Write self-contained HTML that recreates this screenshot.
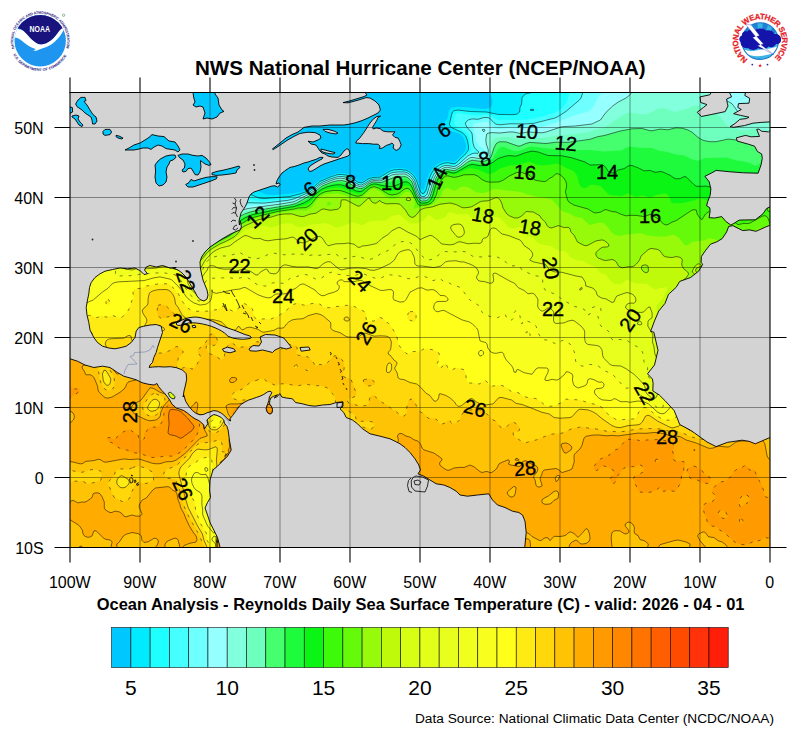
<!DOCTYPE html>
<html><head><meta charset="utf-8"><title>SST</title>
<style>html,body{margin:0;padding:0;background:#fff}svg{display:block}text{font-family:"Liberation Sans",sans-serif;fill:#000}</style></head><body>
<svg width="800" height="737" viewBox="0 0 800 737">
<rect width="800" height="737" fill="#fff"/>
<defs><clipPath id="mc"><rect x="70" y="92" width="700" height="456"/></clipPath></defs>
<g clip-path="url(#mc)">
<rect x="66" y="88" width="712" height="466" fill="#00c8ff"/>
<path d="M68.0 88.0L116.3 88.0L117.2 92.0L118.0 92.9L120.0 93.6L134.0 92.6L136.0 91.1L137.6 88.0L173.8 88.0L176.0 91.0L176.5 94.0L176.0 95.2L174.0 95.5L170.0 91.8L166.0 92.4L162.0 92.2L160.1 94.0L159.6 100.0L158.0 102.6L156.0 103.2L152.9 102.0L150.1 98.0L148.0 96.4L146.0 96.4L142.0 97.6L138.0 97.1L136.3 100.0L136.2 104.0L138.0 105.7L140.2 106.0L140.8 108.0L140.6 114.0L142.0 119.7L146.0 123.8L148.0 124.3L150.0 123.8L151.8 122.0L152.8 120.0L155.2 112.0L158.0 108.8L160.0 107.6L166.0 108.4L170.0 108.2L172.0 109.4L175.5 114.0L176.0 116.0L178.0 117.4L182.0 115.8L190.0 108.2L192.0 107.1L194.0 107.0L196.4 108.0L195.5 112.0L198.0 115.9L198.7 116.0L196.0 121.0L190.8 124.0L190.5 126.0L194.0 128.2L196.0 128.2L202.0 125.8L204.0 122.2L203.5 120.0L200.2 116.0L205.4 110.0L205.4 108.0L204.0 106.2L200.1 104.0L202.0 102.6L206.0 103.3L208.0 102.0L212.9 94.0L214.9 88.0L226.0 88.0L226.8 92.0L230.0 96.2L232.0 99.9L232.4 108.0L230.2 112.0L230.5 114.0L232.0 115.0L236.0 112.9L238.0 113.1L240.0 115.2L242.0 120.0L242.6 124.0L245.1 128.0L248.0 131.1L249.3 134.0L250.1 136.0L250.0 138.5L245.3 142.0L243.6 144.0L242.0 147.9L240.0 148.8L236.0 149.6L226.0 147.5L218.0 148.9L217.1 150.0L216.9 152.0L219.5 162.0L218.0 167.3L216.0 168.2L210.0 169.2L208.5 170.0L207.1 172.0L209.0 174.0L212.0 175.9L216.0 176.8L222.9 180.0L238.0 182.6L244.0 184.9L250.0 186.2L255.9 190.0L264.0 193.8L268.0 194.7L274.0 195.0L292.0 193.7L302.0 191.7L310.0 188.2L318.0 181.2L322.0 178.9L338.0 173.0L344.0 173.1L348.0 174.3L352.0 176.3L358.0 180.6L360.0 181.5L362.0 181.4L370.0 176.9L380.0 175.7L388.0 170.4L392.0 168.5L400.0 167.8L404.0 168.2L408.0 169.4L413.9 174.0L416.9 178.0L422.0 190.2L422.8 190.0L424.0 189.3L426.7 180.0L429.1 174.0L432.0 169.0L434.7 166.0L438.0 163.5L444.0 161.3L448.0 160.9L454.0 161.8L458.0 158.7L464.0 152.4L465.6 150.0L466.1 146.0L465.1 142.0L463.7 138.0L462.0 135.7L459.8 134.0L454.4 132.0L450.0 130.8L444.0 130.9L443.3 130.0L443.0 128.0L443.7 124.0L447.5 118.0L448.2 116.0L448.5 112.0L450.0 108.9L452.0 107.6L456.0 107.0L468.0 107.2L472.0 108.1L484.0 109.1L489.5 108.0L491.8 106.0L492.4 104.0L492.4 100.0L490.5 94.0L488.0 92.3L484.0 91.8L482.0 90.7L480.9 88.0L776.0 88.0L776.0 552.0L66.0 552.0L66.0 88.0ZM161.1 120.0L158.5 122.0L157.4 124.0L158.0 126.0L159.5 128.0L162.0 129.5L166.0 129.3L168.0 130.2L170.0 133.1L174.0 134.4L176.6 138.0L179.2 140.0L180.2 142.0L178.0 143.0L176.0 142.5L168.0 136.9L166.0 137.3L164.0 139.0L162.1 142.0L160.6 146.0L158.0 146.9L156.0 146.8L150.0 143.8L144.0 143.2L143.8 144.0L146.0 148.0L150.0 151.5L153.9 158.0L158.0 162.2L160.1 164.0L164.0 165.3L172.0 165.3L174.0 163.8L176.5 160.0L176.7 154.0L178.0 152.6L184.0 152.4L186.0 154.0L186.7 160.0L188.8 164.0L187.2 166.0L187.0 168.0L189.7 170.0L192.0 170.5L194.8 172.0L199.2 172.0L200.0 171.5L201.3 170.0L205.0 162.0L202.9 160.0L198.0 158.1L197.3 156.0L197.5 154.0L199.4 150.0L198.6 144.0L199.8 142.0L203.1 140.0L205.2 138.0L204.7 134.0L202.0 132.4L200.0 133.3L198.0 137.1L196.9 138.0L196.0 138.5L194.0 138.4L192.0 137.6L190.6 136.0L189.4 130.0L189.2 128.0L189.8 126.0L189.2 124.0L186.0 122.1L184.0 121.9L180.0 123.8L176.0 129.8L174.0 129.5L172.0 127.8L168.0 126.8L165.9 122.0L164.0 119.9L162.0 119.5ZM232.3 122.0L234.0 124.5L236.0 125.1L237.1 124.0L236.7 122.0L234.0 120.5ZM186.0 97.8L188.0 97.1L190.0 97.3L190.8 98.0L190.0 102.0L188.0 103.2L186.0 102.2L184.4 100.0L185.5 98.0ZM236.0 163.5L242.0 162.5L244.9 166.0L245.5 168.0L245.0 170.0L240.0 173.2L238.0 173.6L236.0 172.0L234.1 168.0L233.6 166.0L234.9 164.0Z" fill="#00ebff" fill-rule="evenodd"/>
<path d="M68.0 88.0L100.4 88.0L136.0 141.5L148.0 154.0L154.0 161.8L164.0 170.2L171.9 174.0L182.0 176.4L192.0 180.1L214.0 185.6L220.0 188.1L229.2 190.0L240.0 190.6L259.1 198.0L264.0 198.6L290.0 196.5L300.0 193.9L306.0 191.8L310.0 189.7L320.0 181.4L330.0 177.1L338.0 174.5L342.0 174.4L346.0 175.1L350.0 176.7L358.0 182.3L362.0 182.9L370.0 178.3L374.0 177.4L380.0 177.2L390.0 171.0L394.0 169.9L400.0 169.4L406.0 170.2L408.0 171.0L412.0 174.0L416.4 180.0L420.0 190.9L422.0 193.4L424.0 193.3L426.1 190.0L428.7 180.0L431.2 174.0L433.7 170.0L436.0 167.5L440.0 164.6L444.0 163.2L448.0 162.7L454.0 163.9L456.0 163.0L466.0 153.4L468.4 150.0L468.5 146.0L467.3 140.0L465.8 136.0L462.0 132.4L452.4 128.0L450.0 126.0L449.4 124.0L451.8 114.0L452.5 112.0L454.0 110.7L458.0 110.0L470.0 111.5L486.3 112.0L498.0 114.4L512.0 114.7L516.0 114.3L517.2 114.0L519.6 112.0L520.0 107.4L521.6 104.0L522.0 97.9L523.1 96.0L525.6 94.0L536.0 91.4L544.0 90.8L551.0 88.0L776.0 88.0L776.0 552.0L66.0 552.0L66.0 88.0ZM529.9 110.0L532.0 110.6L534.1 110.0L532.0 109.1L530.0 109.9Z" fill="#1effff" fill-rule="evenodd"/>
<path d="M68.0 88.0L99.4 88.0L136.0 142.9L147.0 154.0L151.2 160.0L156.0 164.9L164.0 172.1L170.0 175.8L180.4 180.0L196.0 184.5L218.8 192.0L226.0 193.5L230.0 194.9L238.0 196.3L244.0 198.2L262.0 201.3L288.0 198.7L296.0 196.8L310.0 190.8L314.0 188.1L320.0 182.6L322.0 181.5L334.0 176.7L338.0 175.6L342.0 175.5L348.0 177.0L358.0 183.3L360.0 184.1L362.0 184.1L370.0 179.2L374.0 178.3L380.0 178.3L390.0 172.4L392.0 171.5L396.0 170.8L402.0 170.7L406.0 171.3L410.6 174.0L415.4 180.0L420.0 193.3L422.0 195.1L424.0 195.2L425.6 194.0L426.7 192.0L431.7 176.0L436.0 169.5L440.0 166.2L444.0 164.5L448.0 164.2L454.0 165.3L456.0 164.6L470.0 152.0L471.1 150.0L469.7 138.0L468.2 134.0L464.0 130.7L456.0 126.4L454.4 124.0L454.0 119.0L454.8 116.0L456.0 113.9L460.0 113.0L468.0 114.5L478.0 115.4L486.0 114.5L490.0 115.5L498.0 119.9L500.0 120.3L526.0 119.8L536.0 118.3L554.0 112.7L558.0 111.0L562.0 108.2L565.6 104.0L567.6 100.0L569.4 94.0L569.7 88.0L776.0 88.0L776.0 552.0L66.0 552.0L66.0 88.0Z" fill="#46ffff" fill-rule="evenodd"/>
<path d="M68.0 88.0L98.6 88.0L134.0 141.5L146.0 154.0L152.0 161.9L162.0 171.6L165.3 174.0L171.9 178.0L182.0 182.3L194.0 185.6L220.0 194.5L226.0 196.1L236.0 202.1L240.0 203.5L246.0 202.7L264.0 203.1L288.0 200.3L294.0 198.9L309.6 192.0L322.0 182.4L330.0 179.1L338.0 176.6L342.0 176.5L346.0 177.2L350.0 179.0L358.0 184.3L360.0 185.0L362.0 184.9L370.0 180.1L374.0 179.1L380.0 179.1L382.0 178.5L392.0 172.7L398.0 171.9L404.0 171.9L406.0 172.4L408.0 173.2L411.5 176.0L414.5 180.0L418.0 191.1L420.0 195.0L422.0 196.6L424.0 196.6L426.0 195.5L427.0 194.0L432.0 178.0L434.0 174.0L438.0 169.1L442.0 166.4L446.0 165.3L454.0 166.5L455.8 166.0L458.8 164.0L468.0 155.8L472.0 153.7L474.0 153.2L478.0 153.3L479.0 152.0L476.0 149.5L474.0 146.6L472.8 142.0L472.2 134.0L465.2 124.0L466.0 122.0L468.1 120.0L472.0 118.9L478.0 119.3L484.0 117.5L488.0 117.6L490.0 118.5L494.0 122.8L496.0 124.2L500.0 124.8L510.0 123.8L526.0 123.9L534.0 123.3L554.9 118.0L558.0 116.6L566.0 111.4L579.4 100.0L581.0 98.0L584.2 88.0L776.0 88.0L776.0 552.0L66.0 552.0L66.0 88.0Z" fill="#6effff" fill-rule="evenodd"/>
<path d="M68.0 88.0L97.9 88.0L134.0 142.4L145.4 154.0L151.4 162.0L162.0 172.5L170.0 178.0L180.0 183.0L186.0 185.3L208.1 192.0L224.0 198.0L226.3 200.0L227.3 204.0L234.0 207.9L236.0 208.4L238.0 208.3L246.0 206.1L264.0 204.8L286.0 202.0L294.0 200.3L310.0 192.7L322.0 183.3L336.0 177.9L340.0 177.3L345.4 178.0L350.1 180.0L358.0 185.2L362.0 185.7L370.0 180.8L374.0 179.8L380.0 180.0L382.0 179.4L390.0 174.7L394.0 173.2L404.0 172.9L407.6 174.0L410.0 175.7L412.2 178.0L414.6 182.0L417.5 192.0L419.7 196.0L422.0 197.8L424.0 197.9L426.0 197.0L428.0 194.5L433.1 178.0L436.0 172.9L440.0 168.8L442.0 167.6L446.0 166.4L448.0 166.3L454.0 167.6L456.0 167.0L460.4 164.0L466.0 158.9L470.0 156.3L472.0 155.8L478.0 156.8L482.0 156.7L484.0 155.9L485.3 154.0L485.5 152.0L484.6 150.0L478.0 144.6L476.5 142.0L475.2 134.0L472.7 126.0L474.0 123.7L486.0 121.3L488.0 122.1L491.1 126.0L493.8 128.0L500.0 129.0L512.0 127.6L520.0 128.3L536.0 127.7L542.0 126.9L556.0 122.8L574.0 115.5L582.0 113.0L587.4 112.0L590.0 110.6L593.9 106.0L597.5 98.0L602.2 92.0L604.0 88.0L776.0 88.0L776.0 552.0L66.0 552.0L66.0 88.0Z" fill="#96ffff" fill-rule="evenodd"/>
<path d="M68.0 88.0L97.5 88.0L133.2 142.0L146.6 156.0L150.0 161.1L162.0 173.2L170.0 178.8L194.0 191.5L200.0 194.2L208.0 196.3L216.9 200.0L219.1 202.0L220.0 208.8L221.9 210.0L226.0 211.0L232.0 213.4L236.0 212.8L242.0 210.1L248.0 208.5L294.0 201.7L310.0 193.6L314.0 190.9L322.0 184.1L332.0 180.1L340.0 178.2L344.0 178.6L348.0 179.9L356.0 185.2L360.0 186.7L362.0 186.6L370.0 181.6L374.0 180.5L380.0 180.8L382.0 180.3L392.0 174.9L396.0 174.2L404.0 173.9L406.0 174.3L410.0 176.8L412.7 180.0L414.5 184.0L416.8 192.0L420.0 197.7L422.0 198.9L426.0 198.4L428.0 196.5L429.2 194.0L434.1 178.0L436.3 174.0L440.0 170.0L443.5 168.0L446.0 167.3L454.0 168.6L456.0 168.1L460.0 165.6L466.5 160.0L470.0 157.8L472.0 157.3L480.0 158.7L482.0 158.6L484.4 158.0L487.0 156.0L488.0 154.1L488.3 150.0L486.3 144.0L485.8 140.0L486.7 134.0L488.0 133.2L492.0 132.6L500.0 133.0L510.0 131.9L514.0 132.1L520.0 133.4L528.0 132.0L542.0 132.8L546.0 132.0L562.0 126.7L575.4 126.0L591.8 124.0L600.4 120.0L606.0 112.3L612.7 106.0L618.3 102.0L626.0 98.0L630.0 94.8L634.4 88.0L720.4 88.0L719.7 94.0L720.0 96.2L722.0 98.1L732.0 103.7L738.0 111.8L740.0 112.7L742.0 112.7L746.0 111.1L754.0 104.9L762.6 96.0L768.0 88.0L776.0 88.0L776.0 552.0L66.0 552.0L66.0 88.0ZM482.0 129.9L484.0 129.1L485.0 130.0L484.0 131.9L482.0 130.0Z" fill="#82ffdc" fill-rule="evenodd"/>
<path d="M68.0 88.0L97.0 88.0L132.7 142.0L146.0 156.0L150.0 161.7L162.0 174.0L168.0 178.3L174.0 181.6L184.0 188.2L192.0 194.6L202.0 199.6L214.2 204.0L215.8 206.0L215.3 208.0L213.0 212.0L213.0 214.0L214.0 214.9L218.8 216.0L224.0 218.3L228.0 219.3L232.7 218.0L242.0 212.8L248.0 210.7L254.0 209.3L288.0 204.2L296.0 202.2L312.0 193.3L320.0 186.4L324.0 184.0L338.0 179.4L344.0 179.6L346.0 180.2L350.0 182.1L356.0 186.2L360.0 187.6L362.0 187.5L370.0 182.3L372.0 181.6L382.0 181.3L394.0 175.7L404.0 175.1L406.0 175.5L410.0 178.0L412.0 180.4L413.7 184.0L416.9 194.0L420.0 198.9L421.9 200.0L426.0 199.6L428.2 198.0L429.4 196.0L435.1 178.0L439.2 172.0L442.0 169.8L446.0 168.3L454.0 169.6L456.0 169.1L461.0 166.0L470.0 159.2L474.0 158.9L482.0 160.1L486.0 159.1L488.0 157.7L490.1 154.0L491.3 144.0L492.0 142.0L494.0 138.9L496.0 137.8L506.0 136.8L512.0 137.4L518.0 139.4L520.0 139.5L530.0 137.2L544.0 138.1L556.0 135.7L564.0 135.3L588.0 132.2L604.0 127.4L616.0 120.0L622.0 115.4L628.0 112.8L632.0 112.7L642.0 114.4L646.0 114.3L650.0 113.1L658.0 108.6L662.0 107.9L666.0 108.5L672.0 111.3L676.0 111.7L688.0 108.4L694.0 105.8L696.0 105.5L698.4 106.0L702.0 109.2L704.0 109.7L708.0 108.2L710.0 108.1L712.0 109.3L718.0 115.0L728.0 126.1L732.0 128.1L740.0 130.2L748.4 130.0L756.0 128.8L758.0 128.9L759.9 130.0L761.9 136.0L763.9 138.0L776.0 141.9L776.0 552.0L66.0 552.0L66.0 88.0Z" fill="#6effbe" fill-rule="evenodd"/>
<path d="M68.0 88.0L96.6 88.0L132.2 142.0L145.5 156.0L149.7 162.0L162.0 174.6L168.0 179.1L173.2 182.0L184.0 189.7L191.5 196.0L209.2 206.0L210.4 208.0L210.5 210.0L207.8 218.0L208.0 218.7L224.0 225.0L228.5 224.0L240.0 216.4L244.6 214.0L250.0 212.1L256.0 210.6L290.0 205.0L296.0 203.5L312.0 194.4L322.0 186.0L332.0 182.1L338.0 180.7L342.0 180.6L346.0 181.6L356.0 187.4L360.0 188.6L364.0 187.5L368.6 184.0L372.0 182.4L373.9 182.0L380.0 182.6L382.0 182.3L392.6 178.0L404.0 176.6L406.0 176.9L408.3 178.0L412.0 182.0L416.2 194.0L420.0 200.2L422.0 201.1L426.0 200.7L428.0 199.7L430.0 197.0L436.0 178.3L438.0 174.9L440.6 172.0L443.7 170.0L446.0 169.3L454.0 170.7L456.0 170.1L462.0 166.5L467.8 162.0L472.0 160.2L482.0 161.6L487.7 160.0L490.2 158.0L491.4 156.0L494.0 148.0L496.0 143.9L498.0 142.4L500.0 141.7L506.0 141.9L518.0 146.1L520.1 146.0L526.0 143.4L530.0 142.4L546.0 143.5L556.0 142.2L568.0 142.4L590.0 139.3L598.0 136.6L604.0 135.6L620.0 131.1L632.0 128.8L642.0 128.5L650.0 130.7L652.0 130.8L660.0 129.1L668.0 129.8L676.0 127.8L682.0 128.2L688.0 130.0L692.0 132.2L698.0 137.4L702.4 140.0L706.0 141.0L710.0 141.7L716.0 141.7L728.0 139.1L740.0 140.4L748.0 140.0L752.0 141.4L756.0 144.7L758.0 144.9L762.0 142.6L764.0 142.4L772.0 145.1L776.0 145.6L776.0 552.0L66.0 552.0L66.0 88.0Z" fill="#46ff6e" fill-rule="evenodd"/>
<path d="M68.0 88.0L96.1 88.0L132.0 142.3L145.0 156.0L149.2 162.0L164.0 176.9L184.0 191.0L190.0 196.3L196.3 200.0L207.1 208.0L208.3 210.0L208.4 212.0L206.2 216.0L202.0 220.0L200.8 222.0L201.5 224.0L208.0 225.4L220.0 230.1L222.0 230.2L226.0 228.9L232.0 225.1L242.0 217.4L252.0 213.2L296.0 204.7L310.0 197.3L320.0 188.8L324.0 186.3L330.2 184.0L338.0 182.3L342.0 182.4L346.0 183.5L356.0 188.9L360.0 189.8L362.0 189.6L364.0 188.6L370.1 184.0L372.0 183.3L374.0 182.9L382.0 183.7L402.0 179.1L406.0 178.8L410.0 181.3L412.0 184.3L415.5 194.0L418.0 198.9L420.0 201.4L422.0 202.1L426.0 201.8L428.0 201.0L430.6 198.0L436.3 180.0L438.4 176.0L442.0 172.1L446.0 170.4L448.0 170.4L452.0 171.6L456.0 171.2L468.0 163.6L472.0 161.9L480.0 163.3L486.0 162.8L491.0 160.0L492.9 158.0L498.0 149.4L500.0 147.6L502.0 146.9L504.0 147.1L514.0 150.9L516.0 151.2L520.0 150.6L528.0 147.2L532.0 146.6L548.0 148.6L556.0 149.1L568.0 148.7L578.0 150.2L590.0 149.9L604.0 151.4L620.0 150.6L622.3 150.0L626.0 147.7L630.0 146.5L641.4 148.0L650.0 147.8L652.0 148.0L660.0 151.1L666.0 151.8L676.0 154.5L684.0 155.6L692.0 159.3L698.0 160.7L700.0 160.3L704.0 158.3L706.0 158.0L726.0 157.5L738.0 160.8L744.0 161.5L750.0 163.0L754.0 165.3L756.0 165.5L758.0 164.9L760.0 163.3L762.0 159.1L764.0 157.0L768.0 155.5L776.0 154.0L776.0 552.0L66.0 552.0L66.0 88.0Z" fill="#1efa3c" fill-rule="evenodd"/>
<path d="M68.0 88.0L95.7 88.0L131.3 142.0L144.0 155.4L150.0 163.4L160.0 173.9L166.0 179.4L183.6 192.0L190.0 197.6L196.0 201.3L204.7 208.0L206.5 210.0L206.8 212.0L206.0 214.0L194.6 224.0L192.8 226.0L191.9 228.0L194.0 228.8L200.0 229.5L212.0 233.1L216.0 234.8L220.0 234.6L226.0 232.1L232.0 228.0L241.2 220.0L246.0 217.3L252.0 214.8L278.0 209.2L294.0 206.5L304.0 202.9L310.0 199.4L318.0 192.0L322.0 189.0L328.0 186.5L334.0 185.1L342.0 185.0L348.0 187.0L356.0 191.0L360.0 191.6L362.0 191.1L370.0 185.2L373.3 184.0L376.0 184.0L382.0 185.5L390.0 186.6L392.0 186.5L396.0 185.4L403.9 182.0L406.0 181.8L408.0 182.3L410.2 184.0L417.7 200.0L419.3 202.0L422.0 203.2L426.0 202.8L428.4 202.0L430.7 200.0L432.6 196.0L436.0 183.9L438.0 178.8L440.0 175.6L444.0 172.2L448.0 171.6L452.0 172.8L456.0 172.5L468.0 165.6L472.0 164.3L480.0 165.7L486.0 165.6L492.0 162.9L498.0 158.6L505.9 156.0L510.0 155.6L516.0 156.2L526.0 152.5L532.0 151.1L538.2 152.0L548.0 155.5L562.0 155.8L572.0 157.8L584.9 162.0L590.0 165.0L602.0 164.7L604.4 166.0L608.0 171.2L609.1 172.0L615.4 174.0L615.1 176.0L616.0 176.7L616.7 176.0L615.7 172.0L617.9 170.0L624.0 168.7L628.0 166.1L630.0 165.4L632.0 165.5L638.6 168.0L644.0 170.9L650.0 170.4L656.0 172.3L660.0 171.5L662.0 171.7L670.0 175.2L674.0 178.1L676.0 178.8L680.0 178.7L684.0 176.7L686.0 176.7L694.0 184.7L696.0 186.1L698.0 186.4L706.0 186.1L714.0 187.8L716.0 187.5L720.0 185.6L730.0 183.7L744.0 182.7L747.6 184.0L750.0 187.6L754.0 187.3L758.0 185.4L760.0 185.5L762.1 188.0L766.0 189.3L776.0 187.1L776.0 552.0L66.0 552.0L66.0 88.0Z" fill="#0af514" fill-rule="evenodd"/>
<path d="M68.0 88.0L95.2 88.0L132.0 143.6L144.1 156.0L150.0 163.9L166.0 180.6L176.0 188.5L182.0 192.3L190.0 199.2L194.6 202.0L204.4 210.0L205.0 212.0L204.1 214.0L188.7 226.0L185.4 230.0L185.0 232.0L188.0 233.1L198.0 233.9L204.0 237.0L212.0 239.7L214.0 239.9L218.0 239.0L228.0 233.9L234.0 229.3L240.0 222.7L246.0 219.1L252.0 216.4L260.0 214.2L280.0 209.9L294.0 207.6L306.0 204.7L310.0 202.2L316.0 195.6L320.2 192.0L324.0 189.9L328.0 188.7L336.0 187.5L342.0 187.9L354.0 192.8L358.0 193.8L362.0 192.9L370.0 186.4L374.0 185.1L378.0 185.9L388.0 190.3L392.0 190.9L398.0 189.4L404.0 185.7L408.0 185.4L410.0 186.7L412.0 189.8L418.0 202.3L420.0 203.9L426.0 203.9L430.0 202.4L432.1 200.0L434.6 194.0L437.9 182.0L439.9 178.0L444.0 173.8L448.0 173.2L454.0 174.6L458.0 173.3L464.0 169.9L470.0 167.9L478.0 169.5L486.0 173.2L490.0 173.8L494.0 172.7L500.0 168.5L510.0 165.5L520.0 164.4L528.0 161.7L530.0 161.7L536.0 164.6L542.0 165.6L550.0 164.8L556.0 163.4L560.0 164.6L566.2 168.0L571.5 170.0L574.4 172.0L577.3 176.0L578.6 182.0L580.0 185.3L582.0 187.4L584.0 188.0L586.0 187.9L588.5 186.0L592.0 184.6L598.0 185.4L600.3 186.0L602.0 187.2L608.2 194.0L610.0 195.0L620.0 196.1L622.1 196.0L628.0 193.3L634.0 196.6L636.0 196.9L642.0 195.6L644.0 195.7L648.0 197.2L650.0 197.4L652.0 197.0L656.0 195.0L664.0 193.5L666.0 193.6L668.8 196.0L669.9 198.0L670.9 202.0L672.0 203.0L682.0 203.3L694.0 200.5L700.0 198.0L708.0 200.4L716.0 199.0L720.0 199.3L724.7 200.0L730.0 202.2L738.0 208.9L740.0 209.7L742.0 209.5L746.0 208.1L752.0 207.8L754.0 207.2L760.3 202.0L761.5 200.0L762.2 194.0L764.0 192.5L776.0 189.4L776.0 552.0L66.0 552.0L66.0 88.0Z" fill="#3cfa0a" fill-rule="evenodd"/>
<path d="M68.0 88.0L94.7 88.0L131.8 144.0L143.5 156.0L148.0 162.3L157.4 172.0L165.7 182.0L174.0 197.2L175.5 198.0L176.0 198.9L176.8 196.0L178.0 194.4L180.0 194.4L182.6 196.0L188.0 201.1L196.0 206.2L200.5 210.0L201.8 212.0L200.0 214.3L188.0 221.8L182.0 227.7L179.8 234.0L180.0 237.0L182.0 237.9L190.0 238.0L194.0 238.8L202.0 243.4L208.0 245.3L212.0 244.4L230.0 235.4L234.3 232.0L240.9 224.0L246.0 220.9L254.0 217.2L278.0 211.4L297.9 208.0L306.0 207.6L308.0 206.7L312.0 203.4L318.0 195.7L324.0 192.0L334.0 190.4L340.0 190.5L354.0 195.5L358.0 196.3L362.0 195.1L370.0 187.9L374.0 186.6L378.6 188.0L388.0 194.0L392.0 195.0L397.3 194.0L404.0 189.3L408.0 188.4L410.0 189.6L412.0 192.5L418.0 204.5L420.0 205.3L426.0 205.0L430.0 203.8L432.0 202.4L433.8 200.0L436.6 194.0L438.0 187.4L440.0 182.4L444.0 177.0L446.0 175.9L448.0 175.9L452.0 177.2L456.0 177.2L466.0 174.6L468.0 175.0L474.0 174.6L478.0 176.2L484.0 180.8L488.0 182.0L492.0 182.2L500.0 181.6L503.4 180.0L509.3 176.0L518.0 172.1L520.0 172.0L528.0 174.5L530.0 175.6L534.0 179.6L536.0 180.4L544.0 181.6L546.0 181.2L550.0 178.0L552.0 177.3L555.6 174.0L558.0 173.8L562.0 176.2L565.3 180.0L566.7 186.0L565.4 192.0L567.5 200.0L568.9 202.0L574.0 205.1L586.0 208.2L590.0 210.0L594.0 212.7L596.0 212.9L601.0 212.0L604.0 210.0L606.0 209.6L612.0 211.6L616.0 211.9L620.3 214.0L626.0 215.9L630.0 215.3L636.0 215.4L644.0 216.6L650.0 214.5L652.0 215.0L659.7 220.0L663.4 224.0L666.0 224.9L668.0 224.5L672.0 222.1L676.0 220.7L690.0 211.3L692.0 210.1L694.0 209.7L696.3 210.0L697.1 214.0L700.0 218.2L702.0 219.7L705.5 214.0L708.0 212.1L712.0 211.2L716.0 211.2L719.1 212.0L724.0 215.4L728.0 216.4L730.0 217.6L734.0 222.0L738.0 224.6L744.0 223.4L748.0 223.6L750.0 223.0L762.0 216.4L764.0 215.7L766.1 216.0L767.9 218.0L770.0 223.8L771.6 226.0L774.0 228.0L776.0 228.8L776.0 552.0L66.0 552.0L66.0 88.0ZM772.0 193.7L776.0 192.9L776.0 212.6L768.0 211.1L767.4 210.0L767.2 208.0L768.1 202.0L768.0 196.0L770.8 194.0Z" fill="#64fa0a" fill-rule="evenodd"/>
<path d="M68.0 88.0L94.3 88.0L95.1 90.0L110.0 111.6L131.2 144.0L144.0 157.2L148.0 163.0L156.8 172.0L162.9 180.0L164.9 184.0L169.1 196.0L171.9 206.0L177.0 220.0L179.0 228.0L178.7 232.0L177.2 236.0L172.0 242.0L174.0 242.7L186.0 243.0L190.1 244.0L197.4 250.0L198.4 252.0L198.8 256.0L200.0 256.5L202.0 255.4L204.6 252.0L208.0 249.2L216.7 244.0L232.5 236.0L236.8 232.0L239.3 228.0L242.0 225.2L248.0 221.8L256.0 218.3L282.5 212.0L298.0 210.2L306.0 210.5L310.0 208.8L312.0 207.2L318.0 198.5L320.0 196.6L326.4 194.0L338.0 193.2L356.0 198.9L360.0 198.6L364.0 196.0L370.0 189.9L374.0 188.4L378.0 190.0L388.1 198.0L392.0 199.1L396.0 198.7L398.0 197.8L406.0 191.8L408.8 192.0L410.0 192.7L412.0 195.3L414.0 199.0L414.7 202.0L414.7 204.0L413.6 208.0L414.0 208.5L416.0 208.5L418.0 207.6L428.0 205.8L432.8 204.0L441.0 196.0L443.1 190.0L446.0 188.2L448.0 188.2L454.0 190.5L456.0 190.3L460.0 187.4L464.0 186.3L469.7 188.0L476.0 192.3L482.0 193.1L486.0 192.5L492.0 189.7L496.0 188.9L504.0 190.2L518.0 191.4L524.0 193.1L526.0 194.2L530.0 194.8L536.0 196.7L540.0 197.0L552.0 199.6L562.0 211.1L568.0 213.1L576.0 217.1L582.0 218.1L588.0 223.8L590.0 224.9L598.0 222.7L602.0 222.8L604.0 223.5L606.7 226.0L612.0 232.8L613.3 234.0L616.0 235.1L620.2 236.0L624.0 234.7L634.0 234.1L640.0 233.0L648.0 235.4L656.0 236.4L666.0 236.4L672.0 234.7L674.0 234.8L679.4 238.0L684.0 244.4L686.0 245.5L688.0 245.1L692.0 242.1L694.0 241.4L702.0 240.8L710.0 238.2L716.0 239.7L722.0 242.4L726.0 245.5L728.0 246.4L730.0 246.4L740.0 240.0L748.0 232.8L755.8 230.0L760.0 227.5L762.0 227.8L762.9 230.0L763.7 238.0L767.2 246.0L768.5 252.0L768.5 256.0L770.3 266.0L769.1 282.0L769.5 284.0L772.0 288.3L773.5 290.0L776.0 291.6L776.0 552.0L66.0 552.0L66.0 88.0ZM327.8 202.0L326.7 204.0L328.0 205.6L330.0 205.6L331.1 204.0L330.1 202.0L328.0 201.8Z" fill="#96fa0a" fill-rule="evenodd"/>
<path d="M68.0 88.0L93.7 88.0L98.5 96.0L112.0 115.3L130.7 144.0L142.3 156.0L148.3 164.0L158.0 174.3L160.7 178.0L162.7 182.0L175.4 220.0L177.7 230.0L177.5 232.0L176.0 235.4L165.5 244.0L164.1 246.0L164.2 248.0L168.0 248.3L178.0 247.3L182.7 248.0L187.8 252.0L189.3 254.0L191.0 258.0L196.0 260.5L198.0 260.9L200.0 260.5L202.0 258.9L208.0 251.7L212.0 248.6L219.8 244.0L234.0 237.0L238.0 233.3L241.7 228.0L244.0 226.3L258.0 219.9L270.0 217.4L278.0 214.9L284.0 214.0L292.0 213.9L302.0 216.7L310.0 214.1L316.0 213.2L322.0 209.2L324.0 209.0L330.0 210.3L338.0 209.2L339.5 208.0L340.7 206.0L340.9 202.0L341.4 200.0L342.0 199.8L346.0 199.9L358.0 206.2L360.0 205.8L368.0 198.4L370.0 198.3L370.3 200.0L372.0 202.0L374.0 203.1L376.0 203.2L380.0 200.4L381.2 202.0L386.0 203.8L396.0 203.6L400.0 204.3L405.4 210.0L409.1 216.0L412.0 217.5L414.0 216.8L416.0 215.3L420.0 210.2L422.0 209.1L425.3 208.0L432.0 207.0L440.0 204.2L450.0 203.0L456.0 204.5L462.0 207.5L464.0 207.8L470.0 207.2L472.0 206.6L480.0 201.8L488.0 200.8L494.5 198.0L498.0 197.8L500.2 200.0L502.0 204.0L503.0 208.0L506.0 212.9L509.8 216.0L514.0 217.8L517.6 218.0L520.0 216.9L521.7 216.0L526.0 211.5L533.3 212.0L540.0 215.9L541.0 218.0L545.3 222.0L547.3 226.0L550.0 227.8L552.0 227.8L558.0 225.7L564.0 227.6L568.0 227.3L569.5 228.0L570.8 232.0L574.0 235.0L577.5 242.0L584.0 245.4L586.0 245.8L588.0 245.2L596.0 240.9L602.0 239.9L604.0 240.4L608.5 244.0L608.9 246.0L608.0 246.8L602.0 247.3L600.0 248.8L596.3 252.0L595.8 254.0L596.3 256.0L598.1 258.0L604.0 260.3L606.0 260.5L612.0 259.5L614.0 260.1L616.4 262.0L618.4 266.0L622.0 267.9L628.0 266.8L632.0 266.7L634.0 266.0L636.4 264.0L639.6 260.0L641.0 256.0L648.0 249.8L650.0 248.7L652.0 248.5L658.0 249.5L660.0 250.9L663.7 256.0L666.0 256.9L672.0 257.6L676.0 256.6L680.0 257.3L681.1 258.0L682.4 260.0L681.7 264.0L682.1 266.0L684.0 269.1L687.7 272.0L688.7 274.0L686.0 278.0L683.2 280.0L682.5 282.0L684.0 285.4L686.0 286.1L690.0 285.2L692.0 285.4L695.2 280.0L695.7 276.0L694.7 274.0L692.2 272.0L695.1 266.0L698.0 263.8L700.0 264.0L701.7 266.0L696.6 268.0L695.5 270.0L696.2 272.0L698.0 273.6L700.0 273.3L701.8 272.0L702.8 270.0L702.5 268.0L704.0 266.4L706.0 265.7L707.4 264.0L703.2 260.0L705.5 258.0L708.0 257.4L710.0 257.6L712.0 259.3L714.0 259.9L718.0 259.6L724.0 261.5L730.0 261.5L738.0 257.3L746.0 254.9L752.0 254.7L754.0 253.7L756.0 251.4L758.2 250.0L760.0 249.5L762.0 249.8L764.0 252.0L766.5 264.0L767.0 284.0L770.4 294.0L772.0 296.6L776.0 296.8L776.0 552.0L66.0 552.0L66.0 88.0ZM641.6 266.0L641.3 268.0L642.0 269.8L644.0 272.1L646.0 272.8L648.0 272.0L648.5 270.0L648.0 266.0L646.0 264.9L642.0 265.6ZM773.8 306.0L774.0 307.2L775.1 306.0L774.0 304.9ZM408.0 197.6L410.0 198.0L410.7 200.0L410.0 200.6L406.1 200.0L406.9 198.0Z" fill="#befa0a" fill-rule="evenodd"/>
<path d="M68.0 88.0L93.0 88.0L97.9 96.0L112.0 116.0L130.0 143.9L142.0 156.5L148.0 164.5L156.0 172.8L160.0 178.5L174.2 220.0L176.5 230.0L175.6 234.0L174.0 235.8L165.2 242.0L158.6 248.0L157.1 250.0L157.4 252.0L160.0 252.5L174.2 252.0L178.0 252.8L179.8 254.0L181.3 256.0L183.2 260.0L194.5 264.0L198.0 266.2L200.0 264.6L208.0 254.0L212.0 250.4L219.3 246.0L228.0 242.4L234.0 239.1L238.0 236.2L244.0 230.0L250.0 228.2L256.0 227.6L262.0 226.1L266.0 226.1L270.0 227.5L272.0 227.4L276.0 226.4L280.0 224.5L288.0 223.0L292.0 223.8L296.0 226.3L300.0 227.5L304.0 226.9L312.0 224.2L318.0 224.1L324.0 223.1L330.0 224.5L336.0 227.6L338.0 227.6L352.0 222.5L354.0 222.3L360.0 224.7L362.0 224.9L364.0 224.7L368.0 222.1L370.0 221.4L378.0 220.6L384.0 220.8L386.0 220.3L392.0 215.9L398.0 214.5L400.0 215.1L402.0 216.5L408.0 222.1L410.0 223.2L416.0 223.4L418.0 223.0L424.0 219.8L428.0 215.1L430.0 215.6L436.0 219.8L438.0 219.6L444.0 218.0L446.0 216.2L448.0 212.9L450.0 211.9L454.0 213.5L458.0 214.3L468.0 214.2L472.0 217.4L478.0 219.8L480.0 220.0L488.0 217.0L494.0 216.5L498.0 217.3L500.0 218.3L504.1 222.0L507.1 226.0L510.0 228.1L514.0 228.5L518.0 227.1L522.0 227.7L524.0 229.9L526.0 235.2L532.0 237.8L538.0 242.9L542.0 244.5L551.1 246.0L556.0 249.4L560.0 251.0L566.0 251.5L570.0 257.0L578.0 260.8L582.0 260.6L584.0 261.3L587.8 264.0L593.3 266.0L596.3 268.0L600.0 272.4L606.0 274.9L611.6 282.0L614.0 283.7L616.0 284.3L620.0 284.2L622.0 283.4L626.0 280.3L628.1 280.0L634.0 283.1L636.0 283.6L646.0 283.7L648.0 284.6L654.0 289.2L656.0 289.5L660.0 288.0L664.0 287.4L666.0 287.3L667.2 288.0L666.8 290.0L663.3 298.0L657.8 304.0L656.7 306.0L656.6 310.0L660.0 321.2L662.0 320.6L664.4 316.0L666.1 314.0L672.0 311.3L673.3 312.0L676.0 316.4L678.0 316.6L680.0 315.7L690.0 307.9L694.0 302.0L703.1 294.0L706.0 292.6L712.0 291.2L714.2 290.0L720.0 282.7L726.6 278.0L728.0 276.4L728.5 274.0L730.0 271.9L740.0 271.7L749.0 270.0L752.7 268.0L758.0 263.4L760.0 263.1L762.0 264.0L763.0 266.0L764.0 271.8L764.4 282.0L766.6 296.0L768.5 302.0L769.9 316.0L770.1 328.0L771.4 342.0L772.0 342.6L776.0 342.4L776.0 552.0L66.0 552.0L66.0 88.0Z" fill="#d7ff14" fill-rule="evenodd"/>
<path d="M68.0 88.0L92.3 88.0L92.9 90.0L108.0 111.2L129.1 144.0L142.0 157.5L146.6 164.0L156.1 174.0L158.6 178.0L172.8 220.0L175.2 230.0L175.0 232.0L174.0 234.2L165.5 240.0L150.9 252.0L149.4 254.0L150.0 256.0L158.0 256.8L168.0 256.2L172.0 256.7L178.1 262.0L188.7 266.0L194.0 270.1L196.0 270.9L198.0 270.9L200.0 269.6L206.0 259.2L210.0 254.6L214.0 251.4L220.7 248.0L230.0 245.7L244.0 235.8L247.7 236.0L254.0 238.7L260.0 238.4L264.0 240.2L268.0 240.8L286.0 238.8L292.0 237.1L294.0 237.5L299.0 242.0L302.0 242.8L306.0 242.1L316.0 237.1L318.0 236.4L320.0 236.5L322.3 238.0L326.0 243.7L328.0 245.8L336.0 243.8L348.0 243.0L354.0 244.2L358.0 247.3L360.0 247.3L362.2 246.0L368.0 245.4L376.0 243.6L382.0 238.3L388.0 234.5L392.0 230.7L398.0 227.6L400.0 227.5L407.6 232.0L416.0 236.0L420.0 239.8L430.0 235.4L432.0 235.7L437.9 240.0L440.0 242.6L442.0 244.0L450.0 244.9L454.0 244.2L458.0 242.0L460.0 241.7L468.0 243.8L474.0 243.2L480.0 243.4L482.1 242.0L482.1 240.0L483.8 238.0L486.0 237.8L488.0 236.1L490.0 229.9L492.0 228.0L494.0 228.0L496.0 228.6L502.0 234.0L508.0 235.4L520.0 240.0L521.9 242.0L524.0 245.5L530.0 249.6L531.9 252.0L532.7 254.0L532.7 256.0L530.0 259.5L530.0 260.3L533.9 262.0L546.0 264.9L548.0 268.0L550.1 270.0L554.0 271.8L562.0 272.3L576.0 276.0L582.0 277.0L585.3 282.0L585.8 286.0L592.0 287.8L594.0 288.9L596.4 292.0L596.6 294.0L598.0 296.0L601.5 298.0L606.0 298.9L612.0 302.5L614.0 301.9L616.8 296.0L626.0 292.7L628.0 292.7L632.0 294.0L634.0 295.5L635.6 298.0L635.9 300.0L635.5 302.0L634.0 303.2L630.0 303.1L627.3 304.0L625.8 306.0L625.6 308.0L628.0 309.8L636.0 312.3L642.0 312.4L644.0 311.7L648.0 307.3L650.0 307.1L652.0 312.8L652.2 316.0L651.9 318.0L648.9 320.0L648.0 321.5L647.8 326.0L652.6 334.0L652.4 342.0L653.8 346.0L654.9 354.0L656.0 356.8L658.0 356.7L666.0 350.7L676.3 338.0L680.0 331.9L682.0 330.7L686.0 330.0L686.7 328.0L685.9 324.0L686.3 322.0L687.2 320.0L689.0 318.0L692.0 316.4L702.0 313.0L706.0 309.8L712.0 306.7L714.3 304.0L722.0 301.8L724.1 300.0L728.0 293.6L732.0 290.1L734.0 289.5L736.9 290.0L748.0 294.2L760.0 292.8L762.0 294.3L766.1 306.0L768.0 317.7L769.5 342.0L771.0 344.0L772.0 344.3L776.0 343.5L776.0 552.0L66.0 552.0L66.0 88.0ZM580.5 288.0L580.0 288.5L580.0 290.2L582.0 288.9L582.5 288.0L582.0 287.5ZM638.2 322.0L637.2 324.0L638.0 324.5L640.0 325.0L642.0 324.1L640.0 320.8ZM452.0 225.4L454.0 224.5L458.0 224.0L460.0 224.2L462.0 225.4L463.5 228.0L464.4 232.0L464.0 234.3L462.0 236.2L460.0 237.1L458.0 237.2L456.0 235.7L451.5 230.0L450.6 228.0L451.2 226.0Z" fill="#e1ff19" fill-rule="evenodd"/>
<path d="M68.0 88.0L90.8 88.0L92.7 92.0L104.0 106.8L110.3 116.0L124.9 140.0L129.2 146.0L142.0 159.2L146.6 166.0L154.0 173.7L158.0 180.0L162.9 196.0L166.0 203.4L167.7 212.0L171.6 222.0L173.1 230.0L172.9 232.0L171.1 234.0L164.0 238.4L160.3 242.0L148.0 251.0L138.4 260.0L138.0 262.2L140.0 262.5L154.0 261.0L164.0 260.7L168.0 261.2L172.1 264.0L184.0 268.0L194.0 275.9L196.0 276.3L200.0 273.9L202.6 270.0L206.0 262.6L208.0 260.3L212.0 257.4L218.0 256.0L227.1 256.0L234.0 254.3L238.0 252.5L240.0 252.6L246.0 256.4L254.0 258.9L258.0 258.5L270.0 253.6L274.0 253.2L284.0 254.8L302.0 254.1L308.0 255.6L312.0 255.0L316.0 255.5L328.0 254.6L334.0 253.6L336.0 254.2L342.0 258.5L344.0 258.9L356.0 256.2L370.0 259.3L374.0 258.3L380.0 254.2L390.0 249.4L396.0 243.6L400.0 242.0L404.0 241.4L408.0 242.0L412.0 243.9L414.3 246.0L418.0 251.4L422.0 255.9L426.0 259.5L428.0 260.0L434.0 258.6L442.0 252.4L446.0 251.5L451.3 252.0L464.0 251.5L468.0 252.5L472.1 256.0L474.0 256.6L482.0 257.0L488.0 256.1L496.0 256.5L504.0 260.0L508.0 264.7L512.0 265.9L518.0 265.6L520.0 266.9L522.0 269.9L524.0 271.5L528.0 272.8L532.0 275.2L540.0 276.5L542.0 277.4L542.8 280.0L542.7 286.0L545.2 290.0L548.0 291.9L552.0 292.9L558.5 296.0L562.3 300.0L570.0 303.8L572.7 306.0L580.8 308.0L584.0 309.4L584.9 310.0L586.0 314.3L588.0 314.9L590.1 314.0L590.5 310.0L592.0 307.8L596.0 306.7L600.0 307.5L600.6 308.0L601.0 310.0L600.8 312.0L600.0 314.3L597.9 316.0L599.7 324.0L600.9 326.0L607.1 330.0L609.0 332.0L611.0 338.0L612.8 340.0L614.0 340.6L618.0 339.4L626.0 340.0L628.0 341.0L632.0 344.3L640.0 348.4L642.4 352.0L643.9 356.0L643.9 362.0L647.3 366.0L647.7 368.0L647.1 372.0L648.0 375.8L650.0 379.0L652.0 379.9L654.0 379.3L658.4 376.0L660.0 374.0L664.4 364.0L666.0 362.7L672.0 360.2L674.3 358.0L676.9 354.0L682.0 351.1L687.7 346.0L693.8 342.0L694.7 340.0L694.3 336.0L695.8 334.0L700.0 333.1L701.8 332.0L704.0 329.5L706.0 328.4L710.0 327.6L718.0 322.2L730.0 319.1L734.5 314.0L744.0 307.6L748.0 307.6L754.0 309.8L758.0 308.8L760.0 309.4L762.0 311.4L765.3 318.0L766.0 320.9L768.1 342.0L768.8 344.0L770.0 344.8L772.0 345.1L776.0 344.4L776.0 552.0L66.0 552.0L66.0 88.0Z" fill="#e8ff1e" fill-rule="evenodd"/>
<path d="M68.0 88.0L77.2 88.0L76.2 92.0L79.4 96.0L80.1 98.0L79.1 100.0L74.0 102.9L72.5 104.0L72.0 105.1L71.7 108.0L72.4 116.0L71.4 118.0L70.0 118.9L66.0 119.8L66.0 88.0ZM84.0 101.9L86.0 101.2L92.0 103.8L98.0 103.7L102.0 106.9L110.0 118.2L111.3 124.0L110.1 128.0L110.8 132.0L110.8 140.0L106.0 144.5L104.0 150.7L102.0 152.3L98.0 152.1L92.0 154.7L90.0 154.0L92.0 153.2L92.4 152.0L92.9 144.0L93.7 142.0L96.0 139.3L100.4 136.0L100.8 132.0L99.3 128.0L96.0 123.6L90.0 122.4L86.0 120.3L83.2 118.0L82.2 116.0L82.4 114.0L83.5 112.0L85.6 110.0L86.2 108.0L84.0 104.7L83.9 102.0ZM105.4 128.0L106.0 128.6L109.6 128.0L106.0 127.5ZM80.0 129.2L82.0 128.2L84.0 128.4L86.2 130.0L86.3 132.0L84.4 138.0L82.0 140.5L80.0 141.3L78.0 140.2L73.8 136.0L72.9 134.0L74.0 131.8L76.0 131.5L78.8 130.0ZM84.0 145.7L86.0 147.5L87.0 150.0L86.8 152.0L86.0 152.3L84.0 151.6L82.2 150.0L81.6 148.0L82.0 146.6L82.8 146.0ZM130.0 157.5L131.2 158.0L132.8 168.0L132.8 170.0L132.0 171.8L126.0 173.6L123.3 176.0L122.2 178.0L122.0 184.1L120.6 186.0L112.6 190.0L106.5 202.0L104.0 203.8L102.0 202.0L100.4 198.0L102.4 192.0L101.5 188.0L102.5 180.0L104.7 176.0L104.9 174.0L104.0 171.8L101.1 168.0L102.0 166.0L108.0 167.5L114.0 171.5L118.0 171.6L120.8 170.0L122.0 168.6L126.0 160.5L128.9 158.0ZM86.0 165.7L87.0 166.0L88.1 168.0L88.0 168.9L86.0 171.3L85.7 166.0ZM66.6 186.0L68.0 186.4L70.0 188.0L71.2 190.0L72.0 196.6L73.9 200.0L78.0 201.8L81.0 204.0L82.9 206.0L84.8 210.0L87.5 212.0L90.0 215.1L95.4 218.0L96.9 220.0L101.4 224.0L103.8 228.0L105.8 234.0L108.0 235.2L112.0 234.9L118.8 240.0L119.4 242.0L118.4 248.0L116.2 250.0L112.0 251.7L111.8 254.0L113.9 258.0L118.0 260.9L123.2 268.0L126.0 269.2L132.2 270.0L138.0 268.1L146.0 268.8L156.0 268.1L164.0 266.5L178.4 270.0L182.0 271.8L186.4 276.0L188.1 284.0L192.0 290.3L196.0 294.3L198.0 294.4L198.2 294.0L199.1 290.0L199.3 284.0L200.4 280.0L207.3 270.0L208.0 267.6L210.0 265.6L214.1 266.0L218.0 268.1L224.0 269.2L230.0 269.0L236.0 271.0L242.0 269.5L244.0 269.5L250.0 271.0L256.0 275.0L258.0 274.8L260.5 272.0L266.0 268.9L267.8 270.0L268.5 272.0L270.0 273.2L274.0 273.9L276.0 273.5L278.0 272.0L280.1 268.0L282.0 266.0L284.0 265.0L286.0 264.9L292.0 266.4L298.0 267.0L308.0 266.9L316.0 268.6L318.4 268.0L322.9 264.0L326.0 262.2L328.0 261.7L330.6 262.0L337.7 268.0L340.0 269.5L342.0 269.9L348.0 268.4L358.0 267.9L366.0 268.6L369.9 270.0L374.0 270.4L380.0 268.5L390.0 263.7L394.4 260.0L397.7 254.0L399.7 252.0L404.0 250.4L408.0 249.7L410.0 250.1L412.0 252.3L414.5 258.0L414.9 264.0L417.6 266.0L422.0 266.0L434.0 267.6L441.0 266.0L445.3 262.0L448.0 261.2L456.0 260.7L460.0 261.8L464.0 262.0L470.0 264.1L473.9 266.0L476.5 268.0L478.6 272.0L478.2 274.0L476.8 276.0L476.5 278.0L478.0 280.2L480.0 281.2L484.0 281.5L490.0 283.3L492.0 282.9L493.2 282.0L493.7 280.0L492.9 274.0L494.0 273.1L496.0 273.3L514.0 283.0L515.5 284.0L516.6 286.0L518.9 288.0L524.0 290.4L528.0 293.8L532.0 293.1L534.3 294.0L537.3 298.0L538.0 300.0L537.6 306.0L540.0 310.0L542.0 311.2L544.0 310.6L548.0 307.9L549.5 308.0L552.0 309.7L553.7 312.0L553.5 320.0L554.0 322.4L556.0 323.5L564.0 322.9L568.0 321.1L572.0 320.2L574.0 320.7L581.0 326.0L584.2 330.0L584.7 332.0L584.6 338.0L585.3 342.0L586.0 343.1L588.0 344.5L596.0 345.4L598.6 346.0L600.0 346.9L602.0 349.9L602.8 356.0L603.6 358.0L610.0 364.4L614.0 365.7L620.8 366.0L626.0 368.7L634.0 374.3L640.0 380.2L644.8 386.0L645.9 392.0L647.0 394.0L652.0 398.3L654.0 398.9L655.6 398.0L658.9 392.0L662.0 388.2L668.7 378.0L671.4 376.0L674.0 375.1L676.0 375.0L680.0 376.3L682.0 376.2L686.9 370.0L691.0 362.0L692.8 360.0L696.0 358.1L701.9 356.0L705.7 354.0L708.0 352.1L711.9 344.0L713.0 340.0L717.4 336.0L720.0 334.9L722.0 334.9L732.0 336.1L738.0 334.6L742.4 330.0L748.0 327.4L756.0 325.5L760.0 326.4L762.1 328.0L764.0 331.2L766.7 344.0L768.0 345.3L769.8 346.0L772.0 346.0L776.0 345.0L776.0 552.0L66.0 552.0L66.0 185.9ZM124.0 186.6L126.0 186.5L130.4 188.0L131.6 190.0L131.4 192.0L132.0 194.6L133.0 196.0L136.0 197.5L138.0 199.2L139.2 202.0L139.3 204.0L138.0 208.7L136.0 211.2L134.0 212.5L130.0 210.0L120.0 209.0L118.2 210.0L119.5 216.0L122.0 219.9L122.0 222.1L120.0 220.6L118.7 218.0L116.0 217.0L112.0 216.5L110.0 215.1L107.3 212.0L106.6 210.0L108.0 208.4L109.7 208.0L118.0 208.8L118.2 208.0L117.3 206.0L114.5 202.0L115.1 200.0L118.0 197.2L119.2 194.0L122.7 188.0ZM98.0 212.1L100.3 214.0L100.0 216.5L98.0 216.7L96.8 216.0L96.4 214.0ZM136.0 231.6L138.1 234.0L136.9 236.0L136.0 236.5L134.2 236.0L134.3 234.0L135.7 232.0ZM126.0 251.9L128.0 250.7L136.0 250.1L138.0 251.0L138.2 252.0L132.4 258.0L130.0 259.3L128.0 259.1L126.0 256.7L125.1 254.0L125.8 252.0Z" fill="#f0ff1e" fill-rule="evenodd"/>
<path d="M67.1 200.0L73.5 208.0L77.2 216.0L84.0 221.2L88.3 226.0L89.1 228.0L90.4 236.0L98.0 244.6L102.8 256.0L106.0 259.0L108.2 264.0L115.2 270.0L115.7 272.0L115.2 274.0L115.9 276.0L132.0 275.6L142.0 273.8L160.0 272.8L164.0 272.9L174.0 274.4L176.7 276.0L180.0 279.2L185.3 288.0L192.0 296.8L196.0 299.7L202.0 301.6L204.0 301.3L205.9 300.0L206.2 298.0L204.0 289.4L204.2 284.0L206.0 281.1L208.0 279.4L212.0 278.3L228.0 277.3L234.0 278.6L246.0 277.2L250.0 279.0L258.0 285.0L264.0 286.0L268.0 285.4L272.0 283.1L274.0 282.7L284.0 283.4L287.0 282.0L288.2 280.0L290.0 278.4L294.0 277.8L302.0 274.8L306.0 274.6L308.0 275.2L316.0 279.2L320.0 278.9L330.0 272.5L332.0 272.2L338.0 274.3L348.0 275.6L354.0 275.8L360.0 273.8L362.0 273.7L364.0 274.0L374.3 278.0L378.0 278.5L382.0 277.7L386.0 275.2L390.0 274.8L400.0 276.1L406.0 278.3L412.0 279.0L418.0 276.9L424.0 276.5L428.0 277.7L432.0 280.6L434.0 280.5L438.0 278.4L440.0 278.7L444.0 281.6L448.0 282.3L454.0 285.8L458.0 286.6L461.2 288.0L468.0 298.0L469.9 300.0L479.6 306.0L480.8 308.0L481.8 312.0L483.7 314.0L486.0 315.1L492.0 317.2L498.0 317.7L502.0 314.8L504.0 314.3L506.0 315.6L506.3 318.0L509.5 320.0L511.2 320.0L512.0 319.8L513.6 318.0L513.6 314.0L514.4 312.0L516.0 310.6L518.0 312.0L520.0 316.0L520.3 318.0L519.4 320.0L520.0 322.4L522.0 324.0L522.5 322.0L524.0 320.2L528.0 321.3L534.0 324.0L536.0 326.0L538.7 334.0L542.0 339.5L548.0 340.2L556.0 344.0L558.0 343.5L562.0 340.5L564.0 340.5L570.0 344.0L571.6 346.0L574.3 352.0L575.4 356.0L575.4 360.0L576.0 362.1L578.0 364.4L582.0 366.1L584.0 366.2L590.0 364.4L598.2 366.0L604.0 370.5L612.3 374.0L624.0 386.9L626.0 388.3L632.0 387.4L636.0 389.2L638.0 391.1L641.4 396.0L647.9 400.0L658.0 408.1L660.0 408.8L662.0 408.2L663.3 406.0L663.9 398.0L665.1 394.0L668.0 389.1L670.0 387.0L672.0 385.8L676.0 385.3L684.0 387.7L686.0 387.8L690.0 386.3L696.0 385.4L698.9 382.0L700.8 376.0L702.0 374.5L708.0 370.6L719.0 360.0L719.6 358.0L719.6 354.0L720.4 352.0L722.0 349.9L724.0 348.6L726.0 349.5L732.0 354.3L736.0 354.9L740.0 354.6L741.2 354.0L742.9 352.0L743.9 348.0L747.7 340.0L752.0 338.7L758.0 338.9L760.0 340.3L764.0 346.3L766.0 347.5L776.0 345.7L776.0 552.0L66.0 552.0L66.0 233.2L72.0 231.1L73.8 228.0L74.2 226.0L73.9 222.0L73.0 220.0L66.0 215.4L66.0 198.7ZM80.1 234.0L80.1 236.0L82.0 237.4L84.0 237.5L85.4 236.0L84.3 234.0L82.0 233.5ZM85.6 248.0L82.0 250.7L80.0 251.2L76.0 250.5L74.0 252.1L73.4 254.0L85.9 268.0L88.0 268.4L89.5 268.0L94.0 264.9L96.0 264.1L98.0 264.2L100.0 262.8L100.6 260.0L100.0 258.0L96.0 252.4L94.0 250.9L91.6 250.0L89.9 248.0L88.0 246.8L86.0 247.7ZM526.1 332.0L526.0 334.0L527.6 336.0L530.0 336.0L530.2 334.0L528.0 331.9Z" fill="#f8ff1e" fill-rule="evenodd"/>
<path d="M154.0 277.8L160.0 276.9L170.0 279.1L171.9 280.0L178.0 286.1L189.4 300.0L194.0 303.0L200.0 305.1L206.0 304.2L209.5 302.0L211.4 298.0L212.0 289.7L212.3 292.0L216.0 293.4L234.0 289.7L240.0 289.0L244.0 287.4L246.0 287.8L258.0 294.8L268.0 297.9L272.0 296.8L276.0 294.0L284.0 293.9L288.0 293.1L292.1 290.0L296.0 288.1L300.0 284.7L302.0 284.0L304.0 284.1L315.0 290.0L320.0 294.8L324.0 295.7L328.0 293.9L334.6 292.0L338.0 290.2L339.2 288.0L339.3 286.0L337.3 284.0L337.2 282.0L340.0 279.9L342.4 280.0L344.0 281.6L346.0 281.7L354.0 281.6L360.0 280.3L362.0 280.7L370.0 285.5L380.0 290.2L382.0 290.5L390.0 289.5L392.0 289.9L393.6 292.0L393.0 298.0L394.0 300.0L400.0 302.1L404.0 301.7L406.0 299.7L410.0 292.2L418.0 288.1L422.0 287.8L426.0 289.8L428.0 290.1L432.0 289.6L434.0 289.9L437.0 292.0L440.0 295.4L444.0 295.6L446.0 296.4L447.5 298.0L448.2 300.0L446.0 301.4L438.0 301.5L436.0 302.1L434.4 304.0L433.8 306.0L433.7 308.0L434.5 310.0L436.0 311.3L438.0 311.8L442.0 310.5L444.0 310.4L462.0 319.9L469.4 322.0L472.4 324.0L476.6 328.0L477.9 330.0L480.0 340.9L486.0 342.7L487.0 344.0L487.8 348.0L490.8 352.0L494.0 353.2L496.0 353.3L502.0 352.1L503.8 354.0L504.0 356.0L506.3 360.0L511.8 366.0L513.0 368.0L514.0 372.1L516.0 372.3L516.6 370.0L518.0 369.4L524.0 372.7L532.0 374.3L536.0 368.9L538.0 367.8L546.8 368.0L548.0 368.9L548.4 370.0L548.1 372.0L545.2 378.0L544.9 380.0L546.0 380.6L552.0 379.3L555.9 380.0L558.0 379.8L562.9 376.0L564.9 374.0L566.0 371.9L568.0 371.8L572.1 374.0L572.9 376.0L572.4 380.0L573.4 384.0L574.5 386.0L578.0 388.0L586.0 385.0L586.9 384.0L588.0 379.6L590.0 378.6L594.0 379.7L598.0 381.9L602.0 381.9L604.1 384.0L603.9 386.0L602.4 388.0L596.0 388.8L594.8 390.0L594.3 392.0L595.0 394.0L596.7 396.0L598.8 398.0L602.0 399.9L610.0 400.5L612.0 400.1L614.0 398.6L616.0 399.1L620.0 401.4L622.0 401.8L626.0 401.6L630.0 402.3L638.0 401.0L644.0 401.8L648.6 404.0L657.4 412.0L660.0 413.4L662.0 413.8L664.0 413.5L666.0 412.1L672.0 405.5L677.4 402.0L681.4 398.0L684.0 396.7L688.0 397.0L692.0 398.8L700.0 398.4L702.0 397.7L703.7 396.0L706.0 390.1L707.8 388.0L712.0 385.1L718.0 382.7L720.0 381.1L726.0 371.5L728.0 369.2L736.0 367.8L744.0 369.4L748.0 369.1L753.1 366.0L756.0 360.2L758.0 359.2L760.0 360.3L762.1 366.0L763.2 372.0L764.0 373.9L766.0 375.1L768.0 370.9L768.9 362.0L768.7 358.0L766.8 352.0L767.2 350.0L769.2 348.0L776.0 346.3L776.0 552.0L66.0 552.0L66.0 324.5L66.6 324.0L66.0 322.3L66.0 306.4L72.0 304.7L82.0 307.7L84.0 307.4L86.0 304.0L88.0 302.1L93.2 300.0L102.5 292.0L108.3 288.0L112.0 283.9L114.0 282.8L118.0 281.9L144.0 280.6L153.2 278.0ZM478.8 352.0L478.5 354.0L480.0 356.1L482.0 355.5L483.5 354.0L483.6 352.0L482.0 350.4L480.0 350.6ZM204.9 468.0L204.9 470.0L206.0 471.7L208.0 470.1L207.2 468.0L206.0 467.5ZM193.5 474.0L191.8 478.0L191.6 482.0L194.0 487.6L196.0 490.0L200.0 492.3L202.0 496.0L201.8 504.0L202.7 510.0L202.6 514.0L203.2 516.0L207.6 526.0L214.0 533.4L215.5 530.0L215.5 526.0L213.5 520.0L212.9 516.0L210.6 488.0L208.0 478.2L206.0 474.3L202.0 474.6L200.0 474.1L198.0 472.7L196.0 472.4L194.0 473.4ZM212.3 538.0L212.0 540.2L215.6 544.0L216.0 549.9L216.0 536.8L214.0 536.0ZM68.0 279.8L74.0 280.0L78.0 283.0L82.9 290.0L83.7 292.0L83.8 294.0L82.0 297.5L80.0 298.3L76.0 297.0L72.0 300.0L66.0 299.6L66.0 279.7Z" fill="#ffff19" fill-rule="evenodd"/>
<path d="M158.0 283.9L168.0 283.8L170.0 284.8L178.6 294.0L181.3 300.0L187.5 308.0L192.0 310.7L194.0 311.3L208.0 311.1L218.0 309.4L222.0 306.4L224.0 306.2L234.0 311.6L236.0 311.1L242.0 304.0L244.0 303.5L251.6 308.0L252.9 310.0L253.7 316.0L256.0 318.9L258.0 319.7L264.0 318.8L270.0 319.2L272.0 318.6L278.0 316.0L286.0 310.8L290.9 306.0L294.0 304.2L298.0 303.1L300.0 303.3L304.0 305.2L312.0 303.5L318.0 303.6L320.0 304.2L324.0 307.2L326.0 307.8L332.0 307.5L336.0 306.4L342.0 306.5L348.0 305.1L354.0 306.3L365.1 312.0L366.0 314.0L366.0 318.3L366.6 320.0L368.0 321.3L374.0 321.0L375.9 320.0L378.0 317.9L380.0 317.6L382.0 318.1L384.8 320.0L386.0 322.4L388.0 322.8L390.0 324.9L396.0 334.2L397.3 338.0L398.0 342.4L400.0 346.8L406.0 353.3L408.0 354.0L412.0 351.5L418.0 351.6L420.0 351.2L424.0 348.8L426.0 348.7L432.0 349.6L438.0 351.9L439.3 354.0L438.8 360.0L437.0 364.0L437.6 366.0L440.0 367.2L442.0 367.1L443.0 366.0L444.0 363.4L446.0 363.5L447.8 368.0L450.0 370.1L452.0 369.8L456.0 368.0L458.0 367.8L464.0 369.8L465.6 372.0L466.4 380.0L468.0 382.3L470.0 383.2L474.0 382.8L478.0 383.9L480.0 383.8L484.0 380.2L486.0 380.8L490.0 385.7L492.0 386.2L498.0 385.2L502.0 385.5L506.0 387.2L512.0 391.7L518.0 392.6L523.2 396.0L526.0 397.1L536.0 398.5L540.0 400.9L544.0 404.4L548.0 406.2L550.0 406.4L554.0 405.7L562.0 402.5L564.4 400.0L566.0 399.1L580.1 400.0L590.0 403.3L598.0 404.9L602.7 408.0L608.0 414.4L616.0 419.5L618.0 419.9L634.0 418.9L636.0 417.4L640.0 410.0L642.0 408.2L644.0 407.5L646.0 407.6L648.0 408.5L656.0 415.3L662.0 418.8L666.0 420.3L670.1 420.0L682.0 414.1L686.7 416.0L693.7 416.0L698.0 413.9L702.0 409.7L704.0 408.6L706.0 407.9L710.0 407.9L712.0 407.1L715.3 402.0L718.0 395.8L720.0 394.0L726.0 392.8L734.0 385.3L736.0 385.1L738.0 385.8L741.5 390.0L744.0 390.3L745.9 388.0L747.4 384.0L750.0 382.0L756.0 382.1L760.0 381.5L762.0 382.5L766.0 386.6L768.0 384.7L770.0 369.4L770.4 360.0L768.8 354.0L768.8 350.0L771.8 348.0L776.0 347.0L776.0 552.0L216.4 552.0L216.0 489.3L212.4 476.0L212.9 468.0L212.0 461.2L210.6 458.0L208.0 457.3L204.0 457.7L200.0 459.1L196.2 462.0L192.0 464.2L188.0 467.5L186.6 470.0L185.7 480.0L186.6 484.0L188.5 488.0L190.2 494.0L194.5 502.0L196.0 512.0L200.8 524.0L206.6 534.0L206.8 540.0L212.0 548.0L213.5 552.0L66.0 552.0L66.0 330.6L70.0 329.3L76.0 322.4L88.0 315.6L92.0 315.7L96.0 317.7L98.0 317.4L100.0 315.9L102.0 315.7L106.0 317.1L108.0 316.9L112.0 315.2L118.0 317.5L120.0 317.9L122.0 317.3L128.0 310.7L129.6 308.0L132.0 300.2L133.9 298.0L132.9 292.0L134.0 290.0L136.0 288.8L142.0 288.1L146.6 286.0L157.6 284.0ZM214.1 414.0L215.7 416.0L214.0 418.7L210.9 422.0L210.6 424.0L212.0 426.6L214.0 427.4L216.0 427.1L217.9 426.0L219.7 424.0L221.8 418.0L220.0 415.7L218.0 415.7L216.0 413.7ZM108.0 299.1L109.0 300.0L109.6 302.0L109.4 304.0L108.0 305.0L106.0 303.2L106.0 301.4L106.7 300.0ZM410.0 311.7L414.0 311.5L415.7 312.0L416.0 320.1L414.0 321.6L409.4 320.0L407.5 318.0L407.8 314.0L409.3 312.0Z" fill="#ffeb14" fill-rule="evenodd"/>
<path d="M158.0 289.7L166.0 289.5L168.1 290.0L171.0 292.0L174.6 298.0L175.5 304.0L178.0 307.2L182.0 314.6L184.0 316.8L186.0 318.0L194.0 320.3L208.0 319.2L214.0 319.8L220.0 321.3L222.0 322.3L228.0 328.4L232.0 330.3L234.0 330.4L236.0 329.7L238.0 326.4L240.0 327.2L242.0 329.9L244.0 329.3L246.0 327.9L250.0 327.1L258.0 329.3L262.0 331.9L264.0 332.2L274.0 330.3L278.0 328.0L282.0 328.2L284.0 327.5L286.5 324.0L292.0 320.0L302.0 318.8L304.0 318.2L308.0 315.7L316.0 313.5L320.0 314.3L323.2 316.0L330.3 322.0L330.9 324.0L330.7 328.0L332.3 330.0L340.0 332.6L346.0 336.4L348.0 337.0L358.0 337.4L362.3 334.0L364.0 333.2L366.0 333.2L374.0 336.2L380.0 335.8L386.0 336.1L388.0 336.7L390.0 338.3L391.4 342.0L390.9 348.0L390.0 350.4L388.4 352.0L388.2 354.0L390.0 355.0L393.9 360.0L396.7 362.0L397.0 364.0L394.6 368.0L395.3 370.0L396.9 372.0L398.2 378.0L400.0 379.1L404.0 379.6L410.0 382.5L416.7 384.0L420.0 386.6L426.0 393.2L430.0 395.6L434.0 401.0L436.0 401.2L437.5 400.0L438.6 398.0L439.2 394.0L440.0 393.6L446.0 395.5L450.2 398.0L454.6 402.0L456.0 404.4L458.0 406.4L461.0 406.0L470.0 398.8L472.0 398.5L476.6 402.0L480.0 403.8L486.0 404.9L492.5 404.0L494.0 403.1L498.0 398.3L500.0 397.4L502.0 397.5L511.7 400.0L516.0 403.4L522.0 404.4L542.0 412.3L549.3 414.0L554.0 417.5L560.0 418.2L570.0 417.6L572.0 416.7L578.1 410.0L580.0 409.2L588.0 409.9L596.0 413.6L609.3 424.0L612.8 426.0L618.0 427.7L622.0 427.3L628.0 425.6L638.0 424.8L640.0 424.2L642.3 422.0L645.6 416.0L648.0 415.2L650.0 415.9L658.0 421.3L670.0 427.3L674.0 427.6L678.8 426.0L680.0 424.9L682.0 424.6L689.3 430.0L694.0 430.8L700.0 424.7L704.0 421.9L708.0 419.9L712.0 418.7L716.0 416.5L734.0 414.1L740.0 411.6L744.0 411.7L748.0 410.5L750.0 408.5L751.3 406.0L752.7 400.0L756.0 395.7L758.0 396.0L758.9 400.0L762.7 408.0L763.2 414.0L764.2 418.0L766.0 422.5L768.0 424.9L770.0 422.8L771.5 416.0L771.4 414.0L769.2 408.0L768.7 400.0L771.6 362.0L771.4 358.0L769.6 352.0L770.1 350.0L776.0 347.7L776.0 552.0L300.2 552.0L302.4 548.0L304.5 540.0L306.2 536.0L307.4 530.0L308.7 526.0L312.0 520.1L312.1 518.0L312.0 517.1L310.0 517.4L309.0 520.0L308.0 521.0L305.7 520.0L306.3 518.0L309.4 516.0L308.8 512.0L307.3 510.0L302.0 507.6L300.0 507.8L298.0 508.9L294.3 512.0L293.9 514.0L294.0 518.4L296.0 521.3L298.0 522.9L300.9 528.0L301.0 530.0L299.7 534.0L299.9 538.0L297.6 546.0L298.0 550.7L299.5 552.0L216.8 552.0L216.1 468.0L216.9 466.0L216.4 460.0L217.3 450.0L217.1 448.0L216.0 446.7L208.0 449.7L198.0 449.1L196.0 450.0L192.0 454.1L189.7 458.0L181.7 466.0L180.2 468.0L178.9 472.0L178.9 474.0L182.0 486.1L183.5 490.0L184.7 496.0L188.0 507.1L197.6 526.0L202.4 534.0L204.0 540.4L206.5 546.0L208.3 552.0L66.0 552.0L66.0 352.2L102.0 352.4L104.0 355.0L106.0 354.5L108.0 356.3L110.0 356.2L112.0 358.2L114.0 358.2L116.0 360.1L118.0 360.2L118.9 358.0L118.2 356.0L108.0 349.4L105.7 346.0L105.2 344.0L105.5 342.0L108.0 339.3L124.0 338.1L128.0 335.6L130.0 335.5L130.8 336.0L131.8 340.0L134.0 343.5L136.0 345.5L138.0 345.1L138.6 344.0L139.0 338.0L140.3 334.0L142.0 330.4L144.0 328.0L146.6 322.0L146.9 320.0L143.3 314.0L142.4 310.0L146.6 306.0L147.9 304.0L148.5 296.0L150.0 292.5L152.0 291.1L156.1 290.0ZM156.9 326.0L157.1 328.0L158.0 329.7L160.0 331.1L162.0 331.1L164.6 330.0L164.0 327.9L160.3 326.0L158.0 325.6ZM387.7 364.0L386.9 366.0L386.4 370.0L386.7 372.0L388.0 372.8L390.0 372.0L391.7 368.0L391.4 364.0L390.0 362.8L388.0 363.6ZM103.1 372.0L102.4 376.0L104.0 382.3L106.0 384.8L108.0 385.5L110.0 383.8L110.8 380.0L110.5 378.0L106.0 370.7L104.0 370.2ZM152.8 400.0L149.2 404.0L147.6 408.0L148.6 410.0L152.0 411.3L156.0 410.3L158.0 408.3L159.7 404.0L159.2 402.0L158.0 400.5L156.0 399.3L154.0 399.3ZM209.8 414.0L207.3 416.0L206.7 418.0L208.2 422.0L208.7 426.0L209.7 428.0L212.0 429.7L216.0 429.9L218.0 428.9L221.0 426.0L224.5 420.0L224.4 418.0L222.0 417.2L220.0 415.0L218.0 415.0L216.0 413.0L210.0 413.9ZM312.5 468.0L310.0 468.9L304.0 469.3L302.0 470.4L300.7 472.0L300.5 474.0L302.0 479.0L306.0 484.0L308.0 484.5L314.0 483.2L315.5 482.0L315.3 480.0L317.7 478.0L324.0 477.1L325.2 476.0L326.0 474.0L325.6 472.0L323.2 470.0L318.0 466.6L316.0 466.2L314.0 467.0ZM121.0 476.0L120.0 476.2L118.2 478.0L117.1 480.0L116.7 482.0L117.1 484.0L120.0 487.2L124.0 487.7L126.0 486.8L128.0 484.9L129.4 482.0L128.0 479.2L122.0 475.7ZM283.2 480.0L283.1 482.0L284.0 485.3L286.0 487.4L287.3 486.0L287.3 482.0L286.0 479.8L284.0 478.8ZM325.4 480.0L326.0 481.2L328.0 480.7L328.0 479.6L326.0 478.2ZM346.0 316.9L348.0 317.2L349.5 320.0L348.0 321.0L346.0 321.0L344.2 320.0L344.2 318.0ZM80.0 329.2L82.0 328.9L90.0 331.3L91.2 332.0L92.3 334.0L88.0 337.1L86.0 337.6L82.0 337.2L78.0 339.4L76.0 339.7L74.4 338.0L74.4 336.0L76.0 332.8L78.8 330.0Z" fill="#ffd70a" fill-rule="evenodd"/>
<path d="M158.0 305.4L160.0 304.8L164.0 304.9L166.0 305.9L172.6 312.0L174.2 314.0L174.4 316.0L172.0 316.8L168.0 316.7L162.0 318.7L160.0 317.8L158.0 315.4L157.0 312.0L157.7 306.0ZM212.0 333.9L214.0 334.2L215.5 336.0L218.3 342.0L217.1 344.0L214.0 345.5L210.0 344.8L208.0 345.0L206.4 346.0L206.1 348.0L208.1 352.0L210.1 354.0L214.0 355.1L220.0 359.1L222.0 359.4L223.7 358.0L224.6 356.0L224.7 352.0L225.5 350.0L227.5 346.0L230.0 343.2L232.0 342.8L238.0 347.2L240.0 347.4L246.0 346.4L250.0 346.9L252.0 346.6L256.0 341.9L258.0 341.7L262.0 343.6L266.0 344.0L270.0 345.7L274.0 345.3L276.0 346.7L278.0 349.1L280.0 349.9L282.0 348.7L284.3 346.0L288.0 344.3L295.7 346.0L297.3 348.0L296.3 352.0L296.6 354.0L298.0 355.2L308.0 356.9L313.0 362.0L316.0 366.6L318.0 365.0L320.0 364.4L324.0 365.0L328.0 362.2L332.0 357.5L334.0 356.0L336.0 355.7L338.0 356.6L342.3 360.0L343.4 362.0L344.2 368.0L343.0 374.0L343.3 376.0L344.0 376.9L346.0 377.7L350.0 378.4L351.3 380.0L356.0 392.0L356.5 394.0L355.4 396.0L354.0 397.0L350.0 398.3L348.0 399.7L347.6 402.0L348.0 402.5L352.0 403.4L360.0 406.5L366.0 405.5L368.4 404.0L370.0 397.0L372.0 395.4L374.0 395.8L382.0 402.3L388.5 406.0L392.0 409.4L396.0 411.0L400.0 415.7L402.0 416.5L404.0 416.0L406.3 414.0L407.0 412.0L406.6 408.0L408.4 402.0L410.0 399.5L412.0 399.0L414.0 401.0L420.0 411.7L424.0 413.9L428.0 418.0L436.0 419.0L440.0 423.7L442.0 424.1L446.0 422.6L448.0 420.6L450.0 420.8L450.4 422.0L452.0 423.5L454.0 423.7L457.4 422.0L459.4 420.0L460.7 418.0L462.0 414.0L464.7 412.0L470.0 410.1L474.0 409.4L480.0 409.8L485.1 412.0L492.0 419.3L496.0 421.3L500.0 426.7L502.0 427.9L506.0 427.6L510.0 423.2L512.0 421.9L516.0 423.6L518.8 426.0L519.6 428.0L519.4 430.0L518.0 431.8L514.0 431.5L513.3 432.0L513.8 436.0L516.0 438.2L518.0 438.9L524.0 442.8L526.0 442.8L530.0 441.3L536.1 440.0L550.0 434.3L562.0 433.2L572.0 428.7L582.0 426.7L588.0 428.1L594.0 428.5L606.0 431.1L618.0 431.8L622.0 431.6L638.0 429.0L648.0 428.5L662.0 429.0L670.0 431.5L680.4 432.0L692.0 437.1L702.0 439.4L710.8 436.0L713.1 434.0L714.0 431.8L715.9 430.0L720.0 429.2L726.0 430.0L728.0 429.5L731.5 428.0L736.0 425.0L740.0 423.7L744.0 421.5L746.0 421.2L758.0 424.6L760.0 425.8L766.3 434.0L768.0 435.6L770.0 435.6L771.7 430.0L773.5 416.0L773.1 412.0L771.5 408.0L770.8 398.0L773.0 364.0L772.7 358.0L770.9 352.0L771.8 350.0L776.0 348.7L776.0 552.0L304.0 552.0L309.7 536.0L318.2 516.0L319.2 512.0L322.0 506.0L328.7 488.0L332.2 482.0L333.6 474.0L336.3 468.0L336.6 466.0L334.6 464.0L324.0 460.5L315.5 456.0L310.0 454.5L302.0 450.0L298.0 448.7L292.0 445.7L282.0 442.0L274.0 440.2L272.3 442.0L272.7 446.0L278.6 470.0L280.1 482.0L281.9 488.0L284.7 494.0L288.6 512.0L292.5 526.0L292.9 532.0L294.8 540.0L294.6 548.0L295.4 552.0L217.2 552.0L216.7 468.0L220.3 464.0L220.3 462.0L224.6 458.0L224.5 456.0L228.0 452.0L222.8 452.0L222.0 451.1L222.5 446.0L221.4 442.0L220.0 440.2L218.0 440.1L212.0 441.9L200.0 443.2L198.0 444.1L191.6 450.0L186.0 456.4L181.5 460.0L178.0 464.3L174.0 466.8L168.0 468.7L164.3 472.0L163.6 474.0L164.2 476.0L166.0 477.9L174.0 479.1L176.7 482.0L177.7 486.0L180.0 491.0L181.5 498.0L184.8 508.0L189.5 518.0L200.0 536.3L205.4 552.0L66.0 552.0L66.0 483.5L74.0 481.0L78.0 481.4L82.0 480.8L88.0 483.7L94.0 482.6L100.0 480.8L101.0 480.0L101.7 474.0L101.5 472.0L100.0 470.8L96.0 469.7L92.0 469.5L82.0 472.3L80.0 472.3L66.0 469.4L66.0 352.9L96.0 352.9L100.0 353.4L101.1 354.0L98.9 358.0L98.8 360.0L96.9 364.0L96.9 366.0L98.7 372.0L99.5 378.0L101.3 384.0L103.7 388.0L106.0 389.8L108.0 390.6L110.0 390.5L112.0 389.4L114.3 386.0L114.7 380.0L113.4 376.0L106.6 364.0L106.3 362.0L106.9 358.0L110.0 357.2L112.0 359.1L114.0 359.1L118.0 362.9L120.0 362.8L122.0 364.4L124.0 364.2L126.0 366.3L128.0 366.3L130.0 368.3L132.0 368.2L134.0 370.2L136.0 370.1L138.0 372.1L142.0 372.1L144.0 374.1L146.0 374.1L148.0 376.1L148.8 376.0L147.7 372.0L143.5 364.0L144.0 361.5L152.0 357.6L156.1 354.0L158.0 353.1L164.0 352.9L166.0 352.3L171.0 350.0L176.0 346.6L178.0 346.7L182.0 349.8L183.3 352.0L182.1 354.0L178.2 358.0L176.5 368.0L177.5 370.0L178.0 370.5L180.0 370.1L182.7 368.0L186.0 366.9L192.0 369.1L194.5 368.0L200.5 358.0L200.4 356.0L197.7 352.0L197.6 350.0L203.3 346.0L203.9 344.0L206.1 342.0L208.7 336.0L211.6 334.0ZM294.6 366.0L293.6 368.0L296.5 368.0L297.7 366.0L296.0 364.5ZM305.6 370.0L308.0 370.7L309.7 370.0L308.0 369.1L306.0 369.6ZM257.6 380.0L250.0 382.6L242.0 389.2L234.0 392.6L232.0 394.6L231.5 396.0L231.7 398.0L237.0 400.0L240.0 400.4L248.0 399.6L254.0 399.7L265.7 398.0L270.0 398.2L280.0 401.8L286.0 406.0L288.0 406.6L296.0 406.8L302.0 409.1L310.0 411.0L316.0 410.8L322.0 412.3L350.0 420.8L356.0 423.5L360.0 426.3L370.0 429.2L372.0 428.7L374.0 426.0L374.7 424.0L372.4 422.0L364.0 421.1L358.0 421.8L356.2 420.0L355.5 416.0L353.8 414.0L348.0 410.9L345.2 410.0L342.9 408.0L340.0 404.2L335.6 402.0L334.7 396.0L328.0 388.4L326.0 387.4L320.0 385.5L316.0 385.8L306.0 384.3L296.0 386.1L290.0 384.4L282.0 383.7L276.0 385.6L267.8 382.0L264.0 379.2L260.0 379.0L258.0 379.8ZM152.7 394.0L150.0 396.0L146.0 400.8L142.9 406.0L142.6 408.0L144.0 412.0L145.8 414.0L148.0 415.4L150.0 415.9L156.0 415.1L158.0 413.5L165.0 400.0L164.7 398.0L164.0 397.5L158.0 394.5L154.0 393.6ZM205.2 414.0L204.5 418.0L206.9 428.0L208.1 430.0L210.0 431.7L212.0 432.6L216.0 432.8L220.0 430.3L222.4 428.0L226.4 422.0L226.8 420.0L224.0 416.5L222.0 416.3L220.0 414.3L218.0 414.3L216.0 412.3L210.0 412.5L206.0 413.4ZM131.7 468.0L128.0 469.6L122.0 468.9L116.9 470.0L115.3 472.0L113.9 476.0L108.2 482.0L108.1 484.0L114.0 497.2L122.0 501.5L126.0 501.0L129.8 498.0L130.7 494.0L133.6 488.0L136.0 484.2L138.0 482.6L146.0 483.5L150.5 482.0L153.7 480.0L152.2 472.0L150.0 470.5L144.0 467.6L140.0 466.4L136.0 466.5L132.0 467.9ZM364.0 379.7L370.0 378.5L372.6 380.0L374.2 382.0L374.8 384.0L374.0 384.9L372.0 385.6L367.7 386.0L366.0 384.9L363.7 382.0L363.4 380.0Z" fill="#ffc305" fill-rule="evenodd"/>
<path d="M776.0 349.9L776.0 360.1L774.0 356.1L772.9 352.0L775.6 350.0ZM68.0 353.7L98.3 354.0L92.0 360.0L90.0 363.9L88.0 364.9L84.0 365.2L82.3 366.0L82.1 368.0L84.8 372.0L86.0 374.8L90.0 374.7L94.0 377.5L97.5 386.0L98.9 392.0L104.0 396.9L106.0 397.9L108.0 398.1L112.0 397.1L120.0 392.3L124.0 389.1L128.0 382.2L130.0 381.3L136.3 380.0L135.0 378.0L129.6 374.0L129.3 370.0L132.0 369.6L134.0 371.5L136.0 371.5L138.0 373.5L142.0 373.5L144.0 375.7L146.1 376.0L146.0 377.2L142.9 382.0L146.0 383.8L148.1 382.0L148.7 380.0L148.4 378.0L150.0 377.9L152.0 379.8L154.0 379.7L158.0 383.7L160.5 384.0L162.3 386.0L162.0 388.2L166.0 386.7L168.0 388.3L170.0 388.3L171.7 390.0L171.8 392.0L186.0 406.2L188.0 406.2L190.2 408.0L194.4 404.0L195.7 402.0L196.6 402.0L197.9 404.0L196.5 412.0L198.0 414.3L200.0 414.6L201.9 416.0L203.9 428.0L204.5 430.0L206.9 434.0L207.2 436.0L200.0 438.4L184.5 454.0L176.0 460.2L172.0 461.6L166.0 461.8L160.0 463.7L156.0 463.8L152.0 463.2L140.0 459.3L138.0 459.0L130.0 459.6L124.0 458.9L106.0 462.2L104.0 462.0L100.0 459.5L98.0 459.3L94.0 460.6L86.0 461.3L82.0 463.8L80.0 463.8L72.0 461.8L66.0 461.9L66.0 422.3L68.0 423.4L70.0 423.2L73.3 420.0L74.2 418.0L74.3 416.0L73.7 414.0L72.1 412.0L70.0 411.4L66.0 412.7L66.0 353.7ZM149.6 388.0L145.9 394.0L142.0 398.9L140.0 400.8L134.0 403.9L132.1 406.0L131.4 408.0L131.6 410.0L132.7 412.0L136.0 415.1L146.7 420.0L150.0 420.8L156.0 420.0L158.9 418.0L160.3 416.0L160.9 412.0L163.7 406.0L169.1 400.0L169.9 398.0L169.3 396.0L168.0 395.1L159.5 392.0L154.0 388.7L150.0 387.8ZM112.0 360.0L114.0 359.9L118.0 363.9L120.1 364.0L119.3 372.0L118.6 374.0L118.0 374.3L116.0 373.1L111.6 366.0L110.8 364.0L111.7 360.0ZM776.0 363.8L776.0 552.0L772.7 552.0L772.0 550.0L770.0 549.1L760.0 548.5L752.9 550.0L751.0 552.0L734.7 552.0L732.4 550.0L730.0 549.3L728.0 547.7L725.0 544.0L722.1 542.0L718.0 540.7L714.0 537.5L708.0 536.4L706.0 533.4L704.0 531.9L702.0 532.3L698.6 534.0L697.6 536.0L700.0 540.7L708.0 550.0L708.6 552.0L685.7 552.0L686.6 550.0L690.0 546.0L690.0 544.0L686.0 542.0L678.1 540.0L674.0 540.7L660.0 544.7L655.6 552.0L643.3 552.0L644.2 550.0L648.2 546.0L648.2 544.0L646.3 542.0L644.0 540.6L640.0 539.6L638.0 535.5L635.2 534.0L634.1 532.0L634.4 528.0L633.9 526.0L632.6 524.0L630.0 522.2L628.0 522.1L625.3 524.0L625.2 526.0L628.5 530.0L629.1 532.0L628.0 533.1L626.0 534.0L624.0 533.5L620.0 530.9L616.0 530.7L614.0 531.0L612.5 532.0L611.6 534.0L611.2 538.0L611.9 546.0L612.8 548.0L614.0 549.7L618.0 550.0L620.6 552.0L567.5 552.0L570.0 544.0L572.0 542.0L576.0 540.0L578.0 541.2L580.0 543.5L582.0 544.1L586.0 543.5L588.4 542.0L589.7 540.0L589.9 536.0L588.0 529.6L586.0 528.6L578.0 537.4L574.6 534.0L572.0 532.4L570.0 531.9L566.0 535.1L563.3 536.0L560.0 536.5L554.0 536.3L550.0 540.7L548.2 538.0L546.0 537.6L540.0 540.8L532.0 536.5L530.0 534.4L524.0 531.0L522.5 534.0L522.4 536.0L523.4 538.0L524.0 538.6L528.0 538.9L530.0 540.7L530.5 546.0L529.9 552.0L484.3 552.0L485.2 548.0L487.8 544.0L487.6 542.0L484.0 540.3L482.0 541.8L481.0 546.0L482.0 550.9L482.7 552.0L421.7 552.0L422.1 550.0L421.7 548.0L416.0 539.0L414.0 538.5L410.0 539.0L408.0 540.2L407.1 542.0L405.9 548.0L407.1 552.0L307.5 552.0L311.8 544.0L313.8 534.0L317.0 528.0L318.2 524.0L320.0 520.5L323.2 516.0L323.2 512.0L324.0 508.7L329.3 496.0L332.0 488.0L335.0 484.0L336.0 476.8L336.9 474.0L337.9 472.0L342.0 468.1L346.8 468.0L344.0 467.5L343.2 466.0L342.0 465.7L340.5 464.0L337.4 462.0L324.0 457.5L316.0 453.0L312.0 451.8L306.0 448.5L298.0 445.4L292.0 442.4L284.0 439.5L272.0 436.1L270.0 437.3L269.7 442.0L274.3 460.0L275.1 466.0L276.4 470.0L278.1 482.0L284.2 500.0L286.5 512.0L290.5 526.0L291.1 534.0L292.9 540.0L292.8 548.0L293.4 552.0L217.6 552.0L217.2 468.0L221.0 464.0L221.0 462.0L225.2 458.0L225.1 456.0L228.8 452.0L228.2 450.0L229.3 448.0L229.6 446.0L229.0 440.0L229.9 438.0L232.2 436.0L232.3 430.0L230.2 428.0L230.3 424.0L229.0 422.0L228.9 420.0L231.0 418.0L228.2 414.0L225.9 406.0L228.0 404.6L230.0 404.0L238.0 403.9L244.0 403.0L248.0 403.3L250.5 404.0L254.0 406.4L256.0 407.1L262.0 407.2L268.0 408.8L274.0 409.3L296.0 415.6L302.0 419.6L310.0 420.6L314.0 422.3L322.0 421.0L328.1 422.0L342.0 428.4L348.0 430.4L366.0 438.0L370.0 438.8L376.0 438.3L382.0 438.9L387.1 442.0L393.0 444.0L396.0 444.0L398.0 442.4L398.4 440.0L397.4 436.0L398.7 434.0L400.0 433.4L402.0 433.6L406.0 436.1L410.0 437.1L414.0 439.8L418.0 441.1L420.5 444.0L422.1 448.0L424.0 449.9L434.0 453.1L441.2 458.0L442.2 460.0L440.0 462.1L439.5 464.0L440.0 465.0L444.0 468.4L448.0 470.3L450.0 469.9L453.9 468.0L460.0 467.3L464.0 467.5L470.0 465.0L474.0 466.8L480.0 471.6L482.0 472.5L486.0 471.5L488.0 471.7L490.0 472.7L492.0 472.3L495.2 470.0L497.0 468.0L498.9 464.0L500.0 463.2L508.0 459.8L508.9 460.0L509.6 462.0L508.3 464.0L510.0 464.8L518.0 466.4L520.6 466.0L521.8 464.0L522.1 462.0L524.0 461.0L526.0 460.8L530.0 463.3L536.4 466.0L537.8 468.0L537.8 470.0L536.9 472.0L533.8 476.0L533.8 478.0L535.1 480.0L536.0 485.4L538.0 487.0L540.0 486.9L542.0 486.0L540.2 478.0L542.0 474.0L542.3 472.0L544.1 470.0L556.0 468.5L559.3 470.0L560.0 471.2L562.0 472.6L572.0 468.9L574.2 462.0L574.0 455.7L576.0 452.5L580.0 449.0L582.0 445.3L584.0 438.0L586.0 436.3L592.0 435.2L598.0 434.9L606.0 435.8L612.0 435.4L618.0 435.9L638.0 433.1L646.0 433.3L658.0 432.6L664.0 433.7L670.0 435.8L680.0 436.5L686.2 440.0L696.0 442.9L708.0 448.0L710.0 448.4L713.2 448.0L718.0 446.1L728.0 447.1L730.0 446.4L735.9 442.0L740.0 441.2L748.0 440.8L753.4 438.0L758.0 436.8L764.0 442.1L764.9 444.0L767.1 456.0L768.0 457.9L770.0 459.6L772.0 457.4L773.1 454.0L773.2 452.0L771.8 444.0L773.4 436.0L775.8 416.0L775.7 412.0L774.0 408.7L773.3 406.0L772.6 392.0L774.0 373.1L776.0 364.0ZM556.8 476.0L555.1 478.0L556.0 481.6L558.0 480.3L559.9 476.0L558.0 475.3ZM511.9 488.0L507.3 492.0L507.5 494.0L509.1 496.0L512.0 497.1L514.2 496.0L515.1 494.0L516.1 488.0L516.0 487.4L514.0 486.3L512.0 487.9ZM553.5 492.0L548.3 496.0L542.0 499.8L542.0 502.5L544.0 504.0L550.0 504.0L554.0 500.3L558.0 498.4L558.7 494.0L558.0 491.8L556.0 490.8L554.0 491.5ZM329.9 514.0L328.0 514.4L326.1 516.0L327.5 518.0L330.0 519.5L332.0 520.2L334.7 520.0L337.1 518.0L336.0 515.5L334.0 514.1L330.0 514.0ZM232.0 377.5L236.3 378.0L236.8 380.0L234.0 382.2L232.0 382.7L230.0 382.2L229.5 380.0L230.8 378.0ZM562.0 443.6L566.0 442.9L568.7 444.0L571.2 446.0L572.0 448.0L570.9 450.0L566.0 453.2L564.0 452.4L561.1 446.0L561.5 444.0ZM516.0 458.3L518.0 458.8L519.2 460.0L518.0 460.5L515.0 460.0ZM156.0 487.8L168.0 486.6L170.0 487.5L172.6 490.0L176.1 492.0L180.8 508.0L184.2 514.0L189.4 526.0L196.1 536.0L197.1 540.0L196.0 542.1L192.0 542.7L186.0 544.6L184.0 545.5L182.0 548.3L180.0 547.5L178.0 539.7L176.0 538.2L174.0 538.4L168.0 540.9L166.0 542.4L165.1 544.0L164.3 552.0L152.5 552.0L152.7 550.0L154.0 548.1L156.7 546.0L157.7 544.0L158.3 542.0L158.0 539.9L156.0 538.3L154.0 538.3L148.0 541.9L144.0 542.4L142.0 540.4L141.2 536.0L140.0 534.6L138.0 533.6L132.0 532.5L126.0 534.3L123.3 536.0L120.0 541.0L118.0 543.3L116.7 544.0L117.1 548.0L116.0 551.2L115.0 552.0L113.5 552.0L112.0 549.9L111.1 546.0L112.2 542.0L110.3 540.0L106.0 539.4L104.0 538.5L96.0 530.8L94.0 530.8L92.0 536.0L88.0 537.3L86.0 536.8L84.0 535.5L83.1 534.0L82.3 530.0L80.0 526.7L78.0 524.7L70.4 520.0L66.0 516.3L66.0 507.9L68.9 506.0L70.1 502.0L72.0 500.3L78.0 502.9L81.9 502.0L86.0 501.8L91.6 498.0L92.7 496.0L92.9 494.0L94.0 493.1L96.0 492.7L98.0 492.8L100.0 493.8L102.0 496.6L104.3 502.0L104.3 508.0L105.6 510.0L108.0 511.5L110.0 512.5L112.0 512.5L114.0 511.4L116.0 511.2L119.5 512.0L122.0 513.6L124.0 516.3L126.0 516.8L132.0 515.0L136.0 516.1L140.0 516.2L142.2 514.0L139.4 508.0L139.1 506.0L139.6 504.0L142.0 500.2L146.3 498.0L152.8 490.0L155.4 488.0ZM80.0 546.0L82.0 546.5L86.0 552.0L76.4 552.0L78.9 548.0Z" fill="#ffab00" fill-rule="evenodd"/>
<path d="M68.0 387.1L70.0 386.8L72.0 387.3L74.0 389.0L78.0 388.8L80.1 390.0L78.7 392.0L72.8 396.0L70.0 397.6L66.0 398.2L66.0 387.4ZM174.0 401.4L176.0 401.2L182.0 404.8L187.8 410.0L194.0 412.5L198.0 419.5L199.6 424.0L199.0 430.0L196.0 436.7L194.0 439.6L188.6 444.0L183.7 450.0L181.2 452.0L172.0 456.2L166.0 455.8L160.0 457.0L152.0 457.5L146.5 456.0L140.0 453.2L132.0 452.7L128.0 450.4L122.0 449.6L116.0 446.0L112.0 442.7L109.2 442.0L107.2 440.0L107.4 438.0L108.0 437.6L110.0 437.6L114.0 439.2L116.0 438.1L122.0 432.6L128.0 429.6L130.0 429.7L134.0 432.5L137.8 434.0L138.9 438.0L140.0 439.9L142.0 440.4L143.0 440.0L144.5 438.0L143.9 434.0L148.7 428.0L152.0 427.0L156.0 427.2L160.0 425.3L162.0 421.9L163.4 418.0L164.3 410.0L167.3 406.0L173.2 402.0ZM238.0 407.9L242.0 407.2L244.0 407.6L246.0 411.2L248.0 412.9L254.0 414.1L258.0 415.9L268.0 417.6L276.0 417.4L286.0 421.2L288.0 423.3L292.0 431.2L294.0 433.7L300.0 438.2L302.0 438.8L302.9 438.0L303.5 436.0L303.6 432.0L306.0 431.1L308.7 432.0L310.0 433.8L314.0 436.6L316.4 440.0L322.0 445.6L330.0 447.2L334.0 444.8L336.0 444.8L342.0 447.6L346.0 447.2L348.3 448.0L349.4 450.0L347.3 454.0L346.5 458.0L346.0 458.7L344.0 459.3L334.0 457.3L330.0 455.0L324.0 452.7L320.0 448.9L315.9 448.0L313.1 446.0L310.0 442.3L302.0 440.7L298.0 440.5L292.0 436.9L286.5 436.0L282.0 434.4L271.9 432.0L266.0 428.5L259.5 426.0L252.0 421.4L238.0 416.5L234.3 414.0L233.5 412.0L234.0 409.6L237.3 408.0ZM232.0 424.0L240.0 426.9L246.0 429.8L252.0 431.6L256.0 433.6L264.0 435.6L266.5 438.0L268.4 450.0L272.0 461.4L272.8 468.0L273.9 472.0L274.0 476.0L273.1 480.0L275.2 486.0L280.0 494.2L282.0 500.6L282.4 506.0L284.3 514.0L286.2 518.0L286.5 522.0L288.0 525.9L288.4 532.0L290.8 540.0L291.0 552.0L218.0 551.8L217.7 468.0L221.7 464.0L221.7 462.0L225.8 458.0L225.7 456.0L229.5 452.0L229.3 450.0L233.1 446.0L233.2 444.0L237.2 440.0L235.2 438.0L235.3 436.0L233.4 434.0L233.6 430.0L231.6 428.0L231.7 426.0ZM247.2 460.0L246.4 462.0L248.0 464.0L250.0 463.1L251.4 460.0L250.0 458.3L248.0 459.0ZM628.0 439.4L634.0 439.1L642.0 441.3L646.7 440.0L660.0 439.5L668.0 441.3L673.1 444.0L674.2 446.0L673.9 448.0L672.8 450.0L672.7 452.0L674.5 456.0L673.7 460.0L676.0 461.2L680.0 461.0L684.0 461.8L685.6 464.0L683.7 468.0L683.8 472.0L681.3 476.0L681.5 480.0L681.0 482.0L676.0 491.1L674.0 491.4L668.0 490.1L664.0 491.3L662.0 490.9L661.3 490.0L661.0 488.0L660.0 487.2L656.4 490.0L650.0 492.2L646.0 492.8L640.0 492.0L637.9 490.0L635.1 484.0L633.4 478.0L634.0 477.1L643.1 472.0L643.8 470.0L643.5 468.0L642.0 465.7L640.0 464.9L634.0 466.5L626.0 467.2L624.0 468.2L617.5 476.0L616.2 478.0L615.4 482.0L614.0 483.3L612.0 483.4L610.7 480.0L610.7 478.0L614.2 474.0L614.2 472.0L613.1 470.0L604.0 465.8L602.0 466.5L597.6 470.0L596.0 470.6L594.0 469.6L593.5 468.0L594.0 466.4L598.5 460.0L610.0 454.6L614.0 450.5L618.0 448.9L626.1 440.0ZM655.3 460.0L655.4 462.0L656.0 462.5L658.2 462.0L658.5 460.0L656.0 459.2ZM694.0 466.0L701.5 470.0L706.0 475.5L710.0 477.4L710.5 480.0L709.8 482.0L708.0 483.6L702.0 482.7L698.0 480.3L692.0 479.2L690.0 478.1L688.0 473.0L687.1 472.0L687.2 470.0L688.5 468.0L690.0 467.0L693.9 466.0ZM744.0 465.9L746.0 465.2L747.4 466.0L749.4 470.0L750.0 470.3L754.0 469.1L756.8 476.0L762.0 486.0L763.4 490.0L764.0 494.3L766.0 497.3L768.0 497.4L769.9 496.0L772.0 491.2L773.5 490.0L776.0 489.3L776.0 525.4L774.0 526.2L769.6 530.0L772.1 534.0L771.4 536.0L768.1 538.0L764.0 537.6L760.0 540.4L758.0 540.8L754.0 540.0L752.5 542.0L748.6 544.0L744.0 544.7L740.0 544.2L734.0 541.6L726.0 533.8L719.7 530.0L716.0 526.6L712.0 526.1L710.0 525.2L707.3 522.0L706.0 516.7L704.0 512.1L703.2 508.0L703.4 506.0L704.5 504.0L706.0 503.1L712.2 502.0L715.2 498.0L716.0 496.0L711.8 492.0L712.3 490.0L713.6 488.0L717.1 484.0L720.0 482.1L724.0 481.3L726.3 480.0L732.0 475.9L734.0 471.8L735.6 470.0L738.0 468.8L741.6 468.0L743.9 466.0ZM741.9 496.0L739.5 500.0L739.1 504.0L740.0 506.5L742.0 506.7L748.5 502.0L749.6 500.0L749.4 498.0L748.0 495.7L746.0 494.9L742.0 496.0ZM718.3 512.0L719.6 516.0L722.0 518.1L724.0 518.5L726.8 518.0L727.6 516.0L725.7 512.0L724.0 510.6L720.0 510.8ZM739.4 520.0L739.6 522.0L742.0 523.6L743.5 522.0L742.0 519.0L740.0 519.0ZM404.0 483.1L406.0 482.7L408.0 483.6L409.7 486.0L408.0 486.8L406.0 486.6L404.8 486.0L403.3 484.0Z" fill="#ff9b00" fill-rule="evenodd"/>
<path d="M172.0 409.2L178.0 410.3L181.4 412.0L187.5 418.0L194.0 426.0L193.8 428.0L192.0 430.5L182.0 437.8L180.0 438.2L176.0 436.0L170.0 434.7L168.8 434.0L168.0 432.6L169.1 424.0L168.5 416.0L169.1 412.0L170.0 410.0Z" fill="#ff8700" fill-rule="evenodd"/>
<path d="M100.4 88.0L136.0 141.5L148.0 154.0L152.0 159.7L154.0 161.8L163.7 170.0L171.9 174.0L178.0 175.8L182.0 176.4L188.0 178.3L192.0 180.1L214.0 185.6L220.0 188.1L229.2 190.0L240.0 190.6L246.0 192.6L259.1 198.0L264.0 198.6L290.0 196.5L300.0 193.9L306.0 191.8L310.0 189.7L314.0 186.8L320.0 181.4L330.0 177.1L338.0 174.5L342.0 174.4L346.0 175.1L350.0 176.7L358.0 182.3L362.0 182.9L368.0 179.1L370.0 178.3L374.0 177.4L380.0 177.2L390.0 171.0L394.0 169.9L400.0 169.4L406.0 170.2L408.0 171.0L412.0 174.0L414.0 176.2L416.4 180.0L420.0 190.9L422.0 193.4L424.0 193.3L426.1 190.0L428.7 180.0L431.2 174.0L433.7 170.0L436.0 167.5L440.0 164.6L444.0 163.2L448.0 162.7L454.0 163.9L456.0 163.0L466.0 153.4L468.4 150.0L468.5 146.0L467.3 140.0L465.8 136.0L462.0 132.4L452.4 128.0L450.0 126.0L449.4 124.0L451.8 114.0L452.5 112.0L454.0 110.7L458.0 110.0L470.0 111.5L486.3 112.0L498.0 114.4L512.0 114.7L516.0 114.3L517.2 114.0L519.6 112.0L520.0 107.4L521.6 104.0L522.0 97.9L523.1 96.0L525.6 94.0L536.0 91.4L544.0 90.8L551.0 88.0M530.0 109.9L532.0 110.6L534.1 110.0L532.0 109.1ZM98.6 88.0L134.0 141.5L146.0 154.0L152.0 161.9L162.0 171.6L171.9 178.0L178.0 180.7L188.0 184.3L194.0 185.6L220.0 194.5L226.0 196.1L236.0 202.1L240.0 203.5L246.0 202.7L264.0 203.1L288.0 200.3L294.0 198.9L309.6 192.0L314.0 189.0L318.0 185.2L322.0 182.4L330.0 179.1L338.0 176.6L342.0 176.5L346.0 177.2L350.0 179.0L358.0 184.3L360.0 185.0L362.0 184.9L370.0 180.1L374.0 179.1L380.0 179.1L382.0 178.5L390.0 173.5L392.0 172.7L398.0 171.9L404.0 171.9L406.0 172.4L408.0 173.2L411.5 176.0L414.5 180.0L418.0 191.1L420.0 195.0L422.0 196.6L424.0 196.6L426.0 195.5L427.0 194.0L432.0 178.0L434.0 174.0L438.0 169.1L442.0 166.4L446.0 165.3L454.0 166.5L455.8 166.0L458.8 164.0L468.0 155.8L472.0 153.7L474.0 153.2L478.0 153.3L479.0 152.0L476.0 149.5L474.0 146.6L472.8 142.0L472.2 134.0L471.2 132.0L467.7 128.0L466.3 126.0L466.0 124.7L465.2 124.0L466.0 122.0L468.1 120.0L472.0 118.9L478.0 119.3L484.0 117.5L488.0 117.6L490.0 118.5L494.0 122.8L496.0 124.2L500.0 124.8L510.0 123.8L526.0 123.9L534.0 123.3L554.9 118.0L558.0 116.6L566.0 111.4L579.4 100.0L581.0 98.0L584.2 88.0M97.5 88.0L133.2 142.0L146.6 156.0L150.0 161.1L162.0 173.2L170.0 178.8L182.0 185.5L194.0 191.5L200.0 194.2L208.0 196.3L216.9 200.0L219.1 202.0L220.0 208.8L221.9 210.0L226.0 211.0L232.0 213.4L236.0 212.8L242.0 210.1L248.0 208.5L282.0 203.8L294.0 201.7L310.0 193.6L314.0 190.9L320.0 185.4L322.0 184.1L332.0 180.1L336.0 178.8L340.0 178.2L344.0 178.6L348.0 179.9L356.0 185.2L360.0 186.7L362.0 186.6L370.0 181.6L374.0 180.5L380.0 180.8L382.0 180.3L392.0 174.9L396.0 174.2L404.0 173.9L406.0 174.3L410.0 176.8L412.7 180.0L414.5 184.0L416.8 192.0L420.0 197.7L422.0 198.9L424.0 199.0L426.0 198.4L428.0 196.5L429.2 194.0L434.1 178.0L436.3 174.0L440.0 170.0L443.5 168.0L446.0 167.3L448.0 167.3L454.0 168.6L456.0 168.1L460.0 165.6L466.5 160.0L470.0 157.8L472.0 157.3L480.0 158.7L482.0 158.6L484.4 158.0L487.0 156.0L488.0 154.1L488.3 150.0L486.3 144.0L485.8 140.0L486.7 134.0L488.0 133.2L492.0 132.6L500.0 133.0L510.0 131.9L514.0 132.1L520.0 133.4L528.0 132.0L542.0 132.8L546.0 132.0L562.0 126.7L575.4 126.0L591.8 124.0L600.4 120.0L606.0 112.3L612.7 106.0L618.3 102.0L626.0 98.0L630.0 94.8L634.4 88.0M720.4 88.0L719.7 94.0L720.0 96.2L722.0 98.1L732.0 103.7L738.0 111.8L740.0 112.7L742.0 112.7L746.0 111.1L754.0 104.9L762.6 96.0L764.9 92.0L768.0 88.0M482.0 129.9L484.0 129.1L485.0 130.0L484.0 131.9L482.0 130.0ZM96.6 88.0L132.2 142.0L145.5 156.0L149.7 162.0L162.0 174.6L168.0 179.1L173.2 182.0L184.0 189.7L191.5 196.0L209.2 206.0L210.4 208.0L210.5 210.0L207.8 218.0L208.0 218.7L224.0 225.0L226.0 224.9L228.5 224.0L240.0 216.4L244.6 214.0L250.0 212.1L256.0 210.6L290.0 205.0L296.0 203.5L312.0 194.4L322.0 186.0L332.0 182.1L338.0 180.7L342.0 180.6L346.0 181.6L348.0 182.4L356.0 187.4L360.0 188.6L362.0 188.4L364.0 187.5L368.6 184.0L372.0 182.4L373.9 182.0L380.0 182.6L382.0 182.3L392.6 178.0L404.0 176.6L406.0 176.9L408.3 178.0L412.0 182.0L416.2 194.0L420.0 200.2L422.0 201.1L426.0 200.7L428.0 199.7L430.0 197.0L436.0 178.3L438.0 174.9L440.6 172.0L443.7 170.0L446.0 169.3L454.0 170.7L456.0 170.1L462.0 166.5L467.8 162.0L472.0 160.2L482.0 161.6L484.0 161.4L487.7 160.0L490.2 158.0L491.4 156.0L494.0 148.0L496.0 143.9L498.0 142.4L500.0 141.7L506.0 141.9L518.0 146.1L520.1 146.0L526.0 143.4L530.0 142.4L546.0 143.5L556.0 142.2L568.0 142.4L590.0 139.3L598.0 136.6L604.0 135.6L620.0 131.1L632.0 128.8L642.0 128.5L650.0 130.7L652.0 130.8L660.0 129.1L668.0 129.8L676.0 127.8L682.0 128.2L688.0 130.0L692.0 132.2L698.0 137.4L702.4 140.0L706.0 141.0L710.0 141.7L716.0 141.7L728.0 139.1L740.0 140.4L748.0 140.0L752.0 141.4L756.0 144.7L758.0 144.9L762.0 142.6L764.0 142.4L772.0 145.1L776.0 145.6M95.7 88.0L100.0 95.1L131.3 142.0L134.0 145.3L144.0 155.4L150.0 163.4L160.0 173.9L166.0 179.4L173.0 184.0L178.0 188.4L183.6 192.0L190.0 197.6L196.0 201.3L200.0 204.8L204.7 208.0L206.5 210.0L206.8 212.0L206.0 214.0L204.0 216.2L194.6 224.0L192.8 226.0L191.9 228.0L194.0 228.8L200.0 229.5L212.0 233.1L216.0 234.8L220.0 234.6L226.0 232.1L232.0 228.0L238.4 222.0L241.2 220.0L246.0 217.3L252.0 214.8L278.0 209.2L294.0 206.5L304.0 202.9L310.0 199.4L318.0 192.0L322.0 189.0L328.0 186.5L334.0 185.1L338.0 184.7L342.0 185.0L348.0 187.0L356.0 191.0L360.0 191.6L362.0 191.1L370.0 185.2L373.3 184.0L376.0 184.0L382.0 185.5L390.0 186.6L392.0 186.5L396.0 185.4L403.9 182.0L406.0 181.8L408.0 182.3L410.2 184.0L412.0 187.1L414.7 194.0L417.7 200.0L419.3 202.0L422.0 203.2L426.0 202.8L428.4 202.0L430.7 200.0L432.6 196.0L436.0 183.9L438.0 178.8L440.0 175.6L442.0 173.5L444.0 172.2L448.0 171.6L452.0 172.8L454.0 173.0L456.0 172.5L468.0 165.6L472.0 164.3L480.0 165.7L486.0 165.6L492.0 162.9L498.0 158.6L505.9 156.0L510.0 155.6L516.0 156.2L526.0 152.5L532.0 151.1L538.2 152.0L548.0 155.5L562.0 155.8L572.0 157.8L584.9 162.0L590.0 165.0L602.0 164.7L604.4 166.0L606.2 168.0L608.0 171.2L609.1 172.0L614.0 173.2L615.4 174.0L615.1 176.0L616.0 176.7L616.7 176.0L615.7 172.0L617.9 170.0L624.0 168.7L628.0 166.1L630.0 165.4L632.0 165.5L638.6 168.0L644.0 170.9L650.0 170.4L653.9 172.0L656.0 172.3L660.0 171.5L662.0 171.7L670.0 175.2L674.0 178.1L676.0 178.8L680.0 178.7L684.0 176.7L686.0 176.7L694.0 184.7L696.0 186.1L698.0 186.4L706.0 186.1L714.0 187.8L716.0 187.5L720.0 185.6L730.0 183.7L744.0 182.7L746.0 183.1L747.6 184.0L750.0 187.6L752.0 187.8L754.0 187.3L758.0 185.4L760.0 185.5L762.1 188.0L764.0 189.0L766.0 189.3L776.0 187.1M94.7 88.0L98.3 94.0L109.4 110.0L131.8 144.0L143.5 156.0L148.0 162.3L157.4 172.0L165.7 182.0L174.0 197.2L175.5 198.0L176.0 198.9L176.8 196.0L178.0 194.4L180.0 194.4L182.6 196.0L188.0 201.1L196.0 206.2L200.5 210.0L201.8 212.0L200.0 214.3L192.0 218.9L188.0 221.8L182.0 227.7L179.8 234.0L180.0 237.0L182.0 237.9L190.0 238.0L194.0 238.8L202.0 243.4L206.0 244.9L208.0 245.3L212.0 244.4L229.0 236.0L234.3 232.0L238.8 226.0L240.9 224.0L246.0 220.9L254.0 217.2L278.0 211.4L294.0 209.0L297.9 208.0L306.0 207.6L310.0 205.4L318.0 195.7L322.0 193.0L326.0 191.5L334.0 190.4L340.0 190.5L344.0 191.6L354.0 195.5L358.0 196.3L362.0 195.1L370.0 187.9L374.0 186.6L378.6 188.0L388.0 194.0L392.0 195.0L397.3 194.0L400.0 192.5L404.0 189.3L406.0 188.5L408.0 188.4L410.0 189.6L412.0 192.5L418.0 204.5L420.0 205.3L426.0 205.0L430.0 203.8L432.0 202.4L433.8 200.0L436.6 194.0L438.0 187.4L440.0 182.4L443.0 178.0L445.7 176.0L448.0 175.9L454.0 177.4L458.0 176.7L464.0 174.8L474.0 174.6L478.0 176.2L482.0 179.6L486.0 181.5L490.0 182.2L498.0 182.0L500.0 181.6L503.4 180.0L509.3 176.0L516.0 172.8L520.0 172.0L528.0 174.5L530.0 175.6L534.0 179.6L536.0 180.4L544.0 181.6L546.0 181.2L550.0 178.0L552.0 177.3L556.0 173.8L558.0 173.8L560.0 174.7L563.9 178.0L566.1 182.0L566.7 186.0L565.4 192.0L567.5 200.0L568.9 202.0L574.0 205.1L588.0 209.0L594.0 212.7L596.0 212.9L601.0 212.0L604.0 210.0L606.0 209.6L612.0 211.6L616.0 211.9L620.3 214.0L626.0 215.9L630.0 215.3L636.0 215.4L644.0 216.6L650.0 214.5L652.0 215.0L659.7 220.0L663.4 224.0L666.0 224.9L668.0 224.5L672.0 222.1L676.0 220.7L692.0 210.1L694.0 209.7L696.3 210.0L697.1 214.0L700.0 218.2L702.0 219.7L705.5 214.0L708.0 212.1L712.0 211.2L716.0 211.2L719.1 212.0L724.0 215.4L728.0 216.4L730.0 217.6L734.0 222.0L738.0 224.6L744.0 223.4L748.0 223.6L750.0 223.0L762.0 216.4L764.0 215.7L766.1 216.0L767.9 218.0L770.0 223.8L771.6 226.0L774.0 228.0L776.0 228.8M776.0 212.6L772.0 212.2L768.0 211.1L767.4 210.0L767.2 208.0L768.1 202.0L768.0 196.0L770.8 194.0L776.0 192.9M93.7 88.0L98.5 96.0L112.0 115.3L130.7 144.0L142.3 156.0L148.3 164.0L156.2 172.0L160.7 178.0L162.7 182.0L175.4 220.0L177.7 230.0L177.5 232.0L176.0 235.4L165.5 244.0L164.1 246.0L164.2 248.0L168.0 248.3L178.0 247.3L182.7 248.0L185.8 250.0L187.8 252.0L189.3 254.0L191.0 258.0L196.0 260.5L198.0 260.9L200.0 260.5L202.0 258.9L208.0 251.7L212.0 248.6L219.8 244.0L226.0 241.3L234.0 237.0L238.0 233.3L241.7 228.0L244.0 226.3L258.0 219.9L264.0 218.3L270.0 217.4L278.0 214.9L284.0 214.0L292.0 213.9L298.0 215.9L302.0 216.7L304.0 216.4L310.0 214.1L316.0 213.2L322.0 209.2L324.0 209.0L330.0 210.3L338.0 209.2L339.5 208.0L340.7 206.0L340.9 202.0L341.4 200.0L342.0 199.8L346.0 199.9L358.0 206.2L360.0 205.8L368.0 198.4L370.0 198.3L370.3 200.0L372.0 202.0L374.0 203.1L376.0 203.2L380.0 200.4L381.2 202.0L386.0 203.8L396.0 203.6L399.2 204.0L400.0 204.3L405.4 210.0L409.1 216.0L412.0 217.5L414.0 216.8L416.0 215.3L420.0 210.2L422.0 209.1L425.3 208.0L432.0 207.0L440.0 204.2L450.0 203.0L456.0 204.5L462.0 207.5L464.0 207.8L470.0 207.2L472.0 206.6L480.0 201.8L482.0 201.2L488.0 200.8L496.0 197.6L498.0 197.8L500.2 200.0L502.0 204.0L503.0 208.0L506.9 214.0L509.8 216.0L514.0 217.8L517.6 218.0L520.0 216.9L521.7 216.0L526.0 211.5L533.3 212.0L540.0 215.9L541.0 218.0L545.3 222.0L547.3 226.0L550.0 227.8L552.0 227.8L558.0 225.7L560.0 226.0L564.0 227.6L568.0 227.3L569.5 228.0L570.5 230.0L570.8 232.0L574.0 235.0L577.5 242.0L584.0 245.4L586.0 245.8L588.0 245.2L596.0 240.9L602.0 239.9L604.0 240.4L608.5 244.0L608.9 246.0L608.0 246.8L602.0 247.3L600.0 248.8L596.3 252.0L595.8 254.0L596.3 256.0L598.1 258.0L604.0 260.3L606.0 260.5L612.0 259.5L614.0 260.1L616.4 262.0L618.4 266.0L622.0 267.9L628.0 266.8L632.0 266.7L634.0 266.0L636.4 264.0L639.6 260.0L641.0 256.0L648.0 249.8L650.0 248.7L652.0 248.5L658.0 249.5L660.0 250.9L663.7 256.0L666.0 256.9L672.0 257.6L676.0 256.6L680.0 257.3L681.1 258.0L682.4 260.0L681.7 264.0L682.1 266.0L684.0 269.1L687.7 272.0L688.7 274.0L686.0 278.0L683.2 280.0L682.5 282.0L683.0 284.0L684.0 285.4L686.0 286.1L690.0 285.2L692.0 285.4L695.2 280.0L695.8 278.0L695.7 276.0L694.7 274.0L692.2 272.0L692.8 270.0L695.1 266.0L698.0 263.8L700.0 264.0L701.7 266.0L696.6 268.0L695.5 270.0L696.2 272.0L698.0 273.6L700.0 273.3L701.8 272.0L702.8 270.0L702.5 268.0L704.0 266.4L706.0 265.7L707.4 264.0L703.2 260.0L705.5 258.0L708.0 257.4L710.0 257.6L712.0 259.3L714.0 259.9L718.0 259.6L724.0 261.5L730.0 261.5L738.0 257.3L746.0 254.9L752.0 254.7L754.0 253.7L756.0 251.4L758.2 250.0L760.0 249.5L762.0 249.8L764.0 252.0L766.5 264.0L767.0 284.0L770.4 294.0L772.0 296.6L776.0 296.8M408.0 197.6L410.0 198.0L410.7 200.0L410.0 200.6L408.0 200.6L406.1 200.0L406.9 198.0ZM642.0 265.6L641.3 268.0L642.1 270.0L643.9 272.0L646.0 272.8L648.0 272.0L648.5 270.0L648.0 266.0L646.0 264.9L644.0 265.0ZM92.3 88.0L92.9 90.0L108.0 111.2L129.1 144.0L142.0 157.5L146.6 164.0L156.1 174.0L158.6 178.0L160.3 182.0L173.4 222.0L175.2 230.0L175.0 232.0L174.0 234.2L165.5 240.0L150.9 252.0L149.4 254.0L150.0 256.0L158.0 256.8L168.0 256.2L172.0 256.7L178.1 262.0L188.7 266.0L194.0 270.1L196.0 270.9L198.0 270.9L200.0 269.6L204.0 262.0L206.0 259.2L212.0 252.9L216.3 250.0L220.7 248.0L230.0 245.7L234.7 242.0L244.0 235.8L246.0 235.6L247.7 236.0L254.0 238.7L260.0 238.4L264.0 240.2L268.0 240.8L276.0 239.6L286.0 238.8L292.0 237.1L294.0 237.5L299.0 242.0L302.0 242.8L304.0 242.8L306.0 242.1L316.0 237.1L318.0 236.4L320.0 236.5L322.3 238.0L326.0 243.7L328.0 245.8L336.0 243.8L344.0 243.6L348.0 243.0L354.0 244.2L358.0 247.3L360.0 247.3L362.2 246.0L368.0 245.4L376.0 243.6L378.0 242.3L382.0 238.3L388.0 234.5L392.0 230.7L398.0 227.6L400.0 227.5L407.6 232.0L416.0 236.0L418.6 238.0L420.0 239.8L424.0 237.7L430.0 235.4L432.0 235.7L437.9 240.0L440.0 242.6L442.0 244.0L450.0 244.9L454.0 244.2L458.0 242.0L460.0 241.7L468.0 243.8L474.0 243.2L480.0 243.4L482.1 242.0L482.1 240.0L483.8 238.0L486.0 237.8L488.0 236.1L490.0 229.9L492.0 228.0L494.0 228.0L496.0 228.6L502.0 234.0L508.0 235.4L520.0 240.0L521.9 242.0L524.0 245.5L530.0 249.6L531.9 252.0L532.7 254.0L532.7 256.0L530.0 259.5L530.0 260.3L533.9 262.0L543.6 264.0L546.0 264.9L548.0 268.0L550.1 270.0L554.0 271.8L562.0 272.3L576.0 276.0L582.0 277.0L585.3 282.0L585.8 286.0L592.0 287.8L594.0 288.9L596.4 292.0L596.6 294.0L598.0 296.0L601.5 298.0L606.0 298.9L612.0 302.5L614.0 301.9L615.5 298.0L616.8 296.0L626.0 292.7L628.0 292.7L632.0 294.0L634.0 295.5L635.6 298.0L635.9 300.0L635.5 302.0L634.0 303.2L630.0 303.1L627.3 304.0L625.8 306.0L625.6 308.0L628.0 309.8L636.0 312.3L642.0 312.4L644.0 311.7L648.0 307.3L650.0 307.1L652.0 312.8L652.2 316.0L651.9 318.0L648.9 320.0L648.0 321.5L647.8 326.0L652.6 334.0L652.9 336.0L652.4 342.0L653.8 346.0L654.9 354.0L656.0 356.8L658.0 356.7L666.0 350.7L670.2 346.0L674.0 340.4L676.3 338.0L680.0 331.9L682.0 330.7L686.0 330.0L686.7 328.0L685.9 324.0L686.3 322.0L687.2 320.0L689.0 318.0L692.0 316.4L702.0 313.0L706.0 309.8L712.0 306.7L714.3 304.0L716.0 303.3L720.0 302.7L722.0 301.8L724.1 300.0L728.0 293.6L732.0 290.1L734.0 289.5L740.0 290.9L746.0 293.7L748.0 294.2L760.0 292.8L762.0 294.3L765.6 304.0L767.8 316.0L769.5 342.0L771.0 344.0L772.0 344.3L776.0 343.5M452.0 225.4L454.0 224.5L458.0 224.0L460.0 224.2L462.0 225.4L463.5 228.0L464.4 232.0L464.0 234.3L462.0 236.2L460.0 237.1L458.0 237.2L456.0 235.7L451.5 230.0L450.6 228.0L451.2 226.0ZM582.0 287.5L580.0 288.5L579.7 290.0L580.8 290.0L582.0 288.9L582.5 288.0L582.0 287.5M640.0 320.8L638.2 322.0L637.2 324.0L640.0 325.0L642.0 324.1L641.1 322.0ZM77.2 88.0L76.2 92.0L77.4 94.0L79.4 96.0L80.0 98.3L79.1 100.0L74.0 102.9L72.5 104.0L72.0 105.1L71.7 108.0L72.4 116.0L71.4 118.0L70.0 118.9L66.0 119.8M66.0 185.9L68.0 186.4L70.0 188.0L71.2 190.0L72.0 196.6L72.4 198.0L73.9 200.0L78.0 201.8L81.0 204.0L82.9 206.0L83.5 208.0L84.8 210.0L87.5 212.0L90.0 215.1L95.4 218.0L96.9 220.0L101.4 224.0L103.8 228.0L105.8 234.0L108.0 235.2L112.0 234.9L114.0 236.0L118.8 240.0L119.4 242.0L118.4 248.0L118.0 248.8L116.2 250.0L112.0 251.7L111.8 254.0L113.9 258.0L118.0 260.9L122.0 265.8L123.2 268.0L126.0 269.2L132.2 270.0L138.0 268.1L146.0 268.8L156.0 268.1L164.0 266.5L178.4 270.0L182.0 271.8L186.4 276.0L188.1 284.0L192.0 290.3L196.0 294.3L198.0 294.4L198.2 294.0L199.1 290.0L199.3 284.0L200.4 280.0L204.0 274.2L207.3 270.0L208.0 267.6L210.0 265.6L214.1 266.0L218.0 268.1L224.0 269.2L230.0 269.0L236.0 271.0L242.0 269.5L244.0 269.5L250.0 271.0L256.0 275.0L258.0 274.8L260.5 272.0L266.0 268.9L267.8 270.0L268.5 272.0L270.0 273.2L274.0 273.9L276.0 273.5L278.0 272.0L280.1 268.0L282.0 266.0L284.0 265.0L286.0 264.9L292.0 266.4L298.0 267.0L308.0 266.9L316.0 268.6L318.4 268.0L322.9 264.0L326.0 262.2L328.0 261.7L330.6 262.0L337.7 268.0L340.0 269.5L342.0 269.9L348.0 268.4L358.0 267.9L366.0 268.6L369.9 270.0L374.0 270.4L380.0 268.5L390.0 263.7L394.4 260.0L397.7 254.0L399.7 252.0L404.0 250.4L408.0 249.7L410.0 250.1L412.0 252.3L414.5 258.0L414.9 264.0L416.0 265.2L417.6 266.0L422.0 266.0L434.0 267.6L441.0 266.0L445.3 262.0L448.0 261.2L456.0 260.7L460.0 261.8L464.0 262.0L470.0 264.1L473.9 266.0L476.5 268.0L478.6 272.0L478.2 274.0L476.8 276.0L476.5 278.0L478.0 280.2L480.0 281.2L484.0 281.5L490.0 283.3L492.0 282.9L493.2 282.0L493.7 280.0L492.9 274.0L494.0 273.1L496.0 273.3L510.0 281.2L514.0 283.0L515.5 284.0L516.6 286.0L518.9 288.0L524.0 290.4L528.0 293.8L532.0 293.1L534.3 294.0L537.3 298.0L538.0 300.0L537.6 306.0L538.4 308.0L540.0 310.0L542.0 311.2L544.0 310.6L548.0 307.9L549.5 308.0L552.0 309.7L553.7 312.0L553.5 320.0L554.0 322.4L556.0 323.5L564.0 322.9L568.0 321.1L572.0 320.2L574.0 320.7L581.0 326.0L584.2 330.0L584.7 332.0L584.6 338.0L585.3 342.0L586.0 343.1L588.0 344.5L596.0 345.4L598.6 346.0L600.0 346.9L602.0 349.9L602.8 356.0L603.6 358.0L610.0 364.4L612.0 365.4L614.0 365.7L620.8 366.0L626.0 368.7L634.0 374.3L640.0 380.2L644.8 386.0L645.9 392.0L647.0 394.0L652.0 398.3L654.0 398.9L655.6 398.0L658.9 392.0L662.0 388.2L668.7 378.0L671.4 376.0L674.0 375.1L676.0 375.0L680.0 376.3L682.0 376.2L684.0 374.2L686.9 370.0L691.0 362.0L692.8 360.0L696.0 358.1L701.9 356.0L705.7 354.0L708.0 352.1L711.9 344.0L713.0 340.0L714.7 338.0L718.0 335.6L720.0 334.9L722.0 334.9L730.0 336.2L732.0 336.1L738.0 334.6L742.4 330.0L748.0 327.4L756.0 325.5L758.0 325.7L760.0 326.4L762.0 327.9L764.0 331.2L766.7 344.0L768.0 345.3L769.8 346.0L772.0 346.0L776.0 345.0M84.0 101.9L86.0 101.2L88.0 101.7L90.0 103.2L92.0 103.8L98.0 103.7L102.0 106.9L110.0 118.2L111.3 124.0L110.1 128.0L110.8 132.0L110.8 140.0L106.0 144.5L104.0 150.7L102.0 152.3L98.0 152.1L92.0 154.7L90.0 154.0L92.0 153.2L92.4 152.0L92.9 144.0L93.7 142.0L96.0 139.3L100.4 136.0L100.8 132.0L100.4 130.0L99.3 128.0L96.0 123.6L90.0 122.4L86.0 120.3L83.2 118.0L82.2 116.0L82.4 114.0L83.5 112.0L85.6 110.0L86.2 108.0L84.0 104.7L83.9 102.0ZM106.0 127.5L105.4 128.0L106.0 128.6L109.6 128.0L108.0 127.5ZM80.0 129.2L82.0 128.2L84.0 128.4L86.2 130.0L86.3 132.0L84.4 138.0L82.0 140.5L80.0 141.3L78.0 140.2L73.8 136.0L72.9 134.0L74.0 131.8L76.0 131.5L78.8 130.0ZM84.0 145.7L86.0 147.5L87.0 150.0L86.8 152.0L86.0 152.3L84.0 151.6L82.2 150.0L81.6 148.0L82.0 146.6L82.8 146.0ZM130.0 157.5L131.2 158.0L131.5 162.0L132.8 168.0L132.8 170.0L132.0 171.8L126.0 173.6L123.3 176.0L122.2 178.0L122.0 184.1L120.6 186.0L112.6 190.0L106.5 202.0L104.0 203.8L102.0 202.0L100.4 198.0L100.7 196.0L101.9 194.0L102.4 192.0L101.5 188.0L102.5 180.0L104.7 176.0L104.9 174.0L104.0 171.8L101.1 168.0L102.0 166.0L108.0 167.5L114.0 171.5L118.0 171.6L120.8 170.0L122.0 168.6L126.0 160.5L128.9 158.0ZM86.0 165.7L87.0 166.0L88.1 168.0L88.0 168.9L86.0 171.3L85.5 168.0L85.7 166.0ZM124.0 186.6L126.0 186.5L130.4 188.0L131.6 190.0L131.4 192.0L132.0 194.6L133.0 196.0L136.0 197.5L138.0 199.2L139.2 202.0L139.3 204.0L138.0 208.7L136.0 211.2L134.0 212.5L130.0 210.0L120.0 209.0L118.2 210.0L119.5 216.0L120.4 218.0L122.0 219.9L122.0 222.1L120.0 220.6L118.7 218.0L116.0 217.0L112.0 216.5L110.0 215.1L107.3 212.0L106.6 210.0L108.0 208.4L109.7 208.0L118.0 208.8L118.2 208.0L117.3 206.0L114.5 202.0L115.1 200.0L118.0 197.2L119.2 194.0L122.7 188.0ZM98.0 212.1L100.3 214.0L100.4 216.0L100.0 216.5L98.0 216.7L96.8 216.0L96.4 214.0ZM136.0 231.6L138.1 234.0L136.9 236.0L136.0 236.5L134.2 236.0L134.3 234.0L135.7 232.0ZM126.0 251.9L128.0 250.7L136.0 250.1L138.0 251.0L138.2 252.0L136.7 254.0L132.4 258.0L130.0 259.3L128.0 259.1L126.0 256.7L125.1 254.0L125.8 252.0ZM66.0 279.7L74.0 280.0L76.0 281.1L78.0 283.0L82.9 290.0L83.7 292.0L83.8 294.0L82.0 297.5L80.0 298.3L76.0 297.0L72.0 300.0L66.0 299.6M66.0 306.4L72.0 304.7L82.0 307.7L84.0 307.4L85.2 306.0L86.0 304.0L88.0 302.1L93.2 300.0L102.5 292.0L108.3 288.0L112.0 283.9L114.0 282.8L118.0 281.9L144.0 280.6L154.0 277.8L160.0 276.9L170.0 279.1L171.9 280.0L178.0 286.1L182.0 290.7L186.0 296.4L189.4 300.0L194.0 303.0L200.0 305.1L206.0 304.2L209.5 302.0L210.8 300.0L211.4 298.0L212.0 294.0L212.0 289.7L212.3 292.0L216.0 293.4L234.0 289.7L240.0 289.0L244.0 287.4L246.0 287.8L258.0 294.8L264.0 297.0L268.0 297.9L270.0 297.7L272.0 296.8L274.0 295.0L276.0 294.0L284.0 293.9L288.0 293.1L292.1 290.0L296.0 288.1L300.0 284.7L302.0 284.0L304.0 284.1L315.0 290.0L316.6 292.0L320.0 294.8L322.0 295.6L324.0 295.7L328.0 293.9L334.6 292.0L338.0 290.2L339.2 288.0L339.3 286.0L337.3 284.0L337.2 282.0L340.0 279.9L342.4 280.0L344.0 281.6L346.0 281.7L354.0 281.6L360.0 280.3L362.0 280.7L370.0 285.5L380.0 290.2L382.0 290.5L390.0 289.5L392.0 289.9L393.6 292.0L393.0 298.0L394.0 300.0L400.0 302.1L404.0 301.7L406.0 299.7L410.0 292.2L418.0 288.1L422.0 287.8L426.0 289.8L428.0 290.1L432.0 289.6L434.0 289.9L437.0 292.0L440.0 295.4L444.0 295.6L446.0 296.4L447.5 298.0L448.2 300.0L446.0 301.4L438.0 301.5L436.0 302.1L434.4 304.0L433.8 306.0L433.7 308.0L434.5 310.0L436.0 311.3L438.0 311.8L442.0 310.5L444.0 310.4L462.0 319.9L469.4 322.0L472.4 324.0L476.6 328.0L477.9 330.0L480.0 340.9L486.0 342.7L487.0 344.0L487.8 348.0L490.8 352.0L494.0 353.2L496.0 353.3L502.0 352.1L503.8 354.0L504.0 356.0L506.3 360.0L511.8 366.0L513.0 368.0L514.0 372.1L516.0 372.3L516.6 370.0L518.0 369.4L524.0 372.7L532.0 374.3L536.0 368.9L538.0 367.8L546.8 368.0L548.0 368.9L548.4 370.0L548.1 372.0L545.2 378.0L544.9 380.0L546.0 380.6L548.0 380.5L552.0 379.3L555.9 380.0L558.0 379.8L562.9 376.0L564.9 374.0L566.0 371.9L568.0 371.8L572.1 374.0L572.9 376.0L572.4 380.0L573.4 384.0L574.5 386.0L578.0 388.0L584.0 386.1L586.0 385.0L586.9 384.0L588.0 379.6L590.0 378.6L594.0 379.7L598.0 381.9L600.0 382.2L602.0 381.9L604.1 384.0L603.9 386.0L602.4 388.0L596.0 388.8L594.8 390.0L594.3 392.0L595.0 394.0L596.7 396.0L598.8 398.0L602.0 399.9L610.0 400.5L612.0 400.1L614.0 398.6L616.0 399.1L620.0 401.4L622.0 401.8L626.0 401.6L630.0 402.3L638.0 401.0L644.0 401.8L648.6 404.0L657.4 412.0L660.0 413.4L662.0 413.8L664.0 413.5L666.0 412.1L672.0 405.5L677.4 402.0L681.4 398.0L684.0 396.7L686.0 396.5L688.0 397.0L692.0 398.8L700.0 398.4L702.0 397.7L703.7 396.0L706.0 390.1L707.8 388.0L712.0 385.1L718.0 382.7L720.0 381.1L726.0 371.5L728.0 369.2L736.0 367.8L744.0 369.4L746.0 369.6L748.0 369.1L753.1 366.0L756.0 360.2L758.0 359.2L760.0 360.3L762.1 366.0L763.2 372.0L764.0 373.9L766.0 375.1L768.0 370.9L768.9 362.0L768.7 358.0L766.8 352.0L767.2 350.0L769.2 348.0L776.0 346.3M66.0 324.5L66.6 324.0L66.0 322.3M480.0 350.6L478.8 352.0L478.5 354.0L480.0 356.1L482.0 355.5L483.5 354.0L483.6 352.0L482.0 350.4L480.0 350.6M206.0 467.5L204.9 468.0L204.9 470.0L206.0 471.7L208.0 470.1L207.2 468.0ZM194.0 473.4L191.8 478.0L191.5 480.0L192.0 483.4L194.0 487.6L196.0 490.0L200.0 492.3L201.2 494.0L202.0 496.0L201.8 504.0L202.7 510.0L202.6 514.0L203.2 516.0L207.6 526.0L214.0 533.4L215.5 530.0L215.5 526.0L213.5 520.0L212.9 516.0L212.0 508.0L212.1 502.0L211.3 498.0L210.6 488.0L208.0 478.2L206.0 474.3L202.0 474.6L200.0 474.1L198.0 472.7L196.0 472.4ZM214.0 536.0L212.3 538.0L211.9 540.0L215.6 544.0L216.0 549.9L216.0 536.8ZM66.0 352.2L102.0 352.4L104.0 355.0L106.0 354.5L108.0 356.3L110.0 356.2L112.0 358.2L114.0 358.2L116.0 360.1L118.0 360.2L118.9 358.0L118.2 356.0L108.8 350.0L106.8 348.0L105.2 344.0L106.0 341.1L108.0 339.3L110.0 338.8L124.0 338.1L128.0 335.6L130.0 335.5L130.8 336.0L131.8 340.0L134.0 343.5L136.0 345.5L138.0 345.1L138.6 344.0L139.0 338.0L140.3 334.0L142.0 330.4L144.0 328.0L144.5 326.0L146.6 322.0L146.9 320.0L146.1 318.0L143.3 314.0L142.5 312.0L142.4 310.0L144.0 308.0L146.6 306.0L147.9 304.0L148.2 298.0L149.1 294.0L150.5 292.0L154.0 290.5L158.0 289.7L166.0 289.5L168.1 290.0L170.0 291.1L172.6 294.0L174.6 298.0L175.5 304.0L178.0 307.2L181.6 314.0L184.0 316.8L186.0 318.0L194.0 320.3L208.0 319.2L214.0 319.8L220.0 321.3L222.0 322.3L228.0 328.4L232.0 330.3L234.0 330.4L236.0 329.7L238.0 326.4L240.0 327.2L240.2 328.0L242.0 329.9L244.0 329.3L246.0 327.9L250.0 327.1L258.0 329.3L262.0 331.9L264.0 332.2L274.0 330.3L278.0 328.0L282.0 328.2L284.0 327.5L286.5 324.0L288.7 322.0L292.0 320.0L296.0 319.2L302.0 318.8L304.0 318.2L308.0 315.7L316.0 313.5L320.0 314.3L323.2 316.0L330.3 322.0L330.9 324.0L330.7 328.0L332.3 330.0L334.0 330.9L340.0 332.6L346.0 336.4L348.0 337.0L358.0 337.4L362.3 334.0L364.0 333.2L366.0 333.2L374.0 336.2L380.0 335.8L386.0 336.1L388.0 336.7L390.0 338.3L391.4 342.0L390.9 348.0L390.0 350.4L388.4 352.0L388.2 354.0L390.0 355.0L393.9 360.0L396.7 362.0L397.0 364.0L394.6 368.0L395.3 370.0L396.9 372.0L398.2 378.0L400.0 379.1L404.0 379.6L410.0 382.5L416.7 384.0L420.0 386.6L426.0 393.2L430.0 395.6L434.0 401.0L436.0 401.2L437.5 400.0L438.6 398.0L439.2 394.0L440.0 393.6L446.0 395.5L450.2 398.0L454.6 402.0L456.0 404.4L458.0 406.4L461.0 406.0L470.0 398.8L472.0 398.5L476.6 402.0L480.0 403.8L486.0 404.9L492.5 404.0L494.0 403.1L498.0 398.3L500.0 397.4L502.0 397.5L511.7 400.0L516.0 403.4L522.0 404.4L542.0 412.3L549.3 414.0L554.0 417.5L560.0 418.2L570.0 417.6L572.0 416.7L578.1 410.0L580.0 409.2L588.0 409.9L592.0 411.4L596.0 413.6L602.0 418.7L612.0 425.6L616.0 427.2L620.0 427.7L628.0 425.6L638.0 424.8L640.0 424.2L642.3 422.0L645.6 416.0L648.0 415.2L650.0 415.9L658.0 421.3L670.0 427.3L672.0 427.8L674.0 427.6L678.8 426.0L680.0 424.9L682.0 424.6L689.3 430.0L692.0 430.8L694.0 430.8L700.0 424.7L704.0 421.9L708.0 419.9L712.0 418.7L716.0 416.5L734.0 414.1L740.0 411.6L744.0 411.7L748.0 410.5L750.0 408.5L751.3 406.0L752.7 400.0L756.0 395.7L758.0 396.0L758.9 400.0L762.0 406.0L762.7 408.0L763.2 414.0L764.2 418.0L766.0 422.5L768.0 424.9L769.0 424.0L770.0 422.8L771.5 416.0L771.4 414.0L769.2 408.0L768.7 400.0L770.1 386.0L771.6 362.0L771.4 358.0L769.6 352.0L770.1 350.0L772.0 348.9L776.0 347.7M216.8 552.0L216.1 468.0L216.9 466.0L216.4 460.0L217.3 450.0L217.1 448.0L216.0 446.7L208.0 449.7L204.0 449.8L198.0 449.1L196.0 450.0L192.0 454.1L189.7 458.0L181.7 466.0L180.2 468.0L178.9 472.0L178.9 474.0L182.0 486.1L183.5 490.0L184.7 496.0L188.0 507.1L197.6 526.0L202.4 534.0L204.0 540.4L206.5 546.0L208.3 552.0M300.2 552.0L302.4 548.0L304.0 543.1L304.5 540.0L306.2 536.0L307.4 530.0L308.7 526.0L312.0 520.1L312.1 518.0L312.0 517.1L310.0 517.4L309.0 520.0L308.0 521.0L305.7 520.0L306.3 518.0L309.4 516.0L308.8 512.0L307.3 510.0L302.0 507.6L300.0 507.8L298.0 508.9L294.3 512.0L293.9 514.0L294.0 518.4L296.0 521.3L298.0 522.9L300.9 528.0L301.0 530.0L299.7 534.0L299.9 538.0L298.0 543.5L297.6 546.0L298.0 550.7L299.5 552.0M346.0 316.9L348.0 317.2L348.8 318.0L349.5 320.0L348.0 321.0L346.0 321.0L344.2 320.0L344.2 318.0ZM158.0 325.6L156.9 326.0L157.1 328.0L158.2 330.0L160.0 331.1L162.0 331.1L164.6 330.0L164.0 327.9L160.0 325.9ZM80.0 329.2L82.0 328.9L90.0 331.3L91.2 332.0L92.3 334.0L88.0 337.1L86.0 337.6L82.0 337.2L78.0 339.4L76.0 339.7L74.4 338.0L74.4 336.0L76.0 332.8L78.8 330.0ZM388.0 363.6L386.9 366.0L386.4 370.0L386.7 372.0L388.0 372.8L390.0 372.0L391.2 370.0L391.7 368.0L391.4 364.0L390.0 362.8ZM104.0 370.2L102.4 374.0L103.2 380.0L104.0 382.3L105.2 384.0L106.0 384.8L108.0 385.5L110.0 383.8L110.8 380.0L110.5 378.0L106.0 370.7L104.0 370.2M154.0 399.3L152.0 400.5L150.6 402.0L148.1 406.0L147.6 408.0L148.0 409.1L150.0 410.9L152.0 411.3L156.0 410.3L158.0 408.3L159.1 406.0L159.7 404.0L159.2 402.0L158.0 400.5L156.0 399.3L154.0 399.3M210.0 413.9L207.3 416.0L206.7 418.0L208.2 422.0L208.7 426.0L209.7 428.0L212.0 429.7L216.0 429.9L218.0 428.9L221.0 426.0L224.5 420.0L224.4 418.0L222.0 417.2L220.0 415.0L218.0 415.0L216.0 413.0L212.0 413.5ZM226.0 453.7L225.4 454.0L226.0 454.1L226.0 453.7M314.0 467.0L310.0 468.9L304.0 469.3L302.0 470.4L300.7 472.0L300.5 474.0L302.0 479.0L306.0 484.0L308.0 484.5L314.0 483.2L315.5 482.0L315.3 480.0L317.7 478.0L324.0 477.1L325.2 476.0L326.0 474.0L325.6 472.0L318.0 466.6L316.0 466.2ZM122.0 475.7L120.0 476.2L118.2 478.0L117.1 480.0L116.7 482.0L117.1 484.0L118.0 485.4L120.0 487.2L122.0 487.8L124.0 487.7L126.0 486.8L128.7 484.0L129.4 482.0L128.0 479.2L122.7 476.0ZM284.0 478.8L283.2 480.0L283.1 482.0L284.0 485.3L286.0 487.4L287.3 486.0L287.5 484.0L287.3 482.0L286.0 479.8ZM326.0 478.2L325.4 480.0L326.0 481.2L328.0 480.7L328.0 479.6ZM66.0 353.7L92.0 353.6L98.3 354.0L92.0 360.0L90.0 363.9L88.0 364.9L84.0 365.2L82.3 366.0L82.1 368.0L84.8 372.0L85.3 374.0L86.0 374.8L90.0 374.7L92.0 375.7L94.0 377.5L97.5 386.0L98.1 390.0L98.9 392.0L104.0 396.9L106.0 397.9L108.0 398.1L112.0 397.1L120.0 392.3L124.0 389.1L126.0 386.0L126.6 384.0L128.0 382.2L130.0 381.3L136.3 380.0L135.0 378.0L129.6 374.0L129.1 372.0L129.3 370.0L132.0 369.6L134.0 371.5L136.0 371.5L138.0 373.5L142.0 373.5L144.0 375.7L146.1 376.0L146.0 377.2L143.8 380.0L142.9 382.0L146.0 383.8L148.1 382.0L148.7 380.0L148.4 378.0L150.0 377.9L152.0 379.8L154.0 379.7L158.0 383.7L160.0 383.6L160.5 384.0L162.3 386.0L162.0 388.2L166.0 386.7L168.0 388.3L170.0 388.3L171.7 390.0L171.8 392.0L186.0 406.2L188.0 406.2L190.2 408.0L194.4 404.0L195.7 402.0L196.6 402.0L197.9 404.0L197.2 410.0L196.5 412.0L198.0 414.3L200.0 414.6L201.9 416.0L203.9 428.0L204.5 430.0L206.9 434.0L207.2 436.0L200.0 438.4L184.5 454.0L176.0 460.2L172.0 461.6L166.0 461.8L160.0 463.7L156.0 463.8L152.0 463.2L140.0 459.3L138.0 459.0L130.0 459.6L124.0 458.9L106.0 462.2L104.0 462.0L100.0 459.5L98.0 459.3L94.0 460.6L86.0 461.3L82.0 463.8L80.0 463.8L72.0 461.8L66.0 461.9M776.0 360.1L774.0 356.1L772.9 352.0L774.0 350.8L776.0 349.9M66.0 422.3L68.0 423.4L70.0 423.2L73.3 420.0L74.2 418.0L74.3 416.0L73.7 414.0L72.1 412.0L70.0 411.4L66.0 412.7M66.0 507.9L68.0 507.0L68.9 506.0L70.1 502.0L72.0 500.3L74.0 500.8L78.0 502.9L81.9 502.0L84.0 502.2L86.0 501.8L91.6 498.0L92.7 496.0L92.9 494.0L94.0 493.1L98.0 492.8L100.0 493.8L102.0 496.6L104.3 502.0L104.3 508.0L105.6 510.0L108.0 511.5L110.0 512.5L112.0 512.5L114.0 511.4L116.0 511.2L119.5 512.0L122.0 513.6L124.0 516.3L126.0 516.8L132.0 515.0L136.0 516.1L140.0 516.2L142.2 514.0L139.4 508.0L139.1 506.0L139.6 504.0L142.0 500.2L146.3 498.0L152.8 490.0L155.4 488.0L168.0 486.6L170.0 487.5L172.6 490.0L176.1 492.0L177.0 494.0L178.1 500.0L179.8 504.0L180.8 508.0L184.2 514.0L185.6 518.0L189.4 526.0L193.0 532.0L196.1 536.0L197.1 540.0L196.0 542.1L190.0 543.2L184.0 545.5L182.0 548.3L180.0 547.5L178.0 539.7L176.0 538.2L174.0 538.4L168.0 540.9L166.0 542.4L165.1 544.0L164.3 552.0M76.4 552.0L80.0 546.0L82.0 546.5L86.0 552.0M113.5 552.0L112.0 549.9L111.1 546.0L112.2 542.0L110.3 540.0L106.0 539.4L104.0 538.5L96.0 530.8L94.0 530.8L92.0 536.0L90.0 537.0L88.0 537.3L86.0 536.8L84.0 535.5L83.1 534.0L82.3 530.0L80.0 526.7L78.0 524.7L70.4 520.0L66.0 516.3M152.5 552.0L152.7 550.0L154.0 548.1L156.7 546.0L157.7 544.0L158.3 542.0L158.0 539.9L156.0 538.3L154.0 538.3L148.0 541.9L144.0 542.4L142.0 540.4L141.2 536.0L140.0 534.6L138.0 533.6L132.0 532.5L126.0 534.3L123.3 536.0L120.0 541.0L118.0 543.3L116.7 544.0L117.1 548.0L116.0 551.2L115.0 552.0M217.6 552.0L217.2 468.0L221.0 464.0L221.0 462.0L225.2 458.0L225.1 456.0L228.8 452.0L228.2 450.0L229.3 448.0L229.6 446.0L229.0 440.0L229.9 438.0L232.2 436.0L232.3 430.0L230.2 428.0L230.3 424.0L229.0 422.0L228.9 420.0L231.0 418.0L228.2 414.0L225.9 406.0L228.0 404.6L230.0 404.0L238.0 403.9L244.0 403.0L248.0 403.3L250.5 404.0L254.0 406.4L256.0 407.1L262.0 407.2L268.0 408.8L274.0 409.3L290.0 414.2L296.0 415.6L302.0 419.6L310.0 420.6L314.0 422.3L316.0 422.3L320.0 421.1L322.0 421.0L328.1 422.0L342.0 428.4L348.0 430.4L366.0 438.0L370.0 438.8L376.0 438.3L382.0 438.9L384.4 440.0L387.1 442.0L393.0 444.0L396.0 444.0L398.0 442.4L398.4 440.0L397.4 436.0L398.7 434.0L400.0 433.4L402.0 433.6L406.0 436.1L410.0 437.1L414.0 439.8L418.0 441.1L420.5 444.0L422.1 448.0L424.0 449.9L434.0 453.1L441.2 458.0L442.2 460.0L440.0 462.1L439.5 464.0L440.0 465.0L440.7 466.0L444.0 468.4L446.0 469.7L448.0 470.3L450.0 469.9L453.9 468.0L460.0 467.3L464.0 467.5L470.0 465.0L474.0 466.8L480.0 471.6L482.0 472.5L486.0 471.5L488.0 471.7L490.0 472.7L492.0 472.3L495.2 470.0L497.0 468.0L498.9 464.0L500.0 463.2L508.0 459.8L508.9 460.0L509.6 462.0L508.3 464.0L510.0 464.8L518.0 466.4L520.0 466.4L520.6 466.0L521.8 464.0L522.1 462.0L524.0 461.0L526.0 460.8L530.0 463.3L536.4 466.0L537.8 468.0L537.8 470.0L536.9 472.0L533.8 476.0L533.8 478.0L535.1 480.0L536.0 485.4L538.0 487.0L540.0 486.9L542.0 486.0L541.8 484.0L540.3 480.0L540.2 478.0L542.0 474.0L542.3 472.0L544.1 470.0L556.0 468.5L559.3 470.0L560.0 471.2L562.0 472.6L570.0 470.0L572.0 468.9L574.2 462.0L574.0 455.7L574.7 454.0L576.0 452.5L580.0 449.0L582.0 445.3L584.0 438.0L586.0 436.3L592.0 435.2L598.0 434.9L606.0 435.8L612.0 435.4L618.0 435.9L638.0 433.1L646.0 433.3L654.0 432.5L658.0 432.6L664.0 433.7L670.0 435.8L680.0 436.5L686.2 440.0L696.0 442.9L708.0 448.0L710.0 448.4L713.2 448.0L718.0 446.1L728.0 447.1L730.0 446.4L735.9 442.0L740.0 441.2L748.0 440.8L753.4 438.0L758.0 436.8L764.0 442.1L764.9 444.0L767.1 456.0L768.0 457.9L770.0 459.6L772.0 457.4L773.1 454.0L773.2 452.0L771.8 444.0L773.4 436.0L775.8 416.0L775.7 412.0L774.0 408.7L773.3 406.0L772.6 392.0L774.0 373.1L776.0 363.8M307.5 552.0L311.8 544.0L313.8 534.0L317.0 528.0L318.2 524.0L320.0 520.5L323.2 516.0L323.2 512.0L324.0 508.7L328.0 498.3L329.3 496.0L332.0 488.0L335.0 484.0L335.6 482.0L336.0 476.8L336.9 474.0L337.9 472.0L342.0 468.1L346.8 468.0L344.0 467.5L343.2 466.0L342.0 465.7L340.5 464.0L337.4 462.0L330.5 460.0L324.0 457.5L316.0 453.0L312.0 451.8L306.0 448.5L298.0 445.4L292.0 442.4L284.0 439.5L272.0 436.1L270.0 437.3L269.7 442.0L274.3 460.0L275.1 466.0L276.4 470.0L278.1 482.0L280.0 488.0L282.0 492.5L284.2 500.0L286.5 512.0L290.5 526.0L291.1 534.0L292.9 540.0L292.8 548.0L293.4 552.0M421.7 552.0L422.1 550.0L421.7 548.0L418.8 544.0L416.0 539.0L414.0 538.5L410.0 539.0L408.0 540.2L407.1 542.0L405.9 548.0L407.1 552.0M484.3 552.0L485.2 548.0L487.8 544.0L487.6 542.0L484.0 540.3L482.0 541.8L481.0 546.0L482.0 550.9L482.7 552.0M567.5 552.0L570.0 544.0L572.0 542.0L576.0 540.0L578.0 541.2L580.0 543.5L582.0 544.1L586.0 543.5L588.4 542.0L589.7 540.0L590.0 538.0L589.5 534.0L588.0 529.6L586.0 528.6L582.0 533.5L578.0 537.4L574.6 534.0L572.0 532.4L570.0 531.9L568.0 533.1L566.0 535.1L563.3 536.0L560.0 536.5L554.0 536.3L550.0 540.7L548.2 538.0L546.0 537.6L544.0 538.3L542.0 540.0L540.0 540.8L532.0 536.5L530.0 534.4L524.0 531.0L522.5 534.0L522.4 536.0L523.4 538.0L524.0 538.6L528.0 538.9L529.7 540.0L530.0 540.7L530.5 546.0L529.9 552.0M643.3 552.0L644.2 550.0L648.2 546.0L648.2 544.0L646.3 542.0L644.0 540.6L640.0 539.6L638.0 535.5L635.2 534.0L634.1 532.0L634.4 528.0L633.9 526.0L632.6 524.0L630.0 522.2L628.0 522.1L625.3 524.0L625.2 526.0L628.5 530.0L629.1 532.0L628.0 533.1L626.0 534.0L624.0 533.5L620.0 530.9L616.0 530.7L614.0 531.0L612.5 532.0L611.6 534.0L611.2 538.0L611.9 546.0L612.8 548.0L614.0 549.7L618.0 550.0L620.6 552.0M685.7 552.0L686.6 550.0L690.0 546.0L690.0 544.0L686.0 542.0L678.1 540.0L674.0 540.7L660.0 544.7L655.6 552.0M734.7 552.0L732.4 550.0L730.0 549.3L728.0 547.7L725.0 544.0L722.1 542.0L718.0 540.7L714.0 537.5L710.0 537.1L708.0 536.4L706.0 533.4L704.3 532.0L702.9 532.0L698.6 534.0L697.6 536.0L700.0 540.7L708.0 550.0L708.6 552.0M772.7 552.0L772.0 550.0L770.0 549.1L760.0 548.5L756.0 549.0L752.9 550.0L751.0 552.0M112.0 360.0L114.0 359.9L118.0 363.9L120.1 364.0L119.3 372.0L118.6 374.0L118.0 374.3L116.0 373.1L114.0 370.5L111.6 366.0L110.8 364.0L110.9 362.0L111.7 360.0ZM232.0 377.5L234.0 377.4L236.3 378.0L236.8 380.0L234.0 382.2L232.0 382.7L230.0 382.2L229.5 380.0L230.8 378.0ZM150.0 387.8L142.0 398.9L140.0 400.8L134.0 403.9L132.1 406.0L131.4 408.0L131.6 410.0L132.7 412.0L136.0 415.1L146.7 420.0L150.0 420.8L156.0 420.0L158.9 418.0L160.3 416.0L160.9 412.0L163.7 406.0L169.1 400.0L169.9 398.0L169.3 396.0L168.0 395.1L159.5 392.0L154.0 388.7L151.7 388.0ZM562.0 443.6L566.0 442.9L568.7 444.0L571.2 446.0L572.0 448.0L570.9 450.0L566.0 453.2L564.0 452.4L561.1 446.0L561.5 444.0ZM516.0 458.3L518.0 458.8L519.2 460.0L518.0 460.5L515.0 460.0ZM558.0 475.3L556.0 476.6L555.1 478.0L556.0 481.6L558.0 480.3L559.9 476.0ZM512.0 487.9L507.3 492.0L507.5 494.0L509.1 496.0L510.0 496.7L512.0 497.1L514.2 496.0L515.1 494.0L516.1 488.0L516.0 487.4L514.0 486.3L512.0 487.9M554.0 491.5L548.3 496.0L544.4 498.0L542.0 499.8L542.0 502.5L544.0 504.0L546.0 504.3L550.0 504.0L552.0 502.6L554.0 500.3L558.0 498.4L558.7 494.0L558.0 491.8L556.0 490.8L554.0 491.5M330.0 514.0L328.0 514.4L326.1 516.0L327.5 518.0L332.0 520.2L334.7 520.0L336.0 519.3L337.1 518.0L336.0 515.5L334.0 514.1L332.0 514.0ZM172.0 409.2L178.0 410.3L181.4 412.0L187.5 418.0L194.0 426.0L193.8 428.0L192.0 430.5L182.0 437.8L180.0 438.2L176.0 436.0L170.0 434.7L168.8 434.0L168.0 432.6L169.1 424.0L168.5 416.0L169.1 412.0L170.0 410.0Z" fill="none" stroke="#000" stroke-opacity="0.8" stroke-width="0.65"/>
<path d="M90.8 88.0L92.7 92.0L96.9 98.0L104.0 106.8L110.3 116.0L124.9 140.0L129.2 146.0L142.0 159.2L146.6 166.0L154.0 173.7L156.0 176.4L158.0 180.0L162.9 196.0L166.0 203.4L167.7 212.0L171.6 222.0L173.1 230.0L172.9 232.0L172.0 233.2L164.0 238.4L160.3 242.0L148.0 251.0L138.4 260.0L137.7 262.0L138.0 262.2L140.0 262.5L154.0 261.0L164.0 260.7L168.0 261.2L172.1 264.0L180.0 266.3L184.0 268.0L194.0 275.9L196.0 276.3L198.0 275.5L200.0 273.9L202.6 270.0L204.1 266.0L206.0 262.6L208.0 260.3L212.0 257.4L218.0 256.0L227.1 256.0L234.0 254.3L238.0 252.5L240.0 252.6L246.0 256.4L254.0 258.9L258.0 258.5L265.0 256.0L270.0 253.6L274.0 253.2L284.0 254.8L294.0 254.1L298.0 254.6L302.0 254.1L308.0 255.6L312.0 255.0L316.0 255.5L328.0 254.6L334.0 253.6L336.0 254.2L342.0 258.5L344.0 258.9L350.0 257.2L356.0 256.2L358.0 256.3L364.0 258.3L370.0 259.3L374.0 258.3L380.0 254.2L389.0 250.0L391.7 248.0L395.5 244.0L398.0 242.6L402.0 241.6L406.0 241.5L410.0 242.7L412.0 243.9L414.3 246.0L418.0 251.4L422.0 255.9L426.0 259.5L428.0 260.0L432.0 259.4L434.0 258.6L442.0 252.4L446.0 251.5L451.3 252.0L464.0 251.5L468.0 252.5L472.1 256.0L474.0 256.6L482.0 257.0L488.0 256.1L496.0 256.5L504.0 260.0L508.0 264.7L512.0 265.9L518.0 265.6L520.0 266.9L522.0 269.9L524.0 271.5L528.0 272.8L532.0 275.2L540.0 276.5L542.0 277.4L542.8 280.0L542.4 284.0L542.7 286.0L545.2 290.0L548.0 291.9L552.0 292.9L558.5 296.0L562.3 300.0L570.0 303.8L572.7 306.0L580.8 308.0L584.0 309.4L584.9 310.0L586.0 314.3L588.0 314.9L590.1 314.0L590.5 310.0L592.0 307.8L594.0 306.9L596.0 306.7L600.0 307.5L600.6 308.0L601.0 310.0L600.8 312.0L600.0 314.3L597.9 316.0L599.7 324.0L600.9 326.0L607.1 330.0L609.0 332.0L611.0 338.0L612.8 340.0L614.0 340.6L618.0 339.4L626.0 340.0L628.0 341.0L632.0 344.3L638.0 347.0L640.0 348.4L642.4 352.0L643.9 356.0L643.9 362.0L647.3 366.0L647.7 368.0L647.1 372.0L648.0 375.8L650.0 379.0L652.0 379.9L654.0 379.3L658.4 376.0L660.0 374.0L664.4 364.0L666.0 362.7L672.0 360.2L674.3 358.0L676.9 354.0L682.0 351.1L687.7 346.0L693.8 342.0L694.7 340.0L694.3 336.0L695.8 334.0L700.0 333.1L701.8 332.0L704.0 329.5L706.0 328.4L710.0 327.6L718.0 322.2L730.0 319.1L731.4 318.0L734.5 314.0L744.0 307.6L746.0 307.3L748.0 307.6L752.0 309.4L754.0 309.8L758.0 308.8L760.0 309.4L762.0 311.4L764.0 314.8L766.0 320.9L768.1 342.0L768.8 344.0L770.0 344.8L772.0 345.1L776.0 344.4M66.0 198.7L73.5 208.0L77.2 216.0L84.0 221.2L88.3 226.0L89.1 228.0L89.4 232.0L90.4 236.0L94.4 240.0L98.0 244.6L102.8 256.0L106.0 259.0L108.2 264.0L115.2 270.0L115.7 272.0L115.2 274.0L115.9 276.0L132.0 275.6L136.0 275.2L142.0 273.8L160.0 272.8L164.0 272.9L174.0 274.4L176.7 276.0L180.0 279.2L185.3 288.0L192.0 296.8L196.0 299.7L200.0 301.3L202.0 301.6L204.0 301.3L205.9 300.0L206.2 298.0L204.0 289.4L203.8 286.0L204.2 284.0L206.0 281.1L208.0 279.4L212.0 278.3L222.0 278.0L228.0 277.3L234.0 278.6L238.0 278.4L244.0 277.1L246.0 277.2L250.0 279.0L256.0 283.9L258.0 285.0L264.0 286.0L266.1 286.0L268.0 285.4L272.0 283.1L274.0 282.7L284.0 283.4L287.0 282.0L288.2 280.0L290.0 278.4L294.0 277.8L300.0 275.2L302.0 274.8L306.0 274.6L308.0 275.2L316.0 279.2L320.0 278.9L330.0 272.5L332.0 272.2L338.0 274.3L348.0 275.6L354.0 275.8L360.0 273.8L362.0 273.7L364.0 274.0L374.3 278.0L378.0 278.5L382.0 277.7L386.0 275.2L390.0 274.8L400.0 276.1L406.0 278.3L412.0 279.0L418.0 276.9L422.0 276.3L424.0 276.5L428.0 277.7L432.0 280.6L434.0 280.5L438.0 278.4L440.0 278.7L444.0 281.6L448.0 282.3L454.0 285.8L458.0 286.6L461.2 288.0L468.0 298.0L469.9 300.0L479.6 306.0L480.8 308.0L481.8 312.0L483.7 314.0L486.0 315.1L492.0 317.2L498.0 317.7L502.0 314.8L504.0 314.3L506.0 315.6L506.3 318.0L509.5 320.0L511.2 320.0L512.0 319.8L513.6 318.0L513.6 314.0L514.4 312.0L516.0 310.6L518.0 312.0L520.0 316.0L520.3 318.0L519.4 320.0L520.0 322.4L522.0 324.0L522.5 322.0L524.0 320.2L528.0 321.3L534.0 324.0L536.0 326.0L538.7 334.0L542.0 339.5L548.0 340.2L556.0 344.0L558.0 343.5L562.0 340.5L564.0 340.5L570.0 344.0L571.6 346.0L574.3 352.0L575.4 356.0L575.4 360.0L576.0 362.1L578.0 364.4L582.0 366.1L584.0 366.2L590.0 364.4L598.2 366.0L604.0 370.5L612.3 374.0L624.0 386.9L626.0 388.3L632.0 387.4L636.0 389.2L638.0 391.1L641.4 396.0L647.9 400.0L658.0 408.1L660.0 408.8L662.0 408.2L663.3 406.0L663.9 398.0L665.1 394.0L668.0 389.1L670.0 387.0L672.0 385.8L676.0 385.3L684.0 387.7L686.0 387.8L690.0 386.3L696.0 385.4L697.6 384.0L698.9 382.0L700.8 376.0L702.0 374.5L708.0 370.6L719.0 360.0L719.6 358.0L719.6 354.0L720.4 352.0L722.0 349.9L724.0 348.6L726.0 349.5L728.6 352.0L732.0 354.3L736.0 354.9L740.0 354.6L741.2 354.0L742.9 352.0L743.9 348.0L745.9 344.0L746.4 342.0L747.7 340.0L752.0 338.7L758.0 338.9L760.0 340.3L764.0 346.3L766.0 347.5L776.0 345.7M66.0 233.2L72.0 231.1L73.8 228.0L74.2 226.0L73.9 222.0L73.0 220.0L66.0 215.4M82.0 233.5L80.1 234.0L80.1 236.0L82.0 237.4L84.0 237.5L85.4 236.0L84.0 233.9ZM86.0 247.7L82.0 250.7L80.0 251.2L78.0 250.5L76.0 250.5L74.0 252.1L73.4 254.0L86.0 268.1L88.0 268.4L90.0 267.8L94.0 264.9L96.0 264.1L98.3 264.0L100.0 262.8L100.6 260.0L100.0 258.0L95.6 252.0L91.6 250.0L89.9 248.0L88.0 246.8L86.0 247.7M528.0 331.9L526.1 332.0L526.0 334.0L527.6 336.0L530.0 336.0L530.2 334.0L528.1 332.0ZM66.0 330.6L70.0 329.3L72.0 327.4L74.2 324.0L76.0 322.4L83.1 318.0L88.0 315.6L90.0 315.3L92.0 315.7L96.0 317.7L98.0 317.4L100.0 315.9L102.0 315.7L106.0 317.1L108.0 316.9L110.0 315.7L112.0 315.2L118.0 317.5L120.0 317.9L122.0 317.3L128.0 310.7L129.6 308.0L132.0 300.2L133.9 298.0L132.9 292.0L134.0 290.0L136.0 288.8L142.0 288.1L146.6 286.0L158.0 283.9L168.0 283.8L170.0 284.8L174.0 288.6L178.6 294.0L181.3 300.0L187.5 308.0L192.0 310.7L194.0 311.3L208.0 311.1L218.0 309.4L222.0 306.4L224.0 306.2L226.0 306.9L230.5 310.0L234.0 311.6L236.0 311.1L242.0 304.0L244.0 303.5L246.0 304.3L251.6 308.0L252.9 310.0L253.1 314.0L253.7 316.0L256.0 318.9L258.0 319.7L264.0 318.8L270.0 319.2L272.0 318.6L278.0 316.0L286.0 310.8L290.9 306.0L294.0 304.2L298.0 303.1L300.0 303.3L302.0 304.6L304.0 305.2L306.0 305.1L312.0 303.5L318.0 303.6L320.0 304.2L324.0 307.2L326.0 307.8L332.0 307.5L336.0 306.4L342.0 306.5L346.0 305.3L350.0 305.3L354.0 306.3L365.1 312.0L366.0 314.0L366.0 318.3L366.6 320.0L368.0 321.3L374.0 321.0L375.9 320.0L378.0 317.9L380.0 317.6L382.0 318.1L384.8 320.0L386.0 322.4L388.0 322.8L390.0 324.9L395.9 334.0L396.8 336.0L398.0 342.4L400.0 346.8L406.0 353.3L408.0 354.0L410.6 352.0L412.0 351.5L418.0 351.6L420.0 351.2L424.0 348.8L426.0 348.7L432.0 349.6L438.0 351.9L439.3 354.0L438.8 360.0L437.0 364.0L437.6 366.0L440.0 367.2L442.0 367.1L443.0 366.0L444.0 363.4L446.0 363.5L447.8 368.0L450.0 370.1L452.0 369.8L456.0 368.0L458.0 367.8L464.0 369.8L465.6 372.0L466.4 380.0L468.0 382.3L470.0 383.2L474.0 382.8L478.0 383.9L480.0 383.8L484.0 380.2L486.0 380.8L490.0 385.7L492.0 386.2L498.0 385.2L502.0 385.5L506.0 387.2L510.0 390.6L512.0 391.7L518.0 392.6L523.2 396.0L526.0 397.1L530.0 398.0L536.0 398.5L540.0 400.9L544.0 404.4L548.0 406.2L550.0 406.4L554.0 405.7L562.0 402.5L562.9 402.0L564.4 400.0L566.0 399.1L580.1 400.0L590.0 403.3L598.0 404.9L602.7 408.0L608.0 414.4L616.0 419.5L618.0 419.9L634.0 418.9L636.0 417.4L640.0 410.0L642.0 408.2L644.0 407.5L646.0 407.6L648.0 408.5L656.0 415.3L662.0 418.8L666.0 420.3L670.1 420.0L682.0 414.1L686.7 416.0L690.0 416.3L693.7 416.0L698.0 413.9L702.0 409.7L704.0 408.6L706.0 407.9L710.0 407.9L712.0 407.1L715.3 402.0L718.0 395.8L720.0 394.0L726.0 392.8L732.0 386.7L734.0 385.3L736.0 385.1L738.0 385.8L741.5 390.0L744.0 390.3L745.9 388.0L747.4 384.0L750.0 382.0L756.0 382.1L760.0 381.5L762.0 382.5L766.0 386.6L768.0 384.7L770.0 369.4L770.4 360.0L770.0 357.2L768.8 354.0L768.8 350.0L771.8 348.0L776.0 347.0M216.4 552.0L216.0 489.3L212.4 476.0L212.9 468.0L211.7 460.0L210.0 457.6L206.0 457.4L200.0 459.1L196.2 462.0L192.0 464.2L188.0 467.5L186.6 470.0L185.7 480.0L186.6 484.0L188.5 488.0L190.2 494.0L194.5 502.0L196.0 512.0L200.8 524.0L205.8 532.0L206.6 534.0L206.8 540.0L212.0 548.0L213.5 552.0M108.0 299.1L109.0 300.0L109.6 302.0L109.4 304.0L108.0 305.0L106.4 304.0L106.0 303.2L106.0 301.4L106.7 300.0ZM410.0 311.7L414.0 311.5L415.7 312.0L416.1 314.0L416.0 320.1L414.0 321.6L409.4 320.0L407.5 318.0L407.8 314.0L409.3 312.0ZM216.0 413.7L214.1 414.0L215.7 416.0L214.0 418.7L210.9 422.0L210.6 424.0L212.0 426.6L214.0 427.4L216.0 427.1L217.9 426.0L219.7 424.0L221.8 418.0L220.0 415.7L218.0 415.7L216.0 413.7M66.0 352.9L96.0 352.9L100.0 353.4L101.1 354.0L98.9 358.0L98.8 360.0L96.9 364.0L96.9 366.0L98.7 372.0L99.5 378.0L101.3 384.0L104.0 388.3L106.0 389.8L108.0 390.6L110.0 390.5L112.0 389.4L113.3 388.0L114.3 386.0L114.7 382.0L114.0 377.3L106.6 364.0L106.3 362.0L106.9 358.0L108.0 357.5L110.0 357.2L112.0 359.1L114.0 359.1L118.0 362.9L120.0 362.8L122.0 364.4L124.0 364.2L126.0 366.3L128.0 366.3L130.0 368.3L132.0 368.2L134.0 370.2L136.0 370.1L138.0 372.1L142.0 372.1L144.0 374.1L146.0 374.1L148.0 376.1L148.8 376.0L148.0 372.8L143.5 364.0L144.0 361.5L146.3 360.0L152.0 357.6L156.1 354.0L158.0 353.1L164.0 352.9L166.0 352.3L171.0 350.0L176.0 346.6L178.0 346.7L180.0 348.0L182.2 350.0L183.3 352.0L182.1 354.0L178.2 358.0L176.5 368.0L177.5 370.0L178.0 370.5L180.0 370.1L182.7 368.0L186.0 366.9L188.0 367.3L192.0 369.1L194.0 368.4L196.0 366.0L200.5 358.0L200.4 356.0L197.7 352.0L197.6 350.0L198.0 349.3L203.3 346.0L203.9 344.0L206.1 342.0L208.7 336.0L210.0 334.8L212.0 333.9L214.0 334.2L215.5 336.0L218.3 342.0L217.1 344.0L214.0 345.5L210.0 344.8L208.0 345.0L206.4 346.0L206.1 348.0L208.1 352.0L210.1 354.0L214.0 355.1L220.0 359.1L222.0 359.4L223.7 358.0L224.6 356.0L224.7 352.0L225.5 350.0L227.5 346.0L230.0 343.2L232.0 342.8L238.0 347.2L240.0 347.4L246.0 346.4L250.0 346.9L252.0 346.6L256.0 341.9L258.0 341.7L262.0 343.6L266.0 344.0L270.0 345.7L274.0 345.3L276.0 346.7L278.0 349.1L280.0 349.9L282.0 348.7L284.3 346.0L286.0 345.0L288.0 344.3L290.0 344.4L296.0 346.2L297.3 348.0L296.3 352.0L296.6 354.0L298.0 355.2L308.0 356.9L313.0 362.0L316.0 366.6L318.0 365.0L320.0 364.4L324.0 365.0L326.0 363.9L328.2 362.0L332.0 357.5L334.0 356.0L336.0 355.7L338.0 356.6L342.3 360.0L343.4 362.0L344.2 368.0L343.0 374.0L343.3 376.0L344.0 376.9L346.0 377.7L350.0 378.4L351.3 380.0L356.5 394.0L355.4 396.0L354.0 397.0L350.0 398.3L348.0 399.7L347.6 402.0L348.0 402.5L352.0 403.4L360.0 406.5L366.0 405.5L368.4 404.0L370.0 397.0L372.0 395.4L374.0 395.8L382.0 402.3L388.5 406.0L392.0 409.4L396.0 411.0L400.0 415.7L402.0 416.5L404.0 416.0L406.3 414.0L407.0 412.0L406.6 408.0L408.4 402.0L410.0 399.5L412.0 399.0L414.0 401.0L418.0 408.8L420.0 411.7L424.0 413.9L428.0 418.0L430.0 418.6L436.0 419.0L440.0 423.7L442.0 424.1L446.0 422.6L448.0 420.6L450.0 420.8L450.4 422.0L452.0 423.5L454.0 423.7L457.4 422.0L459.4 420.0L460.7 418.0L462.0 414.0L464.7 412.0L470.0 410.1L474.0 409.4L480.0 409.8L485.1 412.0L492.0 419.3L496.0 421.3L500.0 426.7L502.0 427.9L506.0 427.6L510.0 423.2L512.0 421.9L514.0 422.4L516.0 423.6L518.8 426.0L519.6 428.0L519.4 430.0L518.0 431.8L514.0 431.5L513.3 432.0L513.2 434.0L513.8 436.0L515.7 438.0L518.0 438.9L522.4 442.0L524.0 442.8L526.0 442.8L530.0 441.3L536.1 440.0L550.0 434.3L562.0 433.2L572.0 428.7L582.0 426.7L588.0 428.1L594.0 428.5L606.0 431.1L618.0 431.8L622.0 431.6L638.0 429.0L648.0 428.5L662.0 429.0L670.0 431.5L680.4 432.0L692.0 437.1L702.0 439.4L710.8 436.0L713.1 434.0L714.0 431.8L715.9 430.0L720.0 429.2L726.0 430.0L728.0 429.5L731.5 428.0L736.0 425.0L740.0 423.7L744.0 421.5L746.0 421.2L758.0 424.6L760.0 425.8L762.1 428.0L766.3 434.0L768.0 435.6L770.0 435.6L771.7 430.0L773.5 416.0L773.1 412.0L771.5 408.0L770.8 398.0L771.9 376.0L773.0 364.0L772.7 358.0L770.9 352.0L771.8 350.0L776.0 348.7M66.0 483.5L72.0 481.3L74.0 481.0L78.0 481.4L82.0 480.8L86.0 483.1L88.0 483.7L94.0 482.6L100.0 480.8L101.0 480.0L101.7 474.0L101.5 472.0L100.0 470.8L96.0 469.7L92.0 469.5L82.0 472.3L80.0 472.3L66.0 469.4M217.2 552.0L216.7 468.0L220.3 464.0L220.3 462.0L224.6 458.0L224.5 456.0L228.0 452.0L222.8 452.0L222.0 451.1L222.5 446.0L221.4 442.0L220.0 440.2L218.0 440.1L212.0 441.9L200.0 443.2L198.0 444.1L191.6 450.0L186.0 456.4L181.5 460.0L178.0 464.3L174.0 466.8L168.0 468.7L164.3 472.0L163.6 474.0L164.2 476.0L166.0 477.9L174.0 479.1L176.0 480.8L176.7 482.0L177.7 486.0L180.0 491.0L181.5 498.0L184.8 508.0L189.5 518.0L200.0 536.3L205.4 552.0M304.0 552.0L307.9 542.0L309.7 536.0L318.2 516.0L319.2 512.0L322.0 506.0L328.7 488.0L332.2 482.0L333.6 474.0L336.3 468.0L336.6 466.0L334.6 464.0L324.0 460.5L315.5 456.0L310.0 454.5L302.0 450.0L298.0 448.7L292.0 445.7L282.0 442.0L274.0 440.2L272.3 442.0L272.7 446.0L276.5 460.0L276.9 464.0L278.6 470.0L280.1 482.0L281.9 488.0L284.7 494.0L288.6 512.0L292.5 526.0L292.9 532.0L294.8 540.0L294.6 548.0L295.4 552.0M158.0 305.4L160.0 304.8L164.0 304.9L166.0 305.9L172.6 312.0L174.2 314.0L174.4 316.0L172.0 316.8L168.0 316.7L162.0 318.7L160.0 317.8L158.0 315.4L157.0 312.0L157.7 306.0ZM296.0 364.5L294.6 366.0L293.6 368.0L296.0 368.3L297.7 366.0ZM306.0 369.6L305.6 370.0L308.0 370.7L309.7 370.0L308.0 369.1ZM258.0 379.8L250.0 382.6L242.0 389.2L234.0 392.6L232.0 394.6L231.5 396.0L231.7 398.0L237.0 400.0L240.0 400.4L248.0 399.6L254.0 399.7L265.7 398.0L270.0 398.2L280.0 401.8L286.0 406.0L288.0 406.6L296.0 406.8L302.0 409.1L306.0 409.7L310.0 411.0L316.0 410.8L322.0 412.3L350.0 420.8L356.0 423.5L360.0 426.3L370.0 429.2L372.0 428.7L374.0 426.0L374.7 424.0L372.4 422.0L370.0 421.4L364.0 421.1L358.0 421.8L356.2 420.0L355.5 416.0L353.8 414.0L348.0 410.9L345.2 410.0L342.9 408.0L340.0 404.2L335.6 402.0L334.7 396.0L332.0 393.4L328.0 388.4L326.0 387.4L320.0 385.5L316.0 385.8L306.0 384.3L296.0 386.1L290.0 384.4L282.0 383.7L276.0 385.6L267.8 382.0L264.0 379.2L260.0 379.0ZM364.0 379.7L370.0 378.5L372.6 380.0L374.2 382.0L374.8 384.0L374.0 384.9L372.0 385.6L367.7 386.0L366.0 384.9L363.7 382.0L363.4 380.0ZM154.0 393.6L152.0 394.3L148.0 398.1L142.9 406.0L142.6 408.0L144.0 412.0L146.0 414.2L148.0 415.4L150.0 415.9L154.0 415.7L156.0 415.1L158.0 413.5L165.0 400.0L164.7 398.0L164.0 397.5L156.0 393.8ZM206.0 413.4L205.2 414.0L204.5 416.0L204.5 418.0L206.9 428.0L208.0 429.9L210.0 431.7L214.0 433.0L216.0 432.8L220.0 430.3L222.4 428.0L226.4 422.0L226.8 420.0L224.0 416.5L222.0 416.3L220.0 414.3L218.0 414.3L216.0 412.3L208.0 412.8ZM132.0 467.9L128.0 469.6L122.0 468.9L120.0 469.0L116.9 470.0L115.3 472.0L113.9 476.0L108.2 482.0L108.1 484.0L114.0 497.2L122.0 501.5L124.0 501.6L126.0 501.0L129.8 498.0L130.7 494.0L133.6 488.0L136.0 484.2L138.0 482.6L146.0 483.5L150.5 482.0L153.7 480.0L152.9 474.0L152.2 472.0L150.0 470.5L144.0 467.6L140.0 466.4L136.0 466.5L134.0 467.1ZM66.0 387.4L70.0 386.8L72.0 387.3L74.0 389.0L78.0 388.8L80.1 390.0L78.7 392.0L72.8 396.0L70.0 397.6L66.0 398.2M776.0 394.2L776.0 391.2M776.0 443.4L776.0 441.5M776.0 525.4L774.0 526.2L769.6 530.0L772.1 534.0L771.4 536.0L770.0 537.1L768.1 538.0L764.0 537.6L760.0 540.4L758.0 540.8L754.0 540.0L752.5 542.0L748.0 544.2L744.0 544.7L740.0 544.2L734.0 541.6L728.0 536.2L726.0 533.8L719.7 530.0L716.0 526.6L712.0 526.1L710.0 525.2L708.7 524.0L707.3 522.0L706.0 516.7L704.0 512.1L703.2 508.0L703.4 506.0L704.5 504.0L706.0 503.1L712.2 502.0L715.2 498.0L716.0 496.0L711.8 492.0L712.3 490.0L713.6 488.0L717.1 484.0L720.0 482.1L724.0 481.3L731.9 476.0L734.0 471.8L736.0 469.7L741.6 468.0L744.0 465.9L746.0 465.2L747.4 466.0L749.4 470.0L750.0 470.3L754.0 469.1L756.8 476.0L762.0 486.0L763.4 490.0L764.0 494.3L766.0 497.3L768.0 497.4L769.9 496.0L771.3 492.0L772.0 491.2L773.5 490.0L776.0 489.3M218.2 552.0L217.8 538.0L217.7 468.0L221.7 464.0L221.7 462.0L225.8 458.0L225.7 456.0L229.5 452.0L229.3 450.0L233.1 446.0L233.2 444.0L237.2 440.0L235.2 438.0L235.3 436.0L233.4 434.0L233.6 430.0L231.6 428.0L232.0 424.0L240.0 426.9L246.0 429.8L252.0 431.6L256.0 433.6L264.0 435.6L266.0 437.1L266.5 438.0L268.4 450.0L269.3 454.0L272.0 461.4L272.8 468.0L273.9 472.0L274.0 476.0L273.2 478.0L273.1 480.0L275.2 486.0L280.0 494.2L282.0 500.6L282.4 506.0L284.3 514.0L286.2 518.0L286.5 522.0L288.0 525.9L288.4 532.0L290.8 540.0L290.6 548.0L291.0 552.0M174.0 401.4L176.0 401.2L182.0 404.8L187.8 410.0L194.0 412.5L198.0 419.5L199.6 424.0L199.0 430.0L196.0 436.7L194.0 439.6L188.6 444.0L183.7 450.0L181.2 452.0L172.0 456.2L166.0 455.8L160.0 457.0L152.0 457.5L146.5 456.0L140.0 453.2L132.0 452.7L128.0 450.4L126.0 449.8L122.0 449.6L116.0 446.0L112.0 442.7L109.2 442.0L107.2 440.0L107.4 438.0L108.0 437.6L110.0 437.6L114.0 439.2L116.0 438.1L122.0 432.6L128.0 429.6L130.0 429.7L134.0 432.5L137.8 434.0L138.9 438.0L140.0 439.9L142.0 440.4L143.0 440.0L144.5 438.0L143.9 434.0L146.0 431.9L148.7 428.0L152.0 427.0L156.0 427.2L158.0 426.6L160.0 425.3L162.0 421.9L163.4 418.0L164.3 410.0L167.3 406.0L169.7 404.0L173.2 402.0ZM238.0 407.9L242.0 407.2L244.0 407.6L246.0 411.2L248.0 412.9L254.0 414.1L258.0 415.9L268.0 417.6L274.0 417.1L276.0 417.4L286.0 421.2L288.0 423.3L292.0 431.2L294.0 433.7L300.0 438.2L302.0 438.8L302.9 438.0L303.5 436.0L303.6 432.0L306.0 431.1L308.7 432.0L310.0 433.8L314.0 436.6L316.4 440.0L322.0 445.6L330.0 447.2L334.0 444.8L336.0 444.8L340.0 447.0L342.0 447.6L346.0 447.2L348.3 448.0L349.4 450.0L347.3 454.0L346.5 458.0L346.0 458.7L344.0 459.3L334.0 457.3L330.0 455.0L326.5 454.0L324.0 452.7L320.0 448.9L315.9 448.0L313.1 446.0L312.0 444.2L310.0 442.3L302.0 440.7L298.0 440.5L292.0 436.9L286.5 436.0L282.0 434.4L271.9 432.0L266.0 428.5L259.5 426.0L252.0 421.4L238.0 416.5L234.3 414.0L233.5 412.0L234.0 409.6L237.3 408.0ZM628.0 439.4L634.0 439.1L642.0 441.3L646.7 440.0L660.0 439.5L668.0 441.3L670.0 442.0L673.1 444.0L674.2 446.0L673.9 448.0L672.8 450.0L672.7 452.0L674.5 456.0L673.7 460.0L676.0 461.2L680.0 461.0L684.0 461.8L685.6 464.0L683.7 468.0L683.8 472.0L681.3 476.0L681.5 480.0L681.0 482.0L676.0 491.1L674.0 491.4L668.0 490.1L664.0 491.3L662.0 490.9L661.3 490.0L661.0 488.0L660.0 487.2L656.4 490.0L650.0 492.2L646.0 492.8L640.0 492.0L637.9 490.0L637.3 488.0L635.1 484.0L633.4 478.0L634.0 477.1L643.1 472.0L643.8 470.0L643.5 468.0L642.0 465.7L640.0 464.9L638.0 465.1L634.0 466.5L626.0 467.2L624.0 468.2L617.5 476.0L616.2 478.0L615.4 482.0L614.0 483.3L612.0 483.4L610.7 480.0L610.7 478.0L614.2 474.0L614.2 472.0L613.1 470.0L604.0 465.8L602.0 466.5L597.6 470.0L596.0 470.6L594.0 469.6L593.5 468.0L594.0 466.4L598.5 460.0L610.0 454.6L612.1 452.0L614.0 450.5L618.0 448.9L626.1 440.0ZM694.0 449.8L695.1 450.0L694.0 450.3L692.8 450.0ZM248.0 459.0L246.4 462.0L248.0 464.0L250.0 463.1L251.4 460.0L250.0 458.3L248.0 459.0M656.0 459.2L655.3 460.0L655.4 462.0L656.0 462.5L658.2 462.0L658.5 460.0L658.0 459.5ZM694.0 466.0L696.0 466.7L701.5 470.0L706.0 475.5L710.0 477.4L710.5 480.0L709.8 482.0L708.0 483.6L702.0 482.7L698.0 480.3L696.0 479.6L692.0 479.2L690.0 478.1L688.0 473.0L687.1 472.0L687.2 470.0L688.5 468.0L690.0 467.0L693.9 466.0ZM404.0 483.1L406.0 482.7L408.0 483.6L409.7 486.0L408.0 486.8L406.0 486.6L404.8 486.0L403.3 484.0ZM742.0 496.0L740.3 498.0L739.1 502.0L739.6 506.0L740.0 506.5L742.0 506.7L748.5 502.0L749.6 500.0L749.4 498.0L748.0 495.7L746.0 494.9L744.0 495.1ZM720.0 510.8L718.3 512.0L718.6 514.0L719.6 516.0L722.0 518.1L724.0 518.5L726.8 518.0L727.6 516.0L726.0 512.4L724.0 510.6L722.0 510.4ZM740.0 519.0L739.4 520.0L739.6 522.0L742.0 523.6L743.5 522.0L742.0 519.0Z" fill="none" stroke="#000" stroke-opacity="0.75" stroke-width="0.65" stroke-dasharray="3 6"/>
<path d="M60 80L365 80L365.0 92.4L367.0 95.0L364.0 96.6L356.0 99.0L348.0 101.4L343.0 102.6L348.0 102.8L358.0 100.2L366.0 97.6L370.0 98.0L375.0 101.0L379.0 105.0L380.4 110.0L378.0 113.0L374.0 115.0L368.0 118.0L362.0 120.6L356.0 122.6L350.0 124.0L344.0 125.0L340.0 125.0L330.0 125.0L320.0 126.0L312.0 126.0L304.0 127.4L298.0 132.0L292.0 134.6L286.0 138.0L280.0 143.0L272.4 149.0L273.2 149.6L280.0 145.2L287.0 140.4L294.0 136.4L300.0 133.4L308.0 132.2L315.0 132.6L320.0 135.0L321.0 138.0L318.0 140.0L313.0 142.0L308.0 141.2L311.0 144.0L316.0 145.0L318.0 148.0L320.0 151.0L322.0 153.0L325.0 154.0L328.0 156.0L332.0 157.0L338.0 157.4L341.0 155.0L344.0 151.0L347.0 148.6L349.0 150.0L350.0 154.0L348.0 156.0L344.0 157.4L340.0 158.6L336.0 160.0L330.0 162.0L324.0 164.0L320.0 166.0L316.0 168.6L312.0 171.0L309.6 171.4L308.0 169.0L310.0 166.0L314.0 163.4L318.0 161.0L322.0 159.0L323.0 157.4L320.0 157.4L316.0 159.4L312.0 160.6L308.0 162.0L304.0 163.0L299.0 165.0L294.0 166.6L290.0 167.4L286.0 170.0L282.0 173.0L279.0 177.0L277.0 180.6L276.0 184.0L279.0 183.0L280.2 184.6L277.6 187.0L275.0 185.8L272.0 186.0L266.0 188.0L260.0 190.0L254.0 192.0L251.0 194.0L249.0 197.0L247.0 203.0L245.0 207.0L243.0 210.0L241.0 213.0L240.0 217.0L239.0 221.0L239.4 225.0L240.4 221.0L241.4 227.0L240.0 230.0L235.0 232.0L230.0 234.4L222.0 239.0L216.0 243.0L210.0 247.0L205.0 252.0L201.6 257.0L200.0 262.0L200.4 268.0L201.6 274.0L203.0 280.0L205.0 285.0L207.0 290.0L208.0 295.0L207.0 299.0L204.0 301.0L200.0 299.6L197.0 296.0L195.0 292.0L192.0 287.0L189.0 282.0L186.0 277.0L182.0 273.0L178.0 270.0L173.0 268.0L176.2 267.5L170.0 268.0L162.5 265.5L156.2 267.0L150.0 265.5L146.2 267.0L144.5 270.0L147.5 273.8L144.0 274.5L140.5 271.0L135.0 268.0L127.5 268.8L120.0 268.0L112.5 269.5L105.0 271.2L100.0 273.8L95.0 277.5L91.2 282.5L89.5 287.5L88.8 293.8L87.5 300.0L86.2 307.5L87.0 315.0L88.8 322.5L90.0 330.0L93.8 337.5L97.5 342.5L102.5 346.2L108.8 348.0L115.0 348.8L121.2 347.5L126.2 346.2L131.2 342.5L135.0 337.5L136.2 331.2L138.8 327.5L143.8 326.2L150.0 325.0L156.2 324.5L161.2 326.2L162.5 332.5L160.0 340.0L157.5 347.5L156.2 352.5L153.8 357.5L152.5 362.5L150.0 365.0L149.2 367.5L152.5 367.0L158.5 366.7L164.5 367.0L170.5 366.7L176.5 367.7L182.5 370.0L186.2 373.7L186.7 379.0L185.5 385.0L184.0 391.0L183.1 397.0L183.8 395.0L185.6 401.2L188.8 406.2L192.5 410.6L196.2 413.5L200.0 414.8L203.8 414.4L206.9 412.8L210.0 411.9L213.8 410.6L217.5 411.2L221.2 413.1L223.8 415.0L226.2 417.5L228.8 420.0L230.6 421.0L230.0 418.8L232.5 415.6L236.2 410.6L239.8 405.6L241.2 404.4L245.0 401.9L248.8 400.0L252.5 398.8L256.2 397.5L260.0 396.2L263.8 394.4L267.5 391.9L270.0 391.2L271.9 392.5L270.6 395.0L269.4 396.9L268.8 400.6L267.5 404.4L266.2 408.8L267.5 412.5L270.0 414.0L271.9 412.8L272.5 409.4L271.2 406.2L269.5 404.0L269.8 400.6L271.2 397.5L273.8 396.2L277.5 394.8L274.2 398.0L277.5 396.5L279.8 393.5L281.8 397.0L286.2 398.0L292.5 398.8L295.5 402.5L302.5 403.8L308.8 405.5L315.0 406.2L322.5 405.0L330.0 404.5L336.2 402.5L343.0 401.8L343.0 406.2L340.0 408.8L343.8 412.5L346.2 417.5L352.5 420.0L357.5 423.8L362.5 428.8L370.0 433.8L380.0 436.2L390.0 438.8L390.0 438.8L395.0 441.2L400.0 443.8L405.0 447.5L410.0 452.5L415.0 458.8L418.8 465.0L420.5 470.0L418.0 473.8L423.8 476.2L430.0 480.0L436.2 483.8L443.8 485.0L450.0 487.5L456.2 491.2L460.0 495.0L467.5 496.2L477.5 495.0L488.8 493.8L492.5 500.0L497.5 505.0L505.0 507.5L512.5 511.2L518.8 512.5L522.5 515.0L525.0 521.2L526.2 532.5L524.5 550.0L520 560L190 560L222.5 552.5L220.0 547.0L217.5 537.5L213.8 530.0L210.0 522.5L207.5 515.0L205.0 508.0L207.5 502.5L210.5 497.5L209.5 490.0L210.0 480.0L213.0 470.0L217.5 466.2L222.5 461.2L227.5 456.2L231.2 450.0L229.4 440.0L228.8 435.0L228.1 430.0L226.9 426.2L224.4 423.1L223.8 420.0L221.2 417.5L217.5 415.6L213.8 414.5L210.0 416.9L206.9 420.0L207.8 423.8L206.0 426.5L204.4 429.0L203.8 425.2L201.9 423.1L198.8 420.6L195.0 418.8L191.2 416.2L187.5 413.1L183.8 410.6L179.5 409.0L176.5 408.2L172.0 404.2L169.7 400.0L167.5 397.0L164.5 393.2L161.5 390.2L158.5 386.5L157.0 383.5L154.0 385.0L148.0 384.2L142.0 382.7L136.0 379.7L123.8 376.2L117.5 372.5L110.0 367.5L102.5 366.2L93.8 367.5L85.0 365.0L77.5 361.2L70.0 358.8L60.0 355.0ZM380.6 116.1L378.1 117.4L376.5 120.8L374.0 124.9L372.5 127.4L373.2 129.0L376.2 128.0L380.0 128.6L383.1 131.1L387.5 131.8L395.0 131.8L392.5 134.9L395.0 137.4L398.1 138.0L400.0 141.8L401.2 144.9L399.4 148.6L396.2 150.5L393.1 148.0L393.8 144.9L391.9 143.0L390.0 144.2L386.2 145.5L382.5 148.0L379.4 148.6L380.0 146.1L378.1 144.2L373.8 144.2L368.8 143.6L362.5 143.6L355.6 143.0L356.9 140.5L359.4 138.6L361.2 136.1L363.1 133.6L365.6 129.9L367.5 126.8L370.0 123.0L373.1 119.2L376.9 116.5ZM323.0 129.4L328.0 129.4L334.0 131.0L338.0 133.0L336.0 134.0L330.0 133.0L325.0 131.4ZM321.0 149.0L325.0 150.0L330.0 151.4L335.0 152.6L334.0 154.0L329.0 153.6L324.0 152.4L321.0 151.0ZM176 324L177.5 322.5L181 320.5L185 318.75L190 317.5L195 317L200 317.5L205 318.75L209 320L212.5 321.25L216 323L220 325L225 327L230 328.75L235 330.5L240 332.5L245 334.5L250 336L251.5 337.5L250 338.5L246 339L242.5 339.25L237 338.8L232.5 338L228 336.25L224.5 333L221.5 331L218.75 329.5L215 327.8L211.25 326.25L207.5 325.2L203.75 324.25L200 323.5L196.25 323L192.5 322.8L188.75 323L185 324L181.25 325.2L178 325.5ZM222.5 349.0L227.5 347.2L233.8 348.8L235.5 351.2L230.0 352.8L223.8 351.5ZM249.0 349.0L253.0 345.5L259.0 346.0L261.5 342.0L260.0 337.0L265.5 334.5L275.0 335.0L283.8 338.0L288.0 343.0L291.5 347.5L286.2 349.0L280.5 347.5L275.0 350.0L272.5 352.5L267.5 351.2L262.5 350.0L256.2 351.2L250.0 350.8ZM300.0 347.5L308.8 347.0L310.2 350.0L301.2 351.2ZM337.0 403.0L342.5 402.2L342.0 407.0L337.0 407.5ZM192.0 325.8L195.0 325.2L196.0 327.2L193.0 327.8ZM718.9 89.9L711.9 91.3L709.8 94.8L700 96.9L700.7 102.5L707 104.6L703.5 107.4L697.2 112.3L701.4 116.5L711.9 114.4L725.2 111.6L728.0 106.0L727.3 103.2L726.6 99.0L731.5 96.9L730.1 93.4L726.6 90.6ZM729.4 85L735.0 92.0L745.5 92.7L744.8 95.5L749.7 98.3L749.0 103.2L738.5 103.6L737.8 107.4L741.3 109.5L733.6 113.7L740.6 115.4L749.0 117.2L746.2 118.6L739.9 119.3L735.0 123.5L730.1 126.7L733.6 127.3L744.4 125.6L752.9 123.2L760.9 122.4L772.1 121.8L780.5 118.6L780.5 85ZM780.5 125.6L771.4 129.1L768.6 131.9L761.6 131.2L758.8 129.1L756.7 129.4L759.5 136.4L751.1 136.8L745.5 135.4L736.4 137.8L737.1 141.0L748.3 144.2L754.6 146.2L757.4 151.5L761.6 153.9L762.3 158.2L761.2 164.4L758.1 173.2L743.4 172.8L730.1 171.8L716.1 170.4L711.2 173.2L704.9 176.3L709.1 181.6L710.9 188.9L710.1 195.6L707.7 201.6L706.6 205.8L709.8 207.8L710.1 211.3L709.1 217.7L714.7 218.0L721.7 216.6L725.9 221.5L730.8 225.0L732.9 224.0L739.2 220.1L752.9 219.8L755.3 219.8L763.0 213.8L766.5 208.6L772.1 205.8L780.5 200.5ZM780.5 221.5L770.7 225.0L765.4 227.1L756.0 231.3L749.4 229.9L742.7 230.6L732.9 225.7L728.7 226.4L726.6 232.0L722.1 238.7L716.8 241.8L710.5 244.2L705.2 250.9L701.4 256.5L701.1 262.5L702.8 264.2L698.6 271.2L690.6 277.5L679.7 281.4L676.2 287.3L668.5 294.3L665.0 303.4L658.7 311.1L654.5 320.9L650.6 331.4L653.8 332.1L655.9 341.2L658.0 350.3L654.5 365.0L647.5 373.8L652.4 379.0L653.1 383.2L652.8 390.9L659.4 395.1L665.0 400.7L674.1 410.5L677.2 417.9L679.7 424.5L690.2 430.1L694.4 432.9L707.0 442.0L716.1 446.6L727.3 442.4L742.0 440.2L749.0 441.3L755.3 443.8L768.6 438.1L780.5 433.6L780.5 267Z" fill="#d3d3d3" stroke="#000" stroke-width="0.9" stroke-linejoin="round"/>
<path d="M75.6 104.0L78.0 100.0L81.0 97.4L85.0 97.4L86.0 100.6L84.0 101.4L87.0 105.0L90.0 110.0L93.0 114.6L96.0 117.0L97.0 121.0L95.0 124.0L92.6 124.0L92.0 120.0L91.0 117.0L88.0 115.0L85.0 113.0L82.0 110.0L79.0 108.0L77.0 106.6ZM72.0 116.0L76.0 115.0L79.0 116.0L78.0 119.0L80.0 122.0L83.0 125.0L82.0 126.6L79.0 125.0L77.0 122.0L75.0 119.0L72.0 117.0ZM69.0 106.6L72.4 107.6L72.6 112.0L70.0 113.4L68.4 112.0ZM103.0 131.4L105.0 129.4L110.0 129.4L111.6 132.0L110.0 134.6L105.0 135.4L103.0 134.0ZM116.0 135.4L119.0 136.0L123.0 138.0L122.0 139.0L118.0 138.0L116.0 136.6ZM125.0 150.0L129.0 148.0L134.0 145.0L140.0 143.0L145.0 140.0L149.0 137.4L152.0 134.6L158.0 136.0L164.0 136.6L169.0 141.0L175.0 142.0L178.0 146.0L180.0 150.0L178.0 152.0L175.0 150.0L171.0 149.4L166.0 148.6L162.0 146.0L158.0 145.0L154.0 147.0L151.0 149.4L148.0 148.0L143.0 148.0L139.0 149.0L134.0 150.0L130.0 150.0ZM155.0 165.0L158.0 161.0L161.0 158.6L166.0 156.0L171.0 155.0L175.0 155.0L176.0 157.4L173.0 160.0L170.0 161.0L169.0 164.0L167.0 167.0L166.0 172.0L167.0 177.0L166.0 182.0L163.0 185.0L159.0 186.0L156.0 183.0L155.0 177.0L155.6 171.0ZM178.0 155.4L182.0 154.0L188.0 154.0L193.0 155.4L198.0 156.0L202.0 155.4L206.0 158.0L209.0 161.4L211.0 164.6L209.0 165.4L205.0 164.0L202.4 162.0L200.4 160.6L201.0 167.0L200.0 172.0L198.0 175.0L195.0 174.6L193.0 171.0L191.0 168.0L188.0 168.6L186.0 171.4L183.0 172.0L182.0 170.0L184.4 168.0L185.0 164.0L183.0 160.0L180.0 158.0ZM185.6 184.6L189.0 182.6L191.0 179.4L194.0 181.0L200.0 179.0L206.0 177.4L212.0 176.6L217.2 176.8L216.4 178.8L211.0 181.0L205.0 183.0L199.0 185.0L193.0 187.0L188.0 187.0ZM212.0 173.0L217.0 171.4L224.0 170.0L232.0 168.0L239.0 166.0L240.0 167.4L237.0 170.0L236.0 173.0L230.0 174.0L222.0 175.0L216.0 175.4L212.0 174.6ZM193 85L193.0 92.4L193.6 97.0L195.0 102.0L193.0 105.0L196.0 107.0L200.0 106.0L203.0 107.0L205.0 113.0L203.0 119.0L207.0 118.0L212.0 119.0L217.0 117.0L220.0 113.0L224.0 111.4L222.0 110.0L219.0 105.0L218.0 98.0L215.0 94.0L215.0 92.4L215 85Z" fill="#00c8ff" stroke="#000" stroke-width="0.9" stroke-linejoin="round"/>
<path d="M168.2 393.2L170.2 392.2L172.7 394.0L175.0 396.7L174.4 398.8L172.0 398.5L169.7 396.7Z" fill="#d7ff14" stroke="#000" stroke-width="0.8"/>
<path d="M267.5 404.8L266.2 408.8L267.5 412.5L270.0 414.0L271.9 412.8L272.5 409.4L271.2 406.2L269.5 404.2Z" fill="#ff9b00" stroke="#000" stroke-width="0.8"/>
<path d="M223 291L226 293L230 293.5M231 290L233 294L235 297M223 303L225 308L227 311L225 304M236 299L238 303L240 308M242 305L244 309M245 311L248 315L249 318M251 317L253 321M255 326L258 327.5L256 328M243 313L246 314M259 322L261 324M330 352L331.5 354L330 355M338 362L339.5 364.5L338 365M340 369L341.5 371.5L340 372.5M342 376L343 379L341.5 379.5M343 383L344 385M346 388L347 390M336 357L337 359M237.5 217L235.5 213L236.5 208L235 204L236 200.5L234.5 198M235.5 213L233 212.5L231.5 214M236.5 208L233.5 207.5L232 209.5M235 204L232.5 203M243 207.5L241 204.5L240 201L241 199M236 221L233 220L231 222M237 225L234.5 226L233 229L235.5 230L238 228M129.5 479L131 477.5L133 479L132.5 482.5L130.5 483L129.5 479M134 480.5L135.5 480L136 482L134.5 482.5L134 480.5M136.5 484L138 483.5L138.5 485L137 485.5L136.5 484M131 475.5L132 475L132.5 476L131 475.5M411.2 481L413 477.5L416 476L422.5 477L428.5 480L427.5 486L425 492L420 491.5L415 491L411.5 487L411.2 481M411 478L408.5 480.5L407.5 485.5L409 491.5L412 492.5M414 481L418 480L421 482L419 485L415 484.5L414 481" fill="none" stroke="#000" stroke-width="0.8"/>
<circle cx="92.5" cy="239.5" r="0.9" fill="#223"/><circle cx="193" cy="241" r="0.9" fill="#223"/><circle cx="176" cy="261.5" r="0.9" fill="#223"/><circle cx="254" cy="165" r="0.9" fill="#223"/><circle cx="254.5" cy="170" r="0.9" fill="#223"/>
<path d="M124 374L125 370L128 364.5L137 364L134.5 361L130 356.5L133.5 355.5L134.5 352.5L145 352L150 350L153 345.5L154.5 348M224 415.5L226 419L228.5 421.5L229.5 425" fill="none" stroke="#7080a8" stroke-width="0.6"/>
<g font-size="20" text-anchor="middle" stroke="#000" stroke-width="0.35">
<text x="444" y="137.2" transform="rotate(-32 444 130)">6</text>
<text x="527" y="138.2" transform="rotate(5 527 131)">10</text>
<text x="566" y="150.2" transform="rotate(5 566 143)">12</text>
<text x="484.5" y="165.7" transform="rotate(-18 484.5 158.5)">8</text>
<text x="525" y="179.2" transform="rotate(5 525 172)">16</text>
<text x="607" y="179.2" transform="rotate(0 607 172)">14</text>
<text x="437" y="185.2" transform="rotate(-65 437 178)">14</text>
<text x="310" y="196.2" transform="rotate(-35 310 189)">6</text>
<text x="350.5" y="189.2" transform="rotate(0 350.5 182)">8</text>
<text x="392" y="190.2" transform="rotate(0 392 183)">10</text>
<text x="257.5" y="224.2" transform="rotate(-42 257.5 217)">12</text>
<text x="483" y="222.2" transform="rotate(10 483 215)">18</text>
<text x="650" y="223.2" transform="rotate(0 650 216)">16</text>
<text x="530" y="234.2" transform="rotate(10 530 227)">18</text>
<text x="307" y="246.2" transform="rotate(-47 307 239)">20</text>
<text x="239.5" y="273.0" transform="rotate(0 239.5 265.8)">22</text>
<text x="551" y="275.2" transform="rotate(80 551 268)">20</text>
<text x="186" y="288.2" transform="rotate(70 186 281)">22</text>
<text x="283" y="303.2" transform="rotate(0 283 296)">24</text>
<text x="360" y="288.2" transform="rotate(45 360 281)">24</text>
<text x="553" y="316.2" transform="rotate(0 553 309)">22</text>
<text x="630" y="327.2" transform="rotate(-55 630 320)">20</text>
<text x="181" y="330.2" transform="rotate(25 181 323)">26</text>
<text x="366" y="340.2" transform="rotate(-60 366 333)">26</text>
<text x="645" y="400.2" transform="rotate(60 645 393)">22</text>
<text x="475" y="415.2" transform="rotate(15 475 408)">26</text>
<text x="130" y="419.2" transform="rotate(-90 130 412)">28</text>
<text x="667" y="444.2" transform="rotate(0 667 437)">28</text>
<text x="525" y="475.2" transform="rotate(-5 525 468)">28</text>
<text x="183" y="496.2" transform="rotate(65 183 489)">26</text>
</g>
<path d="M140 92V548M210 92V548M280 92V548M350 92V548M420 92V548M490 92V548M560 92V548M630 92V548M700 92V548M70 127.5H771M70 197.5H771M70 267.5H771M70 337.5H771M70 407.5H771M70 477.5H771" stroke="#000" stroke-opacity="0.4" stroke-width="1" fill="none"/>
</g>
<path d="M69.5 92.5H770.5M69.5 547.5H770.5" stroke="#000" stroke-width="1.2" fill="none"/><path d="M70 92V548M770 92V548" stroke="#000" stroke-width="1.3" stroke-opacity="0.85" fill="none"/>
<path d="M70 77.5V92.5M70 547.5V562.5M140 77.5V92.5M140 547.5V562.5M210 77.5V92.5M210 547.5V562.5M280 77.5V92.5M280 547.5V562.5M350 77.5V92.5M350 547.5V562.5M420 77.5V92.5M420 547.5V562.5M490 77.5V92.5M490 547.5V562.5M560 77.5V92.5M560 547.5V562.5M630 77.5V92.5M630 547.5V562.5M700 77.5V92.5M700 547.5V562.5M770 77.5V92.5M770 547.5V562.5M54.5 127.5H70M770 127.5H786.5M54.5 197.5H70M770 197.5H786.5M54.5 267.5H70M770 267.5H786.5M54.5 337.5H70M770 337.5H786.5M54.5 407.5H70M770 407.5H786.5M54.5 477.5H70M770 477.5H786.5M54.5 547.5H70M770 547.5H786.5" stroke="#000" stroke-width="1.1" fill="none"/>
<text x="43.6" y="134.2" font-size="16" text-anchor="end">50N</text>
<text x="43.6" y="204.2" font-size="16" text-anchor="end">40N</text>
<text x="43.6" y="274.2" font-size="16" text-anchor="end">30N</text>
<text x="43.6" y="344.2" font-size="16" text-anchor="end">20N</text>
<text x="43.6" y="414.2" font-size="16" text-anchor="end">10N</text>
<text x="43.6" y="484.2" font-size="16" text-anchor="end">0</text>
<text x="43.6" y="554.2" font-size="16" text-anchor="end">10S</text>
<text x="69.8" y="587.5" font-size="16" text-anchor="middle">100W</text>
<text x="139.8" y="587.5" font-size="16" text-anchor="middle">90W</text>
<text x="209.8" y="587.5" font-size="16" text-anchor="middle">80W</text>
<text x="279.8" y="587.5" font-size="16" text-anchor="middle">70W</text>
<text x="349.8" y="587.5" font-size="16" text-anchor="middle">60W</text>
<text x="419.8" y="587.5" font-size="16" text-anchor="middle">50W</text>
<text x="489.8" y="587.5" font-size="16" text-anchor="middle">40W</text>
<text x="559.8" y="587.5" font-size="16" text-anchor="middle">30W</text>
<text x="629.8" y="587.5" font-size="16" text-anchor="middle">20W</text>
<text x="699.8" y="587.5" font-size="16" text-anchor="middle">10W</text>
<text x="769.8" y="587.5" font-size="16" text-anchor="middle">0</text>
<text x="420.3" y="75" font-size="20.6" font-weight="bold" text-anchor="middle">NWS National Hurricane Center (NCEP/NOAA)</text>
<text x="420.6" y="609.8" font-size="16.45" font-weight="bold" text-anchor="middle">Ocean Analysis - Reynolds Daily Sea Surface Temperature (C) - valid: 2026 - 04 - 01</text>
<rect x="111.60" y="627.5" width="19.27" height="40" fill="#00c8ff" stroke="#000" stroke-opacity="0.8" stroke-width="0.7"/>
<rect x="130.87" y="627.5" width="19.27" height="40" fill="#00ebff" stroke="#000" stroke-opacity="0.8" stroke-width="0.7"/>
<rect x="150.14" y="627.5" width="19.27" height="40" fill="#1effff" stroke="#000" stroke-opacity="0.8" stroke-width="0.7"/>
<rect x="169.41" y="627.5" width="19.27" height="40" fill="#46ffff" stroke="#000" stroke-opacity="0.8" stroke-width="0.7"/>
<rect x="188.68" y="627.5" width="19.27" height="40" fill="#6effff" stroke="#000" stroke-opacity="0.8" stroke-width="0.7"/>
<rect x="207.95" y="627.5" width="19.27" height="40" fill="#96ffff" stroke="#000" stroke-opacity="0.8" stroke-width="0.7"/>
<rect x="227.22" y="627.5" width="19.27" height="40" fill="#82ffdc" stroke="#000" stroke-opacity="0.8" stroke-width="0.7"/>
<rect x="246.49" y="627.5" width="19.27" height="40" fill="#6effbe" stroke="#000" stroke-opacity="0.8" stroke-width="0.7"/>
<rect x="265.76" y="627.5" width="19.27" height="40" fill="#46ff6e" stroke="#000" stroke-opacity="0.8" stroke-width="0.7"/>
<rect x="285.03" y="627.5" width="19.27" height="40" fill="#1efa3c" stroke="#000" stroke-opacity="0.8" stroke-width="0.7"/>
<rect x="304.30" y="627.5" width="19.27" height="40" fill="#0af514" stroke="#000" stroke-opacity="0.8" stroke-width="0.7"/>
<rect x="323.57" y="627.5" width="19.27" height="40" fill="#3cfa0a" stroke="#000" stroke-opacity="0.8" stroke-width="0.7"/>
<rect x="342.84" y="627.5" width="19.27" height="40" fill="#64fa0a" stroke="#000" stroke-opacity="0.8" stroke-width="0.7"/>
<rect x="362.11" y="627.5" width="19.27" height="40" fill="#96fa0a" stroke="#000" stroke-opacity="0.8" stroke-width="0.7"/>
<rect x="381.38" y="627.5" width="19.27" height="40" fill="#befa0a" stroke="#000" stroke-opacity="0.8" stroke-width="0.7"/>
<rect x="400.65" y="627.5" width="19.27" height="40" fill="#d7ff14" stroke="#000" stroke-opacity="0.8" stroke-width="0.7"/>
<rect x="419.92" y="627.5" width="19.27" height="40" fill="#e1ff19" stroke="#000" stroke-opacity="0.8" stroke-width="0.7"/>
<rect x="439.19" y="627.5" width="19.27" height="40" fill="#e8ff1e" stroke="#000" stroke-opacity="0.8" stroke-width="0.7"/>
<rect x="458.46" y="627.5" width="19.27" height="40" fill="#f0ff1e" stroke="#000" stroke-opacity="0.8" stroke-width="0.7"/>
<rect x="477.73" y="627.5" width="19.27" height="40" fill="#f8ff1e" stroke="#000" stroke-opacity="0.8" stroke-width="0.7"/>
<rect x="497.00" y="627.5" width="19.27" height="40" fill="#ffff19" stroke="#000" stroke-opacity="0.8" stroke-width="0.7"/>
<rect x="516.27" y="627.5" width="19.27" height="40" fill="#ffeb14" stroke="#000" stroke-opacity="0.8" stroke-width="0.7"/>
<rect x="535.54" y="627.5" width="19.27" height="40" fill="#ffd70a" stroke="#000" stroke-opacity="0.8" stroke-width="0.7"/>
<rect x="554.81" y="627.5" width="19.27" height="40" fill="#ffc305" stroke="#000" stroke-opacity="0.8" stroke-width="0.7"/>
<rect x="574.08" y="627.5" width="19.27" height="40" fill="#ffab00" stroke="#000" stroke-opacity="0.8" stroke-width="0.7"/>
<rect x="593.35" y="627.5" width="19.27" height="40" fill="#ff9b00" stroke="#000" stroke-opacity="0.8" stroke-width="0.7"/>
<rect x="612.62" y="627.5" width="19.27" height="40" fill="#ff8700" stroke="#000" stroke-opacity="0.8" stroke-width="0.7"/>
<rect x="631.89" y="627.5" width="19.27" height="40" fill="#ff7300" stroke="#000" stroke-opacity="0.8" stroke-width="0.7"/>
<rect x="651.16" y="627.5" width="19.27" height="40" fill="#ff5f00" stroke="#000" stroke-opacity="0.8" stroke-width="0.7"/>
<rect x="670.43" y="627.5" width="19.27" height="40" fill="#ff4b00" stroke="#000" stroke-opacity="0.8" stroke-width="0.7"/>
<rect x="689.70" y="627.5" width="19.27" height="40" fill="#ff320a" stroke="#000" stroke-opacity="0.8" stroke-width="0.7"/>
<rect x="708.97" y="627.5" width="19.27" height="40" fill="#ff1e0a" stroke="#000" stroke-opacity="0.8" stroke-width="0.7"/>
<text x="130.9" y="695.2" font-size="21" text-anchor="middle">5</text>
<text x="227.2" y="695.2" font-size="21" text-anchor="middle">10</text>
<text x="323.6" y="695.2" font-size="21" text-anchor="middle">15</text>
<text x="419.9" y="695.2" font-size="21" text-anchor="middle">20</text>
<text x="516.3" y="695.2" font-size="21" text-anchor="middle">25</text>
<text x="612.6" y="695.2" font-size="21" text-anchor="middle">30</text>
<text x="709.0" y="695.2" font-size="21" text-anchor="middle">35</text>
<text x="774" y="723" font-size="13.7" text-anchor="end">Data Source: National Climatic Data Center (NCDC/NOAA)</text>
<defs><clipPath id="nc"><circle cx="40.2" cy="40.7" r="25.7"/></clipPath><path id="na1" d="M14.48 48.56A26.9 26.9 0 1 1 65.78 49.01"/><path id="na2" d="M13.20 54.46A30.3 30.3 0 0 0 66.95 54.92"/><path id="wa1" d="M747.85 59.26A21.9 21.9 0 1 1 773.28 58.59"/><clipPath id="wc"><circle cx="760.1" cy="41.1" r="18.3"/></clipPath></defs>
<circle cx="40.2" cy="40.7" r="25.7" fill="#1e96f0"/>
<g clip-path="url(#nc)"><path d="M8 8H72V27.5C68 27.6 62 28 58.5 32.5C55.5 36.5 51.5 41 47 43C43 44.6 40 45 37.5 43.8C32 41 27 34.5 23 30.5C19.5 27.5 14 27.6 8 28Z" fill="#19147d"/><path d="M12 30C17 28.2 20.5 28.6 23.5 31C27.5 34.5 32 41 37.5 43.8C40 45 43 44.6 47 43C51.5 41 55.5 36.5 58.5 32C60 29.5 62.5 27.5 66 26.8C64.5 29 62.5 32.5 60 36C56.5 40.5 52 44.6 47.5 46.6C44 48.2 41 49 39.2 49.4C37.6 50.4 35.4 51 33 50.6C34.4 50 35 49.6 35.6 48.9C30 47.6 25.5 44 21.5 40.5C18.5 38 16 37 12 37.6Z" fill="#fff"/></g>
<text x="39.8" y="31.6" font-size="9.2" font-weight="bold" text-anchor="middle" style="fill:#fff" textLength="20.5" lengthAdjust="spacingAndGlyphs">NOAA</text>
<text font-size="3.7" style="fill:#19147d" font-weight="bold"><textPath href="#na1" textLength="99.9" lengthAdjust="spacingAndGlyphs">NATIONAL OCEANIC AND ATMOSPHERIC ADMINISTRATION</textPath></text>
<text font-size="3.7" style="fill:#19147d" font-weight="bold"><textPath href="#na2" textLength="65.1" lengthAdjust="spacingAndGlyphs">U.S. DEPARTMENT OF COMMERCE</textPath></text>
<circle cx="63.6" cy="15.2" r="1.2" fill="none" stroke="#2a7a3a" stroke-width="0.5"/>
<circle cx="760.1" cy="41.1" r="18.3" fill="#3cb4e6"/>
<g clip-path="url(#wc)"><path d="M760.1 49.1L732.7 36.9L735.8 31.5Z" fill="#1e82d2"/><path d="M760.1 49.1L740.0 26.8L745.1 23.1Z" fill="#1e82d2"/><path d="M760.1 49.1L750.8 20.6L757.0 19.3Z" fill="#1e82d2"/><path d="M760.1 49.1L763.2 19.3L769.4 20.6Z" fill="#1e82d2"/><path d="M760.1 49.1L775.1 23.1L780.2 26.8Z" fill="#1e82d2"/><path d="M760.1 49.1L784.4 31.5L787.5 36.9Z" fill="#1e82d2"/><path d="M738 47C744 50.5 750 52 756 50.5C762 49 768 49.5 774 47.5L784 44V53C776 53.5 770 54 764 55.5C757 57 750 56 742 52.5Z" fill="#fff"/></g>
<circle cx="760.1" cy="41.1" r="18.3" fill="none" stroke="#1e78c8" stroke-width="1.1"/>
<path d="M740.5 42C738.5 40 739 36.5 742 35.5C741.5 32.5 744.5 30.5 747.5 31.5C749 28.8 753 28 755.5 30C758.5 27.8 763.5 28 766 30.5C769.5 29.5 773.5 31 774.5 34C778 33.5 781.5 36 781 39.5C781.5 42.5 779 44.5 776 44C775 47 771 48 768.5 46.5C766 49.5 761 50 758.5 48C755.5 50.5 750.5 50.5 748 48C744.5 49 740.5 46.5 740.5 42Z" fill="#1414aa"/>
<path d="M745.2 23.8L751.5 25.2L759.5 35.5L756.8 36.4L763.5 44L761 44.8L773.5 54.5L757.5 45.8L760.2 44.8L752.6 37.4L755.4 36.4Z" fill="#fff" stroke="#1414aa" stroke-width="0.3"/>
<text font-size="7.9" font-weight="bold" style="fill:#e61e28" stroke="#e61e28" stroke-width="0.25"><textPath href="#wa1" textLength="108.5" lengthAdjust="spacing">NATIONAL WEATHER SERVICE</textPath></text>
<circle cx="752.3" cy="64.6" r="0.9" fill="#2828b4"/><circle cx="767.5" cy="64.6" r="0.9" fill="#2828b4"/><path d="M760.10 63.60L760.60 64.91L762.00 64.98L760.91 65.86L761.28 67.22L760.10 66.45L758.92 67.22L759.29 65.86L758.20 64.98L759.60 64.91Z" fill="#e61e28"/>
</svg>
</body></html>
